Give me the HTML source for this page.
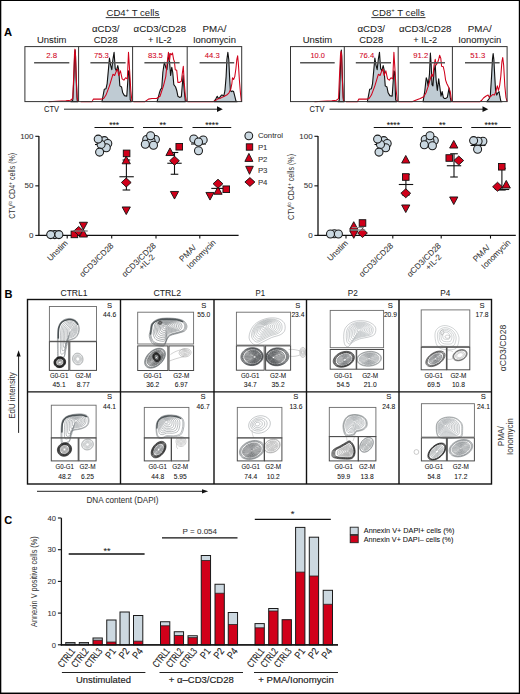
<!DOCTYPE html>
<html><head><meta charset="utf-8"><style>
html,body{margin:0;padding:0;background:#fff;}
svg{display:block;}
text{font-family:"Liberation Sans", sans-serif;}
</style></head><body>
<svg width="520" height="694" viewBox="0 0 520 694">
<rect x="0.5" y="0.5" width="519" height="693" fill="#fff" stroke="#000" stroke-width="1"/>
<line x1="1.5" y1="1" x2="1.5" y2="693" stroke="#000" stroke-opacity="0.3" stroke-width="1"/>
<line x1="1" y1="692.5" x2="519" y2="692.5" stroke="#000" stroke-opacity="0.45" stroke-width="1"/>
<line x1="518.5" y1="1" x2="518.5" y2="693" stroke="#000" stroke-opacity="0.2" stroke-width="1"/>
<text x="4" y="35.8" font-size="11.2" text-anchor="start" fill="#000" stroke="#000" stroke-width="0.06" font-weight="bold">A</text>
<text x="106.5" y="15.5" font-size="9.6" fill="#222" textLength="52.7" lengthAdjust="spacingAndGlyphs">CD4<tspan font-size="6" dy="-3.5">+</tspan><tspan dy="3.5"> T cells</tspan></text>
<line x1="105.7" y1="17.6" x2="159.9" y2="17.6" stroke="#333" stroke-width="1"/>
<text x="372.1" y="15.5" font-size="9.6" fill="#222" textLength="52.7" lengthAdjust="spacingAndGlyphs">CD8<tspan font-size="6" dy="-3.5">+</tspan><tspan dy="3.5"> T cells</tspan></text>
<line x1="371.3" y1="17.6" x2="425.5" y2="17.6" stroke="#333" stroke-width="1"/>
<text x="51.7" y="43.4" font-size="9.6" text-anchor="middle" fill="#222" stroke="#222" stroke-width="0.06" textLength="29.5" lengthAdjust="spacingAndGlyphs">Unstim</text>
<text x="105.7" y="32.2" font-size="9.6" text-anchor="middle" fill="#222" stroke="#222" stroke-width="0.06" textLength="27.5" lengthAdjust="spacingAndGlyphs">αCD3/</text>
<text x="105.7" y="43.4" font-size="9.6" text-anchor="middle" fill="#222" stroke="#222" stroke-width="0.06" textLength="23.8" lengthAdjust="spacingAndGlyphs">CD28</text>
<text x="159.85" y="32.2" font-size="9.6" text-anchor="middle" fill="#222" stroke="#222" stroke-width="0.06" textLength="52.5" lengthAdjust="spacingAndGlyphs">αCD3/CD28</text>
<text x="159.85" y="43.4" font-size="9.6" text-anchor="middle" fill="#222" stroke="#222" stroke-width="0.06" textLength="23.8" lengthAdjust="spacingAndGlyphs">+ IL-2</text>
<text x="214.45" y="32.2" font-size="9.6" text-anchor="middle" fill="#222" stroke="#222" stroke-width="0.06" textLength="23.8" lengthAdjust="spacingAndGlyphs">PMA/</text>
<text x="214.45" y="43.4" font-size="9.6" text-anchor="middle" fill="#222" stroke="#222" stroke-width="0.06" textLength="43" lengthAdjust="spacingAndGlyphs">Ionomycin</text>
<text x="317.4" y="43.4" font-size="9.6" text-anchor="middle" fill="#222" stroke="#222" stroke-width="0.06" textLength="29.5" lengthAdjust="spacingAndGlyphs">Unstim</text>
<text x="371.25" y="32.2" font-size="9.6" text-anchor="middle" fill="#222" stroke="#222" stroke-width="0.06" textLength="27.5" lengthAdjust="spacingAndGlyphs">αCD3/</text>
<text x="371.25" y="43.4" font-size="9.6" text-anchor="middle" fill="#222" stroke="#222" stroke-width="0.06" textLength="23.8" lengthAdjust="spacingAndGlyphs">CD28</text>
<text x="425.25" y="32.2" font-size="9.6" text-anchor="middle" fill="#222" stroke="#222" stroke-width="0.06" textLength="52.5" lengthAdjust="spacingAndGlyphs">αCD3/CD28</text>
<text x="425.25" y="43.4" font-size="9.6" text-anchor="middle" fill="#222" stroke="#222" stroke-width="0.06" textLength="23.8" lengthAdjust="spacingAndGlyphs">+ IL-2</text>
<text x="479.75" y="32.2" font-size="9.6" text-anchor="middle" fill="#222" stroke="#222" stroke-width="0.06" textLength="23.8" lengthAdjust="spacingAndGlyphs">PMA/</text>
<text x="479.75" y="43.4" font-size="9.6" text-anchor="middle" fill="#222" stroke="#222" stroke-width="0.06" textLength="43" lengthAdjust="spacingAndGlyphs">Ionomycin</text>
<g>
<path d="M71.04,101.65 L72.77,100.27 L73.92,76.61 L74.61,55.85 L75.07,50.08 L75.54,55.85 L76.23,80.08 L77.15,100.27 L77.96,101.65 Z" fill="#bfcbd3" stroke="#111" stroke-width="1.1" stroke-linejoin="round"/>
<path d="M48.54,101.65 L56.61,101.31 L65.84,100.84 L70.46,100.27 L72.77,98.54 L73.69,76.61 L74.5,53.54 L74.96,49.15 L75.42,53.54 L76.23,76.61 L77.15,97.38 L78.19,101.65" fill="none" stroke="#d0021b" stroke-width="1.05" stroke-linejoin="round"/>
<path d="M101.96,101.65 L104.27,89.31 L106,88.73 L107.15,83.54 L108.31,70.85 L109.46,58.15 L110.61,65.08 L111.77,69.69 L112.92,59.31 L114.08,52.38 L115.23,68.54 L116.38,70.85 L117.77,65.65 L118.69,69.69 L119.84,85.84 L121.58,87 L122.73,92.77 L124.46,95.65 L126.77,96.23 L128.5,70.85 L129.31,72 L130.23,99.69 L131.38,101.65 Z" fill="#bfcbd3" stroke="#111" stroke-width="1.1" stroke-linejoin="round"/>
<path d="M80.62,101.65 L92.15,101.65 L93.31,99.11 L101.38,99.11 L103.69,98.54 L106,95.07 L109.46,85.84 L112.92,74.31 L114.65,75.46 L116.38,70.85 L117.54,69.11 L118.69,75.46 L120.42,70.85 L122.15,78.92 L123.88,80.08 L125.61,77.77 L127.34,78.92 L128.5,52.38 L129.65,70.85 L130.81,90.46 L131.96,101.65" fill="none" stroke="#d0021b" stroke-width="1.05" stroke-linejoin="round"/>
<path d="M157.11,101.65 L159.42,92.77 L160.58,89.31 L161.73,88.15 L162.88,72 L164.38,62.19 L165.77,67.38 L166.92,69.69 L168.08,59.31 L169,53.54 L169.81,65.08 L170.61,75.46 L171.77,67.38 L172.69,72 L173.84,84.69 L175.58,87 L176.73,90.46 L177.88,96.23 L179.61,97.38 L181.34,96.81 L183.07,75.46 L184.23,90.46 L185.38,101.65 Z" fill="#bfcbd3" stroke="#111" stroke-width="1.1" stroke-linejoin="round"/>
<path d="M133.46,101.65 L145,101.65 L148.46,99.11 L151.92,98.54 L156.54,98.54 L160,96.23 L163.46,85.84 L165.77,76.61 L166.92,65.08 L168.42,52.38 L169.58,60.46 L170.38,53.54 L171.54,54.69 L172.46,52.96 L173.61,59.31 L174.42,61.61 L175.23,69.69 L176.73,70.27 L177.88,82.38 L179.61,82.38 L181.34,81.23 L182.5,72 L183.31,66.23 L184.23,82.38 L185.38,96.23 L186.54,101.65" fill="none" stroke="#d0021b" stroke-width="1.05" stroke-linejoin="round"/>
<path d="M214,101.65 L215.73,99.11 L217.23,96.23 L218.38,98.54 L219.77,97.38 L221.5,95.07 L222.42,95.07 L223.81,96.23 L224.96,90.46 L226.11,76.61 L226.92,59.31 L227.84,52.38 L228.77,59.31 L229.58,76.61 L230.38,90.46 L231.31,91.61 L232.46,91.04 L233.61,91.61 L234.77,96.23 L235.92,100.84 L237.07,101.65 Z" fill="#bfcbd3" stroke="#111" stroke-width="1.1" stroke-linejoin="round"/>
<path d="M187.46,101.65 L212.85,101.65 L215.15,100.84 L217.46,99.11 L219.77,98.54 L222.08,97.38 L224.38,96.23 L226.69,95.07 L229,92.77 L230.73,89.31 L231.88,83.54 L232.46,77.77 L233.61,79.5 L234.77,76.61 L235.92,68.54 L236.84,59.31 L237.65,55.85 L238.46,65.08 L239.38,80.08 L240.54,93.92 L241.46,101.65" fill="none" stroke="#d0021b" stroke-width="1.05" stroke-linejoin="round"/>
<path d="M338.19,101.65 L339.34,100.27 L340.15,76.61 L340.84,55.85 L341.31,50.08 L341.77,55.85 L342.46,80.08 L343.38,100.27 L344.19,101.65 Z" fill="#bfcbd3" stroke="#111" stroke-width="1.1" stroke-linejoin="round"/>
<path d="M314.54,101.65 L322.61,101.31 L331.84,100.84 L336.46,100.27 L338.54,98.54 L339.46,76.61 L340.5,54.69 L341.07,51.23 L341.54,54.69 L342.23,76.61 L343.15,97.38 L343.96,101.65" fill="none" stroke="#d0021b" stroke-width="1.05" stroke-linejoin="round"/>
<path d="M367.36,101.65 L369.67,89.31 L371.4,88.73 L372.55,83.54 L373.71,70.85 L374.86,58.15 L376.01,65.08 L377.17,69.69 L378.32,59.31 L379.48,52.38 L380.63,68.54 L381.78,70.85 L383.17,65.65 L384.09,69.69 L385.24,85.84 L386.98,87 L388.13,92.77 L389.86,95.65 L392.17,96.23 L393.9,70.85 L394.71,72 L395.63,99.69 L396.78,101.65 Z" fill="#bfcbd3" stroke="#111" stroke-width="1.1" stroke-linejoin="round"/>
<path d="M346.02,101.65 L357.55,101.65 L358.71,99.11 L366.78,99.11 L369.09,98.54 L371.4,95.07 L374.86,85.84 L378.32,74.31 L380.05,75.46 L381.78,70.85 L382.94,69.11 L384.09,75.46 L385.82,70.85 L387.55,78.92 L389.28,80.08 L391.01,77.77 L392.74,78.92 L393.9,52.38 L395.05,70.85 L396.21,90.46 L397.36,101.65" fill="none" stroke="#d0021b" stroke-width="1.05" stroke-linejoin="round"/>
<path d="M423.11,101.65 L424.85,90.46 L426.23,77.77 L427.15,80.08 L428.08,85.84 L429.46,74.31 L430.38,52.96 L431.19,65.08 L432,84.69 L432.92,85.84 L434.08,70.85 L435.23,65.08 L436.15,80.08 L437.31,90.46 L438.69,78.92 L439.84,87 L441,96.23 L442.15,91.61 L443.31,97.38 L444.46,98.54 L445.61,98.54 L447.34,97.38 L449.07,88.15 L450.23,97.38 L451.15,101.65 Z" fill="#bfcbd3" stroke="#111" stroke-width="1.1" stroke-linejoin="round"/>
<path d="M398.31,101.65 L412.15,101.65 L415.61,100.27 L420.23,98.54 L423.69,96.81 L426,92.77 L428.31,85.84 L430.61,77.77 L431.77,74.31 L432.92,76.61 L434.08,65.08 L435.23,59.31 L436.15,65.08 L437.54,62.77 L438.69,59.31 L439.61,55.27 L440.77,58.15 L441.58,66.23 L443.31,66.81 L444.46,72 L445.61,80.08 L446.77,83.54 L447.92,85.84 L449.07,88.15 L450.23,91.61 L451.38,99.69 L452.54,101.65" fill="none" stroke="#d0021b" stroke-width="1.05" stroke-linejoin="round"/>
<path d="M486.92,101.65 L489.23,98.54 L490.38,95.07 L491.54,76.61 L492.46,59.31 L493.15,53.54 L493.84,59.31 L494.77,76.61 L495.58,90.46 L496.73,95.07 L497.88,92.77 L499.04,91.61 L499.84,96.23 L500.77,100.84 L501.92,101.65 Z" fill="#bfcbd3" stroke="#111" stroke-width="1.1" stroke-linejoin="round"/>
<path d="M452.31,101.65 L480,101.65 L481.73,100.27 L483.46,97.96 L485.77,96.23 L488.08,95.07 L489.23,97.38 L490.96,96.23 L492.69,94.5 L494.42,95.07 L496.15,90.46 L497.31,85.84 L498.46,90.46 L499.61,85.84 L500.77,76.61 L501.92,61.61 L502.73,57.58 L503.65,65.08 L504.81,85.84 L505.96,97.38 L507.11,101.65" fill="none" stroke="#d0021b" stroke-width="1.05" stroke-linejoin="round"/>
</g>
<rect x="24.9" y="46.6" width="216.8" height="55" fill="none" stroke="#333" stroke-width="1"/>
<rect x="290.5" y="46.6" width="216.6" height="55" fill="none" stroke="#333" stroke-width="1"/>
<line x1="78.6" y1="46.6" x2="78.6" y2="101.6" stroke="#333" stroke-width="1"/>
<line x1="132.6" y1="46.6" x2="132.6" y2="101.6" stroke="#333" stroke-width="1"/>
<line x1="187.2" y1="46.6" x2="187.2" y2="101.6" stroke="#333" stroke-width="1"/>
<line x1="344.3" y1="46.6" x2="344.3" y2="101.6" stroke="#333" stroke-width="1"/>
<line x1="398.2" y1="46.6" x2="398.2" y2="101.6" stroke="#333" stroke-width="1"/>
<line x1="452.4" y1="46.6" x2="452.4" y2="101.6" stroke="#333" stroke-width="1"/>
<line x1="34.1" y1="62.8" x2="69.3" y2="62.8" stroke="#555" stroke-width="1.4"/>
<text x="51.7" y="58.4" font-size="7.4" text-anchor="middle" fill="#d0021b" stroke="#d0021b" stroke-width="0.06" textLength="11" lengthAdjust="spacingAndGlyphs">2.8</text>
<line x1="90.4" y1="62.8" x2="125.6" y2="62.8" stroke="#555" stroke-width="1.4"/>
<text x="101.4" y="58.4" font-size="7.4" text-anchor="middle" fill="#d0021b" stroke="#d0021b" stroke-width="0.06" textLength="15" lengthAdjust="spacingAndGlyphs">75.3</text>
<line x1="144.4" y1="62.8" x2="179.6" y2="62.8" stroke="#555" stroke-width="1.4"/>
<text x="155.4" y="58.4" font-size="7.4" text-anchor="middle" fill="#d0021b" stroke="#d0021b" stroke-width="0.06" textLength="15" lengthAdjust="spacingAndGlyphs">83.5</text>
<line x1="199.6" y1="62.8" x2="234.2" y2="62.8" stroke="#555" stroke-width="1.4"/>
<text x="212.3" y="58.4" font-size="7.4" text-anchor="middle" fill="#d0021b" stroke="#d0021b" stroke-width="0.06" textLength="15" lengthAdjust="spacingAndGlyphs">44.3</text>
<line x1="300.1" y1="62.8" x2="334.7" y2="62.8" stroke="#555" stroke-width="1.4"/>
<text x="317.7" y="58.4" font-size="7.4" text-anchor="middle" fill="#d0021b" stroke="#d0021b" stroke-width="0.06" textLength="14.4" lengthAdjust="spacingAndGlyphs">10.0</text>
<line x1="355.8" y1="62.8" x2="391" y2="62.8" stroke="#555" stroke-width="1.4"/>
<text x="366.8" y="58.4" font-size="7.4" text-anchor="middle" fill="#d0021b" stroke="#d0021b" stroke-width="0.06" textLength="15" lengthAdjust="spacingAndGlyphs">76.4</text>
<line x1="409.8" y1="62.8" x2="445" y2="62.8" stroke="#555" stroke-width="1.4"/>
<text x="420.8" y="58.4" font-size="7.4" text-anchor="middle" fill="#d0021b" stroke="#d0021b" stroke-width="0.06" textLength="15" lengthAdjust="spacingAndGlyphs">91.2</text>
<line x1="465" y1="62.8" x2="499.6" y2="62.8" stroke="#555" stroke-width="1.4"/>
<text x="477.7" y="58.4" font-size="7.4" text-anchor="middle" fill="#d0021b" stroke="#d0021b" stroke-width="0.06" textLength="15" lengthAdjust="spacingAndGlyphs">51.3</text>
<text x="44" y="111.7" font-size="8.6" text-anchor="start" fill="#222" stroke="#222" stroke-width="0.06" textLength="15" lengthAdjust="spacingAndGlyphs">CTV</text>
<line x1="64" y1="109.2" x2="218" y2="109.2" stroke="#222" stroke-width="1"/>
<path d="M217,106.3 L222.8,109.2 L217,112.1 Z" fill="#111"/>
<text x="309.5" y="111.7" font-size="8.6" text-anchor="start" fill="#222" stroke="#222" stroke-width="0.06" textLength="15" lengthAdjust="spacingAndGlyphs">CTV</text>
<line x1="329.5" y1="109.2" x2="483.5" y2="109.2" stroke="#222" stroke-width="1"/>
<path d="M482.5,106.3 L488.3,109.2 L482.5,112.1 Z" fill="#111"/>
<line x1="38.9" y1="136" x2="38.9" y2="236" stroke="#111" stroke-width="1.3"/>
<line x1="38.3" y1="235.4" x2="238.6" y2="235.4" stroke="#111" stroke-width="1.3"/>
<line x1="35.3" y1="136.3" x2="38.9" y2="136.3" stroke="#111" stroke-width="1.1"/>
<text x="33.5" y="138.7" font-size="8.0" text-anchor="end" fill="#333" stroke="#333" stroke-width="0.06">100</text>
<line x1="35.3" y1="185.85" x2="38.9" y2="185.85" stroke="#111" stroke-width="1.1"/>
<text x="33.5" y="188.25" font-size="8.0" text-anchor="end" fill="#333" stroke="#333" stroke-width="0.06">50</text>
<line x1="35.3" y1="235.4" x2="38.9" y2="235.4" stroke="#111" stroke-width="1.1"/>
<text x="33.5" y="237.8" font-size="8.0" text-anchor="end" fill="#333" stroke="#333" stroke-width="0.06">0</text>
<line x1="67.2" y1="235.4" x2="67.2" y2="238.6" stroke="#111" stroke-width="1.1"/>
<line x1="111.7" y1="235.4" x2="111.7" y2="238.6" stroke="#111" stroke-width="1.1"/>
<line x1="156" y1="235.4" x2="156" y2="238.6" stroke="#111" stroke-width="1.1"/>
<line x1="199.8" y1="235.4" x2="199.8" y2="238.6" stroke="#111" stroke-width="1.1"/>
<text x="0" y="0" font-size="8.6" text-anchor="middle" fill="#333" textLength="66" lengthAdjust="spacingAndGlyphs" transform="translate(14.8 185.8) rotate(-90)">CTV<tspan font-size="5.5" dy="-3">lo</tspan><tspan dy="3"> CD4</tspan><tspan font-size="6" dy="-3">+</tspan><tspan dy="3"> cells (%)</tspan></text>
<circle cx="54.8" cy="234.6" r="4.0" fill="#cad8e1" stroke="#1a1a1a" stroke-width="1.05"/>
<circle cx="50.7" cy="234.6" r="4.0" fill="#cad8e1" stroke="#1a1a1a" stroke-width="1.05"/>
<circle cx="58.9" cy="234.6" r="4.0" fill="#cad8e1" stroke="#1a1a1a" stroke-width="1.05"/>
<rect x="71.1" y="231.1" width="6.6" height="6.6" fill="#d0001a" stroke="#111" stroke-width="0.9"/>
<path d="M78.7,226.5 L83.6,231 L78.7,235.5 L73.8,231 Z" fill="#d0001a" stroke="#111" stroke-width="0.9"/>
<path d="M83.4,229.86 L87.5,222.26 L79.3,222.26 Z" fill="#d0001a" stroke="#111" stroke-width="0.9"/>
<path d="M83.4,229.44 L87.5,237.04 L79.3,237.04 Z" fill="#d0001a" stroke="#111" stroke-width="0.9" stroke-linejoin="miter"/>
<line x1="73.3" y1="231" x2="87.7" y2="231" stroke="#777" stroke-width="1.3"/>
<line x1="95" y1="144.5" x2="110" y2="144.5" stroke="#111" stroke-width="1.1"/>
<circle cx="104.4" cy="140.6" r="4.0" fill="#cad8e1" stroke="#1a1a1a" stroke-width="1.05"/>
<circle cx="107.8" cy="143.5" r="4.0" fill="#cad8e1" stroke="#1a1a1a" stroke-width="1.05"/>
<circle cx="106.3" cy="147.8" r="4.0" fill="#cad8e1" stroke="#1a1a1a" stroke-width="1.05"/>
<circle cx="101.1" cy="144.4" r="4.0" fill="#cad8e1" stroke="#1a1a1a" stroke-width="1.05"/>
<circle cx="98.2" cy="139.1" r="4.0" fill="#cad8e1" stroke="#1a1a1a" stroke-width="1.05"/>
<circle cx="99.6" cy="152.1" r="4.0" fill="#cad8e1" stroke="#1a1a1a" stroke-width="1.05"/>
<line x1="126.4" y1="160" x2="126.4" y2="190" stroke="#111" stroke-width="1.1"/>
<line x1="122.6" y1="160" x2="130.2" y2="160" stroke="#111" stroke-width="1.1"/>
<line x1="122.6" y1="190" x2="130.2" y2="190" stroke="#111" stroke-width="1.1"/>
<line x1="119.4" y1="176.75" x2="133.8" y2="176.75" stroke="#111" stroke-width="1.1"/>
<rect x="123.3" y="150.1" width="6.6" height="6.6" fill="#d0001a" stroke="#111" stroke-width="0.9"/>
<path d="M126.25,156.19 L130.35,163.79 L122.15,163.79 Z" fill="#d0001a" stroke="#111" stroke-width="0.9" stroke-linejoin="miter"/>
<path d="M126.25,178 L131.15,182.5 L126.25,187 L121.35,182.5 Z" fill="#d0001a" stroke="#111" stroke-width="0.9"/>
<path d="M126.25,214.56 L130.35,206.96 L122.15,206.96 Z" fill="#d0001a" stroke="#111" stroke-width="0.9"/>
<line x1="143.5" y1="140.5" x2="158.5" y2="140.5" stroke="#111" stroke-width="1.1"/>
<circle cx="146.7" cy="139.5" r="4.0" fill="#cad8e1" stroke="#1a1a1a" stroke-width="1.05"/>
<circle cx="155.4" cy="139.5" r="4.0" fill="#cad8e1" stroke="#1a1a1a" stroke-width="1.05"/>
<circle cx="151.1" cy="141" r="4.0" fill="#cad8e1" stroke="#1a1a1a" stroke-width="1.05"/>
<circle cx="150.6" cy="135.7" r="4.0" fill="#cad8e1" stroke="#1a1a1a" stroke-width="1.05"/>
<circle cx="145.3" cy="144.3" r="4.0" fill="#cad8e1" stroke="#1a1a1a" stroke-width="1.05"/>
<circle cx="153.5" cy="145.3" r="4.0" fill="#cad8e1" stroke="#1a1a1a" stroke-width="1.05"/>
<line x1="174.5" y1="152.5" x2="174.5" y2="174.25" stroke="#111" stroke-width="1.1"/>
<line x1="170.7" y1="152.5" x2="178.3" y2="152.5" stroke="#111" stroke-width="1.1"/>
<line x1="170.7" y1="174.25" x2="178.3" y2="174.25" stroke="#111" stroke-width="1.1"/>
<line x1="167.3" y1="163.25" x2="181.7" y2="163.25" stroke="#111" stroke-width="1.1"/>
<rect x="175.95" y="143.45" width="6.6" height="6.6" fill="#d0001a" stroke="#111" stroke-width="0.9"/>
<path d="M170,147.94 L174.1,155.54 L165.9,155.54 Z" fill="#d0001a" stroke="#111" stroke-width="0.9" stroke-linejoin="miter"/>
<path d="M174.5,156.25 L179.4,160.75 L174.5,165.25 L169.6,160.75 Z" fill="#d0001a" stroke="#111" stroke-width="0.9"/>
<path d="M174.5,199.06 L178.6,191.46 L170.4,191.46 Z" fill="#d0001a" stroke="#111" stroke-width="0.9"/>
<line x1="191" y1="144" x2="206" y2="144" stroke="#111" stroke-width="1.1"/>
<circle cx="193.8" cy="138.9" r="4.0" fill="#cad8e1" stroke="#1a1a1a" stroke-width="1.05"/>
<circle cx="203.2" cy="139.9" r="4.0" fill="#cad8e1" stroke="#1a1a1a" stroke-width="1.05"/>
<circle cx="198.5" cy="142" r="4.0" fill="#cad8e1" stroke="#1a1a1a" stroke-width="1.05"/>
<circle cx="198.5" cy="150.8" r="4.0" fill="#cad8e1" stroke="#1a1a1a" stroke-width="1.05"/>
<line x1="211.3" y1="188.4" x2="225.7" y2="188.4" stroke="#111" stroke-width="1.1"/>
<path d="M210,200.06 L214.1,192.46 L205.9,192.46 Z" fill="#d0001a" stroke="#111" stroke-width="0.9"/>
<path d="M218,186.69 L222.1,194.29 L213.9,194.29 Z" fill="#d0001a" stroke="#111" stroke-width="0.9" stroke-linejoin="miter"/>
<path d="M218,179.25 L222.9,183.75 L218,188.25 L213.1,183.75 Z" fill="#d0001a" stroke="#111" stroke-width="0.9"/>
<rect x="222.95" y="185.95" width="6.6" height="6.6" fill="#d0001a" stroke="#111" stroke-width="0.9"/>
<line x1="318" y1="136" x2="318" y2="236" stroke="#111" stroke-width="1.3"/>
<line x1="317.4" y1="235.4" x2="515.8" y2="235.4" stroke="#111" stroke-width="1.3"/>
<line x1="314.4" y1="136.3" x2="318" y2="136.3" stroke="#111" stroke-width="1.1"/>
<text x="312.6" y="138.7" font-size="8.0" text-anchor="end" fill="#333" stroke="#333" stroke-width="0.06">100</text>
<line x1="314.4" y1="185.85" x2="318" y2="185.85" stroke="#111" stroke-width="1.1"/>
<text x="312.6" y="188.25" font-size="8.0" text-anchor="end" fill="#333" stroke="#333" stroke-width="0.06">50</text>
<line x1="314.4" y1="235.4" x2="318" y2="235.4" stroke="#111" stroke-width="1.1"/>
<text x="312.6" y="237.8" font-size="8.0" text-anchor="end" fill="#333" stroke="#333" stroke-width="0.06">0</text>
<line x1="346" y1="235.4" x2="346" y2="238.6" stroke="#111" stroke-width="1.1"/>
<line x1="392.8" y1="235.4" x2="392.8" y2="238.6" stroke="#111" stroke-width="1.1"/>
<line x1="441.2" y1="235.4" x2="441.2" y2="238.6" stroke="#111" stroke-width="1.1"/>
<line x1="490.5" y1="235.4" x2="490.5" y2="238.6" stroke="#111" stroke-width="1.1"/>
<text x="0" y="0" font-size="8.6" text-anchor="middle" fill="#333" textLength="66" lengthAdjust="spacingAndGlyphs" transform="translate(293.6 187) rotate(-90)">CTV<tspan font-size="5.5" dy="-3">lo</tspan><tspan dy="3"> CD4</tspan><tspan font-size="6" dy="-3">+</tspan><tspan dy="3"> cells (%)</tspan></text>
<circle cx="334.4" cy="233.8" r="4.0" fill="#cad8e1" stroke="#1a1a1a" stroke-width="1.05"/>
<circle cx="330.5" cy="234" r="4.0" fill="#cad8e1" stroke="#1a1a1a" stroke-width="1.05"/>
<circle cx="338.4" cy="234" r="4.0" fill="#cad8e1" stroke="#1a1a1a" stroke-width="1.05"/>
<path d="M353.75,221.69 L357.85,229.29 L349.65,229.29 Z" fill="#d0001a" stroke="#111" stroke-width="0.9" stroke-linejoin="miter"/>
<path d="M353.75,238.31 L357.85,230.71 L349.65,230.71 Z" fill="#d0001a" stroke="#111" stroke-width="0.9"/>
<rect x="359.2" y="219.7" width="6.6" height="6.6" fill="#d0001a" stroke="#111" stroke-width="0.9"/>
<path d="M362.5,228.5 L367.4,233 L362.5,237.5 L357.6,233 Z" fill="#d0001a" stroke="#111" stroke-width="0.9"/>
<line x1="350.8" y1="230" x2="365.2" y2="230" stroke="#8a8a8a" stroke-width="1.3"/>
<line x1="352" y1="227.6" x2="364" y2="227.6" stroke="#8a8a8a" stroke-width="1.0"/>
<line x1="374.5" y1="144.5" x2="389.5" y2="144.5" stroke="#111" stroke-width="1.1"/>
<circle cx="383.8" cy="140.6" r="4.0" fill="#cad8e1" stroke="#1a1a1a" stroke-width="1.05"/>
<circle cx="387.2" cy="143.5" r="4.0" fill="#cad8e1" stroke="#1a1a1a" stroke-width="1.05"/>
<circle cx="385.7" cy="147.8" r="4.0" fill="#cad8e1" stroke="#1a1a1a" stroke-width="1.05"/>
<circle cx="380.5" cy="144.4" r="4.0" fill="#cad8e1" stroke="#1a1a1a" stroke-width="1.05"/>
<circle cx="377.6" cy="139.1" r="4.0" fill="#cad8e1" stroke="#1a1a1a" stroke-width="1.05"/>
<circle cx="379" cy="152.1" r="4.0" fill="#cad8e1" stroke="#1a1a1a" stroke-width="1.05"/>
<line x1="405.9" y1="174.5" x2="405.9" y2="195" stroke="#111" stroke-width="1.1"/>
<line x1="402.1" y1="174.5" x2="409.7" y2="174.5" stroke="#111" stroke-width="1.1"/>
<line x1="402.1" y1="195" x2="409.7" y2="195" stroke="#111" stroke-width="1.1"/>
<line x1="398.8" y1="184.5" x2="413.2" y2="184.5" stroke="#111" stroke-width="1.1"/>
<path d="M405.75,155.44 L409.85,163.04 L401.65,163.04 Z" fill="#d0001a" stroke="#111" stroke-width="0.9" stroke-linejoin="miter"/>
<rect x="402.45" y="173.7" width="6.6" height="6.6" fill="#d0001a" stroke="#111" stroke-width="0.9"/>
<path d="M405.75,188.75 L410.65,193.25 L405.75,197.75 L400.85,193.25 Z" fill="#d0001a" stroke="#111" stroke-width="0.9"/>
<path d="M405.75,212.56 L409.85,204.96 L401.65,204.96 Z" fill="#d0001a" stroke="#111" stroke-width="0.9"/>
<line x1="422.5" y1="141" x2="437.5" y2="141" stroke="#111" stroke-width="1.1"/>
<circle cx="425.2" cy="139.5" r="4.0" fill="#cad8e1" stroke="#1a1a1a" stroke-width="1.05"/>
<circle cx="434.3" cy="140.5" r="4.0" fill="#cad8e1" stroke="#1a1a1a" stroke-width="1.05"/>
<circle cx="430" cy="141" r="4.0" fill="#cad8e1" stroke="#1a1a1a" stroke-width="1.05"/>
<circle cx="430" cy="135.7" r="4.0" fill="#cad8e1" stroke="#1a1a1a" stroke-width="1.05"/>
<circle cx="424.3" cy="144.8" r="4.0" fill="#cad8e1" stroke="#1a1a1a" stroke-width="1.05"/>
<circle cx="432.4" cy="145.8" r="4.0" fill="#cad8e1" stroke="#1a1a1a" stroke-width="1.05"/>
<line x1="454" y1="153.75" x2="454" y2="177" stroke="#111" stroke-width="1.1"/>
<line x1="450.2" y1="153.75" x2="457.8" y2="153.75" stroke="#111" stroke-width="1.1"/>
<line x1="450.2" y1="177" x2="457.8" y2="177" stroke="#111" stroke-width="1.1"/>
<line x1="446.8" y1="165.75" x2="461.2" y2="165.75" stroke="#111" stroke-width="1.1"/>
<path d="M453.75,140.44 L457.85,148.04 L449.65,148.04 Z" fill="#d0001a" stroke="#111" stroke-width="0.9" stroke-linejoin="miter"/>
<rect x="445.95" y="154.7" width="6.6" height="6.6" fill="#d0001a" stroke="#111" stroke-width="0.9"/>
<path d="M458.75,156 L463.65,160.5 L458.75,165 L453.85,160.5 Z" fill="#d0001a" stroke="#111" stroke-width="0.9"/>
<path d="M453.75,204.56 L457.85,196.96 L449.65,196.96 Z" fill="#d0001a" stroke="#111" stroke-width="0.9"/>
<line x1="470.5" y1="145.5" x2="485.5" y2="145.5" stroke="#111" stroke-width="1.1"/>
<circle cx="482.9" cy="141.3" r="4.0" fill="#cad8e1" stroke="#1a1a1a" stroke-width="1.05"/>
<circle cx="478.1" cy="141.3" r="4.0" fill="#cad8e1" stroke="#1a1a1a" stroke-width="1.05"/>
<circle cx="473.6" cy="140.6" r="4.0" fill="#cad8e1" stroke="#1a1a1a" stroke-width="1.05"/>
<circle cx="477.6" cy="149.2" r="4.0" fill="#cad8e1" stroke="#1a1a1a" stroke-width="1.05"/>
<line x1="501.9" y1="168.3" x2="501.9" y2="190" stroke="#111" stroke-width="1.1"/>
<line x1="498.1" y1="168.3" x2="505.7" y2="168.3" stroke="#111" stroke-width="1.1"/>
<line x1="498.1" y1="190" x2="505.7" y2="190" stroke="#111" stroke-width="1.1"/>
<line x1="494.8" y1="189.5" x2="509.2" y2="189.5" stroke="#111" stroke-width="1.1"/>
<rect x="498.45" y="163.45" width="6.6" height="6.6" fill="#d0001a" stroke="#111" stroke-width="0.9"/>
<path d="M497.5,182.25 L502.4,186.75 L497.5,191.25 L492.6,186.75 Z" fill="#d0001a" stroke="#111" stroke-width="0.9"/>
<path d="M506.25,180.44 L510.35,188.04 L502.15,188.04 Z" fill="#d0001a" stroke="#111" stroke-width="0.9" stroke-linejoin="miter"/>
<line x1="94.5" y1="127.5" x2="133.75" y2="127.5" stroke="#111" stroke-width="1.2"/>
<text x="114.12" y="127.9" font-size="8.5" text-anchor="middle" fill="#111" stroke="#111" stroke-width="0.06">***</text>
<line x1="143" y1="127.5" x2="182.5" y2="127.5" stroke="#111" stroke-width="1.2"/>
<text x="162.75" y="127.9" font-size="8.5" text-anchor="middle" fill="#111" stroke="#111" stroke-width="0.06">**</text>
<line x1="192.5" y1="127.5" x2="231.25" y2="127.5" stroke="#111" stroke-width="1.2"/>
<text x="211.88" y="127.9" font-size="8.5" text-anchor="middle" fill="#111" stroke="#111" stroke-width="0.06">****</text>
<line x1="373.75" y1="127.5" x2="413" y2="127.5" stroke="#111" stroke-width="1.2"/>
<text x="393.38" y="127.9" font-size="8.5" text-anchor="middle" fill="#111" stroke="#111" stroke-width="0.06">****</text>
<line x1="422.5" y1="127.5" x2="462" y2="127.5" stroke="#111" stroke-width="1.2"/>
<text x="442.25" y="127.9" font-size="8.5" text-anchor="middle" fill="#111" stroke="#111" stroke-width="0.06">**</text>
<line x1="471.25" y1="127.5" x2="510.75" y2="127.5" stroke="#111" stroke-width="1.2"/>
<text x="491" y="127.9" font-size="8.5" text-anchor="middle" fill="#111" stroke="#111" stroke-width="0.06">****</text>
<circle cx="248.8" cy="135.8" r="3.9" fill="#cad8e1" stroke="#1a1a1a" stroke-width="1.05"/>
<rect x="246.3" y="143.8" width="6.4" height="6.4" fill="#d0001a" stroke="#111" stroke-width="0.9"/>
<path d="M248.9,153.4 L252.9,161.4 L244.9,161.4 Z" fill="#d0001a" stroke="#111" stroke-width="0.9" stroke-linejoin="miter"/>
<path d="M249.5,174.3 L253.3,166.3 L245.7,166.3 Z" fill="#d0001a" stroke="#111" stroke-width="0.9"/>
<path d="M249.9,177.6 L254.9,182 L249.9,186.4 L244.9,182 Z" fill="#d0001a" stroke="#111" stroke-width="0.9"/>
<text x="257.9" y="138.2" font-size="7.8" text-anchor="start" fill="#333" stroke="#333" stroke-width="0.06">Control</text>
<text x="257.9" y="150" font-size="7.8" text-anchor="start" fill="#333" stroke="#333" stroke-width="0.06">P1</text>
<text x="257.9" y="161.5" font-size="7.8" text-anchor="start" fill="#333" stroke="#333" stroke-width="0.06">P2</text>
<text x="257.9" y="172.9" font-size="7.8" text-anchor="start" fill="#333" stroke="#333" stroke-width="0.06">P3</text>
<text x="257.9" y="184.6" font-size="7.8" text-anchor="start" fill="#333" stroke="#333" stroke-width="0.06">P4</text>
<text x="0" y="0" font-size="8.2" text-anchor="end" fill="#333" stroke="#333" stroke-width="0.06" transform="translate(68.4 243.6) rotate(-45)">Unstim</text>
<text x="0" y="0" font-size="8.2" text-anchor="end" fill="#333" stroke="#333" stroke-width="0.06" transform="translate(114.1 246.2) rotate(-45)">αCD3/CD28</text>
<text x="0" y="0" font-size="8.2" text-anchor="end" fill="#333" stroke="#333" stroke-width="0.06" transform="translate(156.4 246.2) rotate(-45)">αCD3/CD28</text>
<text x="0" y="0" font-size="8.2" text-anchor="end" fill="#333" stroke="#333" stroke-width="0.06" transform="translate(155.3 257.5) rotate(-45)">+IL-2</text>
<text x="0" y="0" font-size="8.2" text-anchor="end" fill="#333" stroke="#333" stroke-width="0.06" transform="translate(196.7 248.1) rotate(-45)">PMA/</text>
<text x="0" y="0" font-size="8.2" text-anchor="end" fill="#333" stroke="#333" stroke-width="0.06" transform="translate(216.3 243) rotate(-45)">Ionomycin</text>
<text x="0" y="0" font-size="8.2" text-anchor="end" fill="#333" stroke="#333" stroke-width="0.06" transform="translate(348.5 243.6) rotate(-45)">Unstim</text>
<text x="0" y="0" font-size="8.2" text-anchor="end" fill="#333" stroke="#333" stroke-width="0.06" transform="translate(393.7 246.2) rotate(-45)">αCD3/CD28</text>
<text x="0" y="0" font-size="8.2" text-anchor="end" fill="#333" stroke="#333" stroke-width="0.06" transform="translate(441.6 246.2) rotate(-45)">αCD3/CD28</text>
<text x="0" y="0" font-size="8.2" text-anchor="end" fill="#333" stroke="#333" stroke-width="0.06" transform="translate(442 257.5) rotate(-45)">+IL-2</text>
<text x="0" y="0" font-size="8.2" text-anchor="end" fill="#333" stroke="#333" stroke-width="0.06" transform="translate(490.4 248.1) rotate(-45)">PMA/</text>
<text x="0" y="0" font-size="8.2" text-anchor="end" fill="#333" stroke="#333" stroke-width="0.06" transform="translate(511 243) rotate(-45)">Ionomycin</text>
<g id="B">
<text x="4.5" y="298" font-size="11.0" text-anchor="start" fill="#000" stroke="#000" stroke-width="0.06" font-weight="bold">B</text>
<text x="74" y="296.3" font-size="9.4" text-anchor="middle" fill="#222" stroke="#222" stroke-width="0.06" textLength="27" lengthAdjust="spacingAndGlyphs">CTRL1</text>
<text x="167.25" y="296.3" font-size="9.4" text-anchor="middle" fill="#222" stroke="#222" stroke-width="0.06" textLength="27.5" lengthAdjust="spacingAndGlyphs">CTRL2</text>
<text x="260.25" y="296.3" font-size="9.4" text-anchor="middle" fill="#222" stroke="#222" stroke-width="0.06" textLength="9.5" lengthAdjust="spacingAndGlyphs">P1</text>
<text x="352.75" y="296.3" font-size="9.4" text-anchor="middle" fill="#222" stroke="#222" stroke-width="0.06" textLength="10" lengthAdjust="spacingAndGlyphs">P2</text>
<text x="445.25" y="296.3" font-size="9.4" text-anchor="middle" fill="#222" stroke="#222" stroke-width="0.06" textLength="10" lengthAdjust="spacingAndGlyphs">P4</text>
<path d="M58.2,361 C57.08,359.5 57.62,352.05 57.5,348 C57.38,343.95 57.3,340.33 57.5,336.7 C57.7,333.07 57.87,328.88 58.7,326.2 C59.53,323.52 60.73,321.9 62.5,320.6 C64.27,319.3 67.07,318.4 69.3,318.4 C71.53,318.4 74.28,319.3 75.9,320.6 C77.52,321.9 78.52,324.22 79,326.2 C79.48,328.18 79.35,330.57 78.8,332.5 C78.25,334.43 77.1,336.55 75.7,337.8 C74.3,339.05 71.95,339.3 70.4,340 C68.85,340.7 67.3,340.58 66.4,342 C65.5,343.42 65.37,346 65,348.5 C64.63,351 65.33,354.92 64.2,357 C63.07,359.08 59.32,362.5 58.2,361 Z" fill="none" fill-opacity="1.0" stroke="#6a7074" stroke-width="0.5"/>
<path d="M58.94,359.14 C57.89,357.73 58.39,350.73 58.28,346.92 C58.17,343.11 58.09,339.71 58.28,336.3 C58.47,332.88 58.62,328.95 59.41,326.43 C60.19,323.91 61.32,322.39 62.98,321.16 C64.64,319.94 67.27,319.1 69.37,319.1 C71.47,319.1 74.06,319.94 75.58,321.16 C77.1,322.39 78.04,324.56 78.49,326.43 C78.94,328.29 78.82,330.53 78.3,332.35 C77.78,334.17 76.7,336.16 75.39,337.33 C74.07,338.51 71.86,338.74 70.41,339.4 C68.95,340.06 67.49,339.95 66.65,341.28 C65.8,342.61 65.67,345.04 65.33,347.39 C64.99,349.74 65.64,353.42 64.58,355.38 C63.51,357.34 59.99,360.55 58.94,359.14 Z" fill="none" fill-opacity="1.0" stroke="#6a7074" stroke-width="0.5"/>
<path d="M61.01,353.92 C60.15,352.76 60.56,347.01 60.47,343.89 C60.38,340.76 60.32,337.97 60.47,335.17 C60.62,332.37 60.75,329.14 61.4,327.07 C62.04,325 62.96,323.75 64.33,322.75 C65.69,321.74 67.85,321.05 69.57,321.05 C71.3,321.05 73.42,321.74 74.67,322.75 C75.91,323.75 76.69,325.54 77.06,327.07 C77.43,328.6 77.33,330.44 76.9,331.93 C76.48,333.42 75.59,335.05 74.51,336.02 C73.43,336.98 71.62,337.18 70.42,337.72 C69.23,338.26 68.03,338.17 67.34,339.26 C66.64,340.35 66.54,342.34 66.26,344.27 C65.97,346.2 66.51,349.22 65.64,350.83 C64.76,352.44 61.87,355.07 61.01,353.92 Z" fill="none" fill-opacity="1.0" stroke="#80878b" stroke-width="0.5"/>
<path d="M62.34,350.56 C61.6,349.56 61.96,344.62 61.88,341.94 C61.8,339.25 61.75,336.85 61.88,334.44 C62.01,332.03 62.12,329.26 62.68,327.48 C63.23,325.7 64.02,324.63 65.2,323.77 C66.37,322.91 68.22,322.31 69.7,322.31 C71.19,322.31 73.01,322.91 74.08,323.77 C75.15,324.63 75.82,326.17 76.14,327.48 C76.46,328.8 76.37,330.38 76,331.66 C75.64,332.94 74.88,334.34 73.95,335.17 C73.02,336 71.46,336.17 70.43,336.63 C69.41,337.09 68.38,337.02 67.78,337.96 C67.18,338.9 67.1,340.61 66.85,342.27 C66.61,343.92 67.07,346.52 66.32,347.9 C65.57,349.28 63.08,351.55 62.34,350.56 Z" fill="none" fill-opacity="1.0" stroke="#80878b" stroke-width="0.5"/>
<path d="M63.68,347.19 C63.06,346.36 63.35,342.23 63.29,339.98 C63.23,337.74 63.18,335.73 63.29,333.72 C63.4,331.7 63.49,329.38 63.96,327.89 C64.42,326.4 65.08,325.51 66.06,324.79 C67.04,324.07 68.6,323.57 69.83,323.57 C71.07,323.57 72.6,324.07 73.49,324.79 C74.39,325.51 74.95,326.79 75.21,327.89 C75.48,328.99 75.41,330.31 75.1,331.39 C74.8,332.46 74.16,333.63 73.38,334.33 C72.61,335.02 71.3,335.16 70.44,335.55 C69.58,335.93 68.73,335.87 68.23,336.66 C67.73,337.44 67.65,338.87 67.45,340.26 C67.25,341.65 67.63,343.82 67.01,344.97 C66.38,346.13 64.3,348.02 63.68,347.19 Z" fill="none" fill-opacity="1.0" stroke="#80878b" stroke-width="0.5"/>
<path d="M65.01,343.83 C64.51,343.16 64.75,339.84 64.7,338.03 C64.65,336.22 64.61,334.61 64.7,332.99 C64.79,331.37 64.86,329.5 65.24,328.3 C65.61,327.11 66.14,326.39 66.93,325.81 C67.72,325.23 68.97,324.82 69.96,324.82 C70.96,324.82 72.19,325.23 72.91,325.81 C73.63,326.39 74.08,327.42 74.29,328.3 C74.51,329.19 74.45,330.25 74.2,331.12 C73.96,331.98 73.44,332.92 72.82,333.48 C72.2,334.04 71.15,334.15 70.46,334.46 C69.76,334.77 69.07,334.72 68.67,335.35 C68.27,335.99 68.21,337.14 68.05,338.25 C67.88,339.37 68.19,341.12 67.69,342.05 C67.18,342.98 65.51,344.5 65.01,343.83 Z" fill="none" fill-opacity="1.0" stroke="#80878b" stroke-width="0.5"/>
<path d="M66.35,340.47 C65.97,339.96 66.15,337.45 66.11,336.08 C66.07,334.71 66.04,333.49 66.11,332.26 C66.18,331.04 66.23,329.62 66.52,328.72 C66.8,327.81 67.2,327.26 67.8,326.83 C68.4,326.39 69.34,326.08 70.09,326.08 C70.85,326.08 71.78,326.39 72.32,326.83 C72.87,327.26 73.21,328.05 73.37,328.72 C73.53,329.39 73.49,330.19 73.3,330.84 C73.12,331.5 72.73,332.21 72.26,332.63 C71.78,333.06 70.99,333.14 70.47,333.38 C69.94,333.61 69.42,333.57 69.12,334.05 C68.81,334.53 68.77,335.4 68.64,336.25 C68.52,337.09 68.76,338.41 68.37,339.12 C67.99,339.82 66.72,340.97 66.35,340.47 Z" fill="none" fill-opacity="1.0" stroke="#80878b" stroke-width="0.5"/>
<path d="M67.68,337.11 C67.42,336.76 67.55,335.05 67.52,334.13 C67.49,333.2 67.47,332.37 67.52,331.54 C67.57,330.7 67.6,329.74 67.8,329.13 C67.99,328.51 68.26,328.14 68.67,327.85 C69.07,327.55 69.71,327.34 70.22,327.34 C70.74,327.34 71.37,327.55 71.74,327.85 C72.11,328.14 72.34,328.67 72.45,329.13 C72.56,329.58 72.53,330.13 72.4,330.57 C72.28,331.02 72.01,331.5 71.69,331.79 C71.37,332.07 70.83,332.13 70.48,332.29 C70.12,332.45 69.77,332.43 69.56,332.75 C69.35,333.08 69.32,333.67 69.24,334.24 C69.16,334.81 69.32,335.71 69.06,336.19 C68.8,336.67 67.94,337.45 67.68,337.11 Z" fill="none" fill-opacity="1.0" stroke="#80878b" stroke-width="0.5"/>
<path d="M69.01,333.74 C68.88,333.56 68.94,332.66 68.93,332.17 C68.92,331.68 68.91,331.25 68.93,330.81 C68.95,330.37 68.97,329.87 69.08,329.54 C69.18,329.22 69.32,329.02 69.53,328.86 C69.75,328.71 70.09,328.6 70.36,328.6 C70.62,328.6 70.96,328.71 71.15,328.86 C71.35,329.02 71.47,329.3 71.53,329.54 C71.58,329.78 71.57,330.07 71.5,330.3 C71.44,330.54 71.3,330.79 71.13,330.94 C70.96,331.09 70.68,331.12 70.49,331.21 C70.3,331.29 70.11,331.28 70,331.45 C69.9,331.62 69.88,331.93 69.84,332.23 C69.79,332.54 69.88,333.01 69.74,333.26 C69.6,333.51 69.15,333.92 69.01,333.74 Z" fill="none" fill-opacity="1.0" stroke="#80878b" stroke-width="0.5"/>
<path d="M58.3,338 C58.37,336.33 58.12,330.62 58.7,328 C59.28,325.38 60.33,323.68 61.8,322.3 C63.27,320.92 65.42,319.98 67.5,319.7 C69.58,319.42 72.62,319.85 74.3,320.6 C75.98,321.35 77.05,323.6 77.6,324.2" fill="none" stroke="#4a5154" stroke-width="1.5" stroke-linecap="round"/>
<path d="M65.34,360.18 C65.65,361.03 65.72,362.09 65.52,362.99 C65.33,363.89 64.82,364.87 64.17,365.59 C63.53,366.3 62.57,366.94 61.65,367.27 C60.72,367.61 59.58,367.74 58.63,367.6 C57.67,367.47 56.65,367.05 55.92,366.48 C55.19,365.92 54.56,365.06 54.26,364.22 C53.95,363.37 53.88,362.31 54.08,361.41 C54.27,360.51 54.78,359.53 55.43,358.81 C56.07,358.1 57.03,357.46 57.95,357.13 C58.88,356.79 60.02,356.66 60.97,356.8 C61.93,356.93 62.95,357.35 63.68,357.92 C64.41,358.48 65.04,359.34 65.34,360.18 Z" fill="none" fill-opacity="1.0" stroke="#111" stroke-width="0.65"/>
<path d="M65.04,360.29 C65.33,361.09 65.39,362.1 65.21,362.95 C65.03,363.8 64.54,364.72 63.93,365.4 C63.32,366.07 62.42,366.68 61.55,367 C60.67,367.31 59.59,367.43 58.69,367.31 C57.79,367.18 56.82,366.78 56.14,366.25 C55.45,365.72 54.85,364.91 54.56,364.11 C54.27,363.31 54.21,362.3 54.39,361.45 C54.57,360.6 55.06,359.68 55.67,359 C56.28,358.33 57.18,357.72 58.05,357.4 C58.93,357.09 60.01,356.97 60.91,357.09 C61.81,357.22 62.78,357.62 63.46,358.15 C64.15,358.68 64.75,359.49 65.04,360.29 Z" fill="none" fill-opacity="1.0" stroke="#111" stroke-width="0.65"/>
<path d="M64.73,360.4 C65.01,361.16 65.07,362.1 64.9,362.9 C64.72,363.7 64.27,364.58 63.69,365.21 C63.12,365.85 62.27,366.42 61.44,366.72 C60.62,367.02 59.61,367.13 58.76,367.01 C57.91,366.89 57,366.52 56.35,366.01 C55.7,365.51 55.14,364.75 54.87,364 C54.59,363.24 54.53,362.3 54.7,361.5 C54.88,360.7 55.33,359.82 55.91,359.19 C56.48,358.55 57.33,357.98 58.16,357.68 C58.98,357.38 59.99,357.27 60.84,357.39 C61.69,357.51 62.6,357.88 63.25,358.39 C63.9,358.89 64.46,359.65 64.73,360.4 Z" fill="none" fill-opacity="1.0" stroke="#111" stroke-width="0.65"/>
<path d="M64.43,360.52 C64.69,361.22 64.74,362.11 64.58,362.86 C64.42,363.61 63.99,364.43 63.45,365.03 C62.91,365.62 62.11,366.16 61.34,366.44 C60.57,366.72 59.62,366.82 58.82,366.71 C58.02,366.6 57.17,366.25 56.56,365.78 C55.95,365.31 55.43,364.59 55.17,363.88 C54.91,363.18 54.86,362.29 55.02,361.54 C55.18,360.79 55.61,359.97 56.15,359.37 C56.69,358.78 57.49,358.24 58.26,357.96 C59.03,357.68 59.98,357.58 60.78,357.69 C61.58,357.8 62.43,358.15 63.04,358.62 C63.65,359.09 64.17,359.81 64.43,360.52 Z" fill="none" fill-opacity="1.0" stroke="#111" stroke-width="0.65"/>
<path d="M64.12,360.63 C64.36,361.29 64.42,362.11 64.27,362.82 C64.11,363.52 63.71,364.28 63.21,364.84 C62.71,365.4 61.96,365.9 61.24,366.16 C60.52,366.42 59.63,366.52 58.89,366.41 C58.14,366.31 57.34,365.98 56.78,365.54 C56.21,365.1 55.72,364.43 55.48,363.77 C55.24,363.11 55.18,362.29 55.33,361.58 C55.49,360.88 55.89,360.12 56.39,359.56 C56.89,359 57.64,358.5 58.36,358.24 C59.08,357.98 59.97,357.88 60.71,357.99 C61.46,358.09 62.26,358.42 62.82,358.86 C63.39,359.3 63.88,359.97 64.12,360.63 Z" fill="none" fill-opacity="1.0" stroke="#111" stroke-width="0.65"/>
<path d="M63.82,360.74 C64.04,361.35 64.09,362.12 63.95,362.77 C63.81,363.43 63.44,364.14 62.97,364.65 C62.5,365.17 61.81,365.64 61.14,365.88 C60.47,366.12 59.64,366.21 58.95,366.12 C58.26,366.02 57.52,365.72 56.99,365.31 C56.46,364.9 56,364.28 55.78,363.66 C55.56,363.05 55.51,362.28 55.65,361.63 C55.79,360.97 56.16,360.26 56.63,359.75 C57.1,359.23 57.79,358.76 58.46,358.52 C59.13,358.28 59.96,358.19 60.65,358.28 C61.34,358.38 62.08,358.68 62.61,359.09 C63.14,359.5 63.6,360.12 63.82,360.74 Z" fill="none" fill-opacity="1.0" stroke="#111" stroke-width="0.65"/>
<path d="M63.51,360.85 C63.72,361.41 63.77,362.13 63.64,362.73 C63.5,363.33 63.16,363.99 62.73,364.47 C62.3,364.95 61.66,365.37 61.04,365.6 C60.42,365.83 59.65,365.91 59.01,365.82 C58.38,365.73 57.69,365.45 57.2,365.07 C56.71,364.69 56.29,364.12 56.09,363.55 C55.88,362.99 55.83,362.27 55.96,361.67 C56.1,361.07 56.44,360.41 56.87,359.93 C57.3,359.45 57.94,359.03 58.56,358.8 C59.18,358.57 59.95,358.49 60.59,358.58 C61.22,358.67 61.91,358.95 62.4,359.33 C62.89,359.71 63.31,360.28 63.51,360.85 Z" fill="none" fill-opacity="1.0" stroke="#111" stroke-width="0.65"/>
<path d="M62.54,361.2 C62.69,361.62 62.72,362.15 62.62,362.59 C62.53,363.03 62.28,363.52 61.96,363.87 C61.64,364.22 61.17,364.54 60.71,364.7 C60.26,364.87 59.69,364.93 59.22,364.87 C58.75,364.8 58.25,364.59 57.89,364.31 C57.53,364.04 57.22,363.61 57.06,363.2 C56.91,362.78 56.88,362.25 56.98,361.81 C57.07,361.37 57.32,360.88 57.64,360.53 C57.96,360.18 58.43,359.86 58.89,359.7 C59.34,359.53 59.91,359.47 60.38,359.53 C60.85,359.6 61.35,359.81 61.71,360.09 C62.07,360.36 62.38,360.79 62.54,361.2 Z" fill="none" fill-opacity="1.0" stroke="#666" stroke-width="0.45"/>
<path d="M61.86,361.45 C61.98,361.76 62,362.16 61.93,362.49 C61.86,362.83 61.67,363.19 61.43,363.46 C61.19,363.72 60.83,363.96 60.49,364.09 C60.14,364.21 59.72,364.26 59.36,364.21 C59.01,364.16 58.63,364 58.36,363.79 C58.09,363.58 57.85,363.27 57.74,362.95 C57.62,362.64 57.6,362.24 57.67,361.91 C57.74,361.57 57.93,361.21 58.17,360.94 C58.41,360.68 58.77,360.44 59.11,360.31 C59.46,360.19 59.88,360.14 60.24,360.19 C60.59,360.24 60.97,360.4 61.24,360.61 C61.51,360.82 61.75,361.13 61.86,361.45 Z" fill="none" fill-opacity="1.0" stroke="#666" stroke-width="0.45"/>
<path d="M61.19,361.69 C61.27,361.91 61.28,362.17 61.23,362.4 C61.18,362.62 61.06,362.87 60.89,363.05 C60.73,363.23 60.49,363.39 60.26,363.47 C60.03,363.55 59.75,363.59 59.51,363.55 C59.27,363.52 59.01,363.41 58.83,363.27 C58.65,363.13 58.49,362.92 58.41,362.71 C58.33,362.49 58.32,362.23 58.37,362 C58.42,361.78 58.54,361.53 58.71,361.35 C58.87,361.17 59.11,361.01 59.34,360.93 C59.57,360.85 59.85,360.81 60.09,360.85 C60.33,360.88 60.59,360.99 60.77,361.13 C60.95,361.27 61.11,361.48 61.19,361.69 Z" fill="none" fill-opacity="1.0" stroke="#666" stroke-width="0.45"/>
<path d="M82.92,357.63 C83.18,358.59 83.21,359.76 83.01,360.71 C82.81,361.66 82.31,362.65 81.7,363.33 C81.1,364.01 80.21,364.57 79.35,364.8 C78.5,365.02 77.45,364.99 76.59,364.7 C75.72,364.42 74.79,363.81 74.14,363.09 C73.49,362.36 72.94,361.34 72.68,360.37 C72.42,359.41 72.39,358.24 72.59,357.29 C72.79,356.34 73.29,355.35 73.9,354.67 C74.5,353.99 75.39,353.43 76.25,353.2 C77.1,352.98 78.15,353.01 79.01,353.3 C79.88,353.58 80.81,354.19 81.46,354.91 C82.11,355.64 82.66,356.66 82.92,357.63 Z" fill="none" fill-opacity="1.0" stroke="#8a8f92" stroke-width="0.45"/>
<path d="M82.51,357.74 C82.75,358.63 82.78,359.7 82.59,360.57 C82.41,361.45 81.95,362.36 81.39,362.99 C80.83,363.61 80.01,364.12 79.23,364.33 C78.44,364.54 77.48,364.51 76.68,364.25 C75.88,363.99 75.03,363.42 74.44,362.76 C73.84,362.09 73.33,361.15 73.09,360.26 C72.85,359.37 72.82,358.3 73.01,357.43 C73.19,356.55 73.65,355.64 74.21,355.01 C74.77,354.39 75.59,353.88 76.37,353.67 C77.16,353.46 78.12,353.49 78.92,353.75 C79.72,354.01 80.57,354.58 81.16,355.24 C81.76,355.91 82.27,356.85 82.51,357.74 Z" fill="none" fill-opacity="1.0" stroke="#8a8f92" stroke-width="0.45"/>
<path d="M81.47,358.02 C81.66,358.71 81.68,359.54 81.54,360.23 C81.39,360.91 81.04,361.62 80.6,362.11 C80.16,362.6 79.53,362.99 78.91,363.16 C78.3,363.32 77.55,363.3 76.93,363.09 C76.31,362.89 75.64,362.45 75.18,361.93 C74.71,361.41 74.31,360.68 74.13,359.98 C73.94,359.29 73.92,358.46 74.06,357.77 C74.21,357.09 74.56,356.38 75,355.89 C75.44,355.4 76.07,355.01 76.69,354.84 C77.3,354.68 78.05,354.7 78.67,354.91 C79.29,355.11 79.96,355.55 80.42,356.07 C80.89,356.59 81.29,357.32 81.47,358.02 Z" fill="none" fill-opacity="1.0" stroke="#9a9ea0" stroke-width="0.45"/>
<path d="M80.85,358.18 C81,358.76 81.02,359.45 80.9,360.02 C80.78,360.58 80.49,361.17 80.12,361.58 C79.76,361.98 79.23,362.31 78.72,362.45 C78.22,362.59 77.59,362.57 77.08,362.4 C76.56,362.23 76.01,361.86 75.62,361.43 C75.24,361 74.91,360.39 74.75,359.82 C74.6,359.24 74.58,358.55 74.7,357.98 C74.82,357.42 75.11,356.83 75.48,356.42 C75.84,356.02 76.37,355.69 76.88,355.55 C77.38,355.41 78.01,355.43 78.52,355.6 C79.04,355.77 79.59,356.14 79.98,356.57 C80.36,357 80.69,357.61 80.85,358.18 Z" fill="none" fill-opacity="1.0" stroke="#9a9ea0" stroke-width="0.45"/>
<path d="M80.22,358.35 C80.34,358.81 80.36,359.36 80.26,359.81 C80.17,360.26 79.93,360.73 79.65,361.05 C79.36,361.37 78.94,361.63 78.53,361.74 C78.13,361.85 77.64,361.83 77.23,361.7 C76.81,361.56 76.38,361.27 76.07,360.93 C75.76,360.59 75.5,360.11 75.38,359.65 C75.26,359.19 75.24,358.64 75.34,358.19 C75.43,357.74 75.67,357.27 75.95,356.95 C76.24,356.63 76.66,356.37 77.07,356.26 C77.47,356.15 77.96,356.17 78.37,356.3 C78.79,356.44 79.22,356.73 79.53,357.07 C79.84,357.41 80.1,357.89 80.22,358.35 Z" fill="none" fill-opacity="1.0" stroke="#9a9ea0" stroke-width="0.45"/>
<path d="M79.59,358.52 C79.69,358.86 79.7,359.27 79.63,359.6 C79.56,359.93 79.38,360.28 79.17,360.52 C78.95,360.76 78.64,360.95 78.34,361.03 C78.05,361.11 77.68,361.1 77.37,361 C77.07,360.9 76.75,360.69 76.52,360.43 C76.29,360.18 76.1,359.82 76.01,359.48 C75.91,359.14 75.9,358.73 75.97,358.4 C76.04,358.07 76.22,357.72 76.43,357.48 C76.65,357.24 76.96,357.05 77.26,356.97 C77.55,356.89 77.92,356.9 78.23,357 C78.53,357.1 78.85,357.31 79.08,357.57 C79.31,357.82 79.5,358.18 79.59,358.52 Z" fill="none" fill-opacity="1.0" stroke="#9a9ea0" stroke-width="0.45"/>
<path d="M150.5,329.5 C150.9,327.32 150.5,325.2 151.7,323.5 C152.9,321.8 155.32,320.2 157.7,319.3 C160.08,318.4 162.83,318.2 166,318.1 C169.17,318 173.72,318.2 176.7,318.7 C179.68,319.2 182.2,319.9 183.9,321.1 C185.6,322.3 186.7,324.3 186.9,325.9 C187.1,327.5 186.4,329.52 185.1,330.7 C183.8,331.88 181.48,332.22 179.1,333 C176.72,333.78 172.78,334.4 170.8,335.4 C168.82,336.4 168.1,337.6 167.2,339 C166.3,340.4 166.2,342.6 165.4,343.8 C164.6,345 164.48,346.2 162.4,346.2 C160.32,346.2 155.08,345.4 152.9,343.8 C150.72,342.2 149.7,338.98 149.3,336.6 C148.9,334.22 150.1,331.68 150.5,329.5 Z" fill="none" fill-opacity="1.0" stroke="#50575a" stroke-width="0.5"/>
<path d="M151.28,329.3 C151.66,327.23 151.28,325.21 152.41,323.6 C153.55,321.98 155.85,320.47 158.11,319.61 C160.38,318.75 162.99,318.57 166,318.47 C169.01,318.38 173.33,318.56 176.16,319.04 C179,319.51 181.39,320.18 183,321.32 C184.62,322.46 185.66,324.36 185.85,325.88 C186.04,327.4 185.38,329.32 184.14,330.44 C182.91,331.56 180.71,331.88 178.44,332.62 C176.18,333.37 172.44,333.95 170.56,334.9 C168.68,335.85 167.99,337 167.14,338.32 C166.28,339.65 166.19,341.75 165.43,342.88 C164.67,344.02 164.56,345.16 162.58,345.16 C160.6,345.16 155.63,344.4 153.56,342.88 C151.48,341.37 150.51,338.31 150.13,336.05 C149.75,333.78 150.9,331.37 151.28,329.3 Z" fill="none" fill-opacity="1.0" stroke="#50575a" stroke-width="0.5"/>
<path d="M152.05,329.1 C152.41,327.13 152.05,325.23 153.13,323.7 C154.21,322.17 156.38,320.73 158.53,319.92 C160.67,319.11 163.15,318.93 166,318.84 C168.85,318.75 172.94,318.93 175.63,319.38 C178.31,319.83 180.58,320.46 182.11,321.54 C183.64,322.62 184.63,324.42 184.81,325.86 C184.99,327.3 184.36,329.12 183.19,330.18 C182.02,331.25 179.94,331.55 177.79,332.25 C175.64,332.95 172.1,333.51 170.32,334.41 C168.53,335.31 167.89,336.39 167.08,337.65 C166.27,338.91 166.18,340.89 165.46,341.97 C164.74,343.05 164.63,344.13 162.76,344.13 C160.88,344.13 156.18,343.41 154.21,341.97 C152.25,340.53 151.33,337.63 150.97,335.49 C150.61,333.35 151.69,331.07 152.05,329.1 Z" fill="none" fill-opacity="1.0" stroke="#50575a" stroke-width="0.5"/>
<path d="M154.15,328.56 C154.46,326.89 154.15,325.27 155.07,323.97 C155.98,322.67 157.83,321.45 159.65,320.76 C161.48,320.07 163.58,319.92 166,319.84 C168.42,319.77 171.9,319.92 174.18,320.3 C176.46,320.68 178.39,321.22 179.69,322.14 C180.98,323.05 181.83,324.58 181.98,325.81 C182.13,327.03 181.6,328.57 180.6,329.48 C179.61,330.38 177.84,330.64 176.02,331.23 C174.19,331.83 171.19,332.3 169.67,333.07 C168.15,333.83 167.61,334.75 166.92,335.82 C166.23,336.89 166.15,338.57 165.54,339.49 C164.93,340.41 164.84,341.33 163.25,341.33 C161.65,341.33 157.65,340.71 155.98,339.49 C154.32,338.27 153.54,335.81 153.23,333.99 C152.93,332.16 153.84,330.23 154.15,328.56 Z" fill="none" fill-opacity="1.0" stroke="#60676b" stroke-width="0.5"/>
<path d="M155.47,328.22 C155.75,326.73 155.47,325.3 156.29,324.14 C157.1,322.99 158.75,321.9 160.36,321.29 C161.98,320.68 163.85,320.54 166,320.47 C168.15,320.41 171.24,320.54 173.27,320.88 C175.29,321.22 177,321.7 178.16,322.51 C179.31,323.33 180.06,324.69 180.19,325.77 C180.33,326.86 179.85,328.23 178.97,329.03 C178.09,329.83 176.51,330.06 174.9,330.59 C173.28,331.12 170.61,331.54 169.26,332.22 C167.91,332.9 167.43,333.72 166.81,334.67 C166.2,335.62 166.14,337.11 165.59,337.93 C165.05,338.74 164.97,339.56 163.56,339.56 C162.14,339.56 158.59,339.01 157.1,337.93 C155.62,336.84 154.93,334.66 154.66,333.04 C154.39,331.42 155.2,329.7 155.47,328.22 Z" fill="none" fill-opacity="1.0" stroke="#60676b" stroke-width="0.5"/>
<path d="M156.8,327.87 C157.04,326.58 156.8,325.32 157.51,324.31 C158.22,323.3 159.66,322.35 161.07,321.82 C162.49,321.29 164.12,321.17 166,321.11 C167.88,321.05 170.58,321.17 172.35,321.46 C174.12,321.76 175.62,322.18 176.63,322.89 C177.63,323.6 178.29,324.79 178.41,325.74 C178.52,326.69 178.11,327.88 177.34,328.59 C176.57,329.29 175.19,329.49 173.78,329.95 C172.36,330.42 170.03,330.78 168.85,331.38 C167.67,331.97 167.25,332.68 166.71,333.51 C166.18,334.34 166.12,335.65 165.64,336.36 C165.17,337.08 165.1,337.79 163.86,337.79 C162.63,337.79 159.52,337.31 158.22,336.36 C156.93,335.41 156.32,333.5 156.09,332.09 C155.85,330.67 156.56,329.17 156.8,327.87 Z" fill="none" fill-opacity="1.0" stroke="#60676b" stroke-width="0.5"/>
<path d="M158.12,327.53 C158.33,326.42 158.12,325.35 158.73,324.48 C159.34,323.62 160.57,322.81 161.78,322.35 C162.99,321.89 164.39,321.79 166,321.74 C167.61,321.69 169.92,321.79 171.44,322.04 C172.95,322.3 174.23,322.65 175.1,323.26 C175.96,323.87 176.52,324.89 176.62,325.7 C176.72,326.52 176.37,327.54 175.71,328.14 C175.04,328.74 173.87,328.91 172.66,329.31 C171.45,329.71 169.45,330.02 168.44,330.53 C167.43,331.04 167.07,331.65 166.61,332.36 C166.15,333.07 166.1,334.19 165.7,334.8 C165.29,335.41 165.23,336.02 164.17,336.02 C163.11,336.02 160.45,335.61 159.34,334.8 C158.23,333.99 157.72,332.35 157.51,331.14 C157.31,329.93 157.92,328.64 158.12,327.53 Z" fill="none" fill-opacity="1.0" stroke="#60676b" stroke-width="0.5"/>
<path d="M159.45,327.19 C159.62,326.27 159.45,325.37 159.96,324.65 C160.46,323.94 161.48,323.26 162.49,322.88 C163.5,322.5 164.66,322.41 166,322.37 C167.34,322.33 169.26,322.41 170.52,322.63 C171.78,322.84 172.85,323.13 173.57,323.64 C174.28,324.15 174.75,324.99 174.83,325.67 C174.92,326.35 174.62,327.2 174.07,327.7 C173.52,328.2 172.54,328.34 171.54,328.67 C170.53,329 168.87,329.26 168.03,329.68 C167.19,330.11 166.89,330.61 166.51,331.21 C166.13,331.8 166.08,332.73 165.75,333.23 C165.41,333.74 165.36,334.25 164.48,334.25 C163.6,334.25 161.39,333.91 160.46,333.23 C159.54,332.56 159.11,331.2 158.94,330.19 C158.77,329.18 159.28,328.11 159.45,327.19 Z" fill="none" fill-opacity="1.0" stroke="#60676b" stroke-width="0.5"/>
<path d="M160.77,326.85 C160.91,326.11 160.77,325.4 161.18,324.83 C161.58,324.25 162.4,323.71 163.2,323.41 C164.01,323.11 164.93,323.04 166,323 C167.07,322.97 168.6,323.04 169.61,323.21 C170.61,323.38 171.46,323.61 172.04,324.02 C172.61,324.42 172.98,325.1 173.05,325.63 C173.11,326.17 172.88,326.85 172.44,327.25 C172,327.65 171.22,327.76 170.42,328.03 C169.61,328.29 168.29,328.5 167.62,328.84 C166.95,329.18 166.71,329.58 166.4,330.05 C166.1,330.52 166.07,331.27 165.8,331.67 C165.53,332.08 165.49,332.48 164.79,332.48 C164.08,332.48 162.32,332.21 161.58,331.67 C160.85,331.13 160.5,330.05 160.37,329.24 C160.23,328.44 160.64,327.58 160.77,326.85 Z" fill="none" fill-opacity="1.0" stroke="#60676b" stroke-width="0.5"/>
<path d="M162.1,326.51 C162.2,325.96 162.1,325.42 162.4,325 C162.7,324.57 163.31,324.17 163.91,323.94 C164.51,323.71 165.2,323.66 166,323.64 C166.8,323.61 167.94,323.66 168.69,323.79 C169.44,323.91 170.08,324.09 170.51,324.39 C170.93,324.69 171.21,325.2 171.26,325.6 C171.31,326 171.13,326.51 170.81,326.81 C170.48,327.11 169.9,327.19 169.3,327.39 C168.7,327.58 167.71,327.74 167.21,327.99 C166.71,328.24 166.53,328.55 166.3,328.9 C166.08,329.25 166.05,329.8 165.85,330.11 C165.65,330.41 165.62,330.71 165.09,330.71 C164.57,330.71 163.25,330.51 162.7,330.11 C162.15,329.7 161.9,328.89 161.8,328.29 C161.7,327.69 162,327.06 162.1,326.51 Z" fill="none" fill-opacity="1.0" stroke="#60676b" stroke-width="0.5"/>
<path d="M163.42,326.16 C163.49,325.8 163.42,325.45 163.62,325.17 C163.82,324.88 164.22,324.62 164.62,324.47 C165.02,324.32 165.47,324.29 166,324.27 C166.53,324.25 167.28,324.29 167.78,324.37 C168.27,324.45 168.69,324.57 168.98,324.77 C169.26,324.97 169.44,325.3 169.47,325.57 C169.51,325.83 169.39,326.17 169.18,326.36 C168.96,326.56 168.57,326.62 168.18,326.75 C167.78,326.88 167.13,326.98 166.8,327.15 C166.47,327.31 166.35,327.51 166.2,327.74 C166.05,327.98 166.03,328.34 165.9,328.54 C165.77,328.74 165.75,328.94 165.4,328.94 C165.06,328.94 164.19,328.81 163.82,328.54 C163.46,328.28 163.29,327.74 163.22,327.35 C163.16,326.95 163.36,326.53 163.42,326.16 Z" fill="none" fill-opacity="1.0" stroke="#60676b" stroke-width="0.5"/>
<path d="M164.75,325.82 C164.78,325.65 164.75,325.48 164.84,325.34 C164.94,325.2 165.14,325.07 165.33,325 C165.52,324.93 165.74,324.91 166,324.9 C166.26,324.89 166.62,324.91 166.86,324.95 C167.11,324.99 167.31,325.05 167.45,325.14 C167.58,325.24 167.67,325.4 167.69,325.53 C167.7,325.66 167.65,325.82 167.54,325.92 C167.44,326.02 167.25,326.04 167.06,326.11 C166.87,326.17 166.55,326.22 166.39,326.3 C166.23,326.38 166.17,326.48 166.1,326.59 C166.02,326.7 166.02,326.88 165.95,326.98 C165.89,327.08 165.88,327.17 165.71,327.17 C165.54,327.17 165.12,327.11 164.94,326.98 C164.77,326.85 164.68,326.59 164.65,326.4 C164.62,326.2 164.72,326 164.75,325.82 Z" fill="none" fill-opacity="1.0" stroke="#60676b" stroke-width="0.5"/>
<path d="M150.6,334 C150.87,332.4 150.98,326.68 152.2,324.4 C153.42,322.12 155.6,321.17 157.9,320.3 C160.2,319.43 162.87,319.28 166,319.2 C169.13,319.12 173.93,319.4 176.7,319.8 C179.47,320.2 181.62,321.3 182.6,321.6" fill="none" stroke="#50575a" stroke-width="1.4" stroke-linecap="round"/>
<path d="M162.17,322.52 C162.21,322.76 162.15,323.06 162.01,323.31 C161.86,323.55 161.6,323.81 161.31,323.99 C161.02,324.17 160.62,324.31 160.26,324.38 C159.9,324.44 159.48,324.44 159.14,324.37 C158.81,324.3 158.47,324.15 158.25,323.97 C158.04,323.79 157.88,323.53 157.83,323.28 C157.79,323.04 157.85,322.74 157.99,322.49 C158.14,322.25 158.4,321.99 158.69,321.81 C158.98,321.63 159.38,321.49 159.74,321.42 C160.1,321.36 160.52,321.36 160.86,321.43 C161.19,321.5 161.53,321.65 161.75,321.83 C161.96,322.01 162.12,322.27 162.17,322.52 Z" fill="none" fill-opacity="1.0" stroke="#222" stroke-width="0.45"/>
<path d="M161.62,322.61 C161.66,322.8 161.61,323.02 161.5,323.21 C161.4,323.39 161.2,323.58 160.98,323.72 C160.76,323.85 160.47,323.96 160.2,324.01 C159.92,324.06 159.61,324.05 159.36,324 C159.11,323.95 158.85,323.84 158.69,323.7 C158.53,323.57 158.41,323.37 158.38,323.19 C158.34,323 158.39,322.78 158.5,322.59 C158.6,322.41 158.8,322.22 159.02,322.08 C159.24,321.95 159.53,321.84 159.8,321.79 C160.08,321.74 160.39,321.75 160.64,321.8 C160.89,321.85 161.15,321.96 161.31,322.1 C161.47,322.23 161.59,322.43 161.62,322.61 Z" fill="none" fill-opacity="1.0" stroke="#222" stroke-width="0.45"/>
<path d="M161.08,322.71 C161.1,322.83 161.07,322.98 161,323.1 C160.93,323.23 160.8,323.36 160.65,323.44 C160.51,323.53 160.31,323.61 160.13,323.64 C159.95,323.67 159.74,323.67 159.57,323.64 C159.4,323.6 159.24,323.53 159.13,323.43 C159.02,323.34 158.94,323.21 158.92,323.09 C158.9,322.97 158.93,322.82 159,322.7 C159.07,322.57 159.2,322.44 159.35,322.36 C159.49,322.27 159.69,322.19 159.87,322.16 C160.05,322.13 160.26,322.13 160.43,322.16 C160.6,322.2 160.76,322.27 160.87,322.37 C160.98,322.46 161.06,322.59 161.08,322.71 Z" fill="none" fill-opacity="1.0" stroke="#222" stroke-width="0.45"/>
<path d="M164.07,350.04 C164.94,351 165.46,352.51 165.46,354.03 C165.46,355.55 164.93,357.48 164.05,359.14 C163.18,360.8 161.73,362.64 160.22,364 C158.71,365.36 156.73,366.61 154.99,367.3 C153.24,368 151.27,368.32 149.76,368.17 C148.25,368.01 146.8,367.33 145.93,366.36 C145.06,365.4 144.54,363.89 144.54,362.37 C144.54,360.85 145.07,358.92 145.95,357.26 C146.82,355.6 148.27,353.76 149.78,352.4 C151.29,351.04 153.27,349.79 155.01,349.1 C156.76,348.4 158.73,348.08 160.24,348.23 C161.75,348.39 163.2,349.07 164.07,350.04 Z" fill="none" fill-opacity="1.0" stroke="#4a5054" stroke-width="0.5"/>
<path d="M163.69,350.41 C164.51,351.33 165.02,352.76 165.01,354.2 C165.01,355.64 164.51,357.48 163.68,359.06 C162.85,360.63 161.47,362.38 160.03,363.67 C158.6,364.96 156.72,366.15 155.06,366.81 C153.41,367.47 151.53,367.78 150.1,367.63 C148.66,367.49 147.29,366.84 146.46,365.92 C145.64,365 145.13,363.57 145.14,362.13 C145.14,360.69 145.64,358.85 146.47,357.27 C147.3,355.7 148.68,353.95 150.12,352.66 C151.55,351.37 153.43,350.18 155.09,349.52 C156.74,348.86 158.62,348.55 160.05,348.7 C161.49,348.84 162.86,349.49 163.69,350.41 Z" fill="none" fill-opacity="1.0" stroke="#4a5054" stroke-width="0.5"/>
<path d="M163.31,350.78 C164.09,351.65 164.57,353.01 164.57,354.38 C164.56,355.74 164.08,357.48 163.3,358.97 C162.51,360.47 161.21,362.12 159.85,363.35 C158.49,364.57 156.71,365.7 155.14,366.32 C153.57,366.95 151.79,367.24 150.43,367.1 C149.07,366.96 147.77,366.35 146.99,365.48 C146.21,364.61 145.73,363.25 145.73,361.88 C145.74,360.52 146.22,358.78 147,357.29 C147.79,355.79 149.09,354.14 150.45,352.91 C151.81,351.69 153.59,350.56 155.16,349.94 C156.73,349.31 158.51,349.02 159.87,349.16 C161.23,349.3 162.53,349.91 163.31,350.78 Z" fill="none" fill-opacity="1.0" stroke="#4a5054" stroke-width="0.5"/>
<path d="M162.42,351.66 C163.1,352.42 163.51,353.6 163.51,354.79 C163.51,355.97 163.09,357.48 162.41,358.78 C161.72,360.08 160.59,361.52 159.41,362.58 C158.23,363.64 156.68,364.62 155.32,365.16 C153.95,365.71 152.41,365.96 151.23,365.84 C150.05,365.72 148.92,365.19 148.24,364.43 C147.56,363.67 147.15,362.49 147.15,361.31 C147.15,360.12 147.57,358.61 148.25,357.31 C148.93,356.01 150.06,354.58 151.25,353.52 C152.43,352.45 153.97,351.47 155.34,350.93 C156.7,350.39 158.25,350.13 159.43,350.25 C160.61,350.38 161.74,350.91 162.42,351.66 Z" fill="none" fill-opacity="1.0" stroke="#2a2e30" stroke-width="0.5"/>
<path d="M161.9,352.17 C162.52,352.86 162.9,353.94 162.9,355.02 C162.89,356.1 162.51,357.48 161.89,358.67 C161.27,359.86 160.23,361.17 159.15,362.14 C158.08,363.11 156.66,364 155.42,364.5 C154.18,364.99 152.76,365.23 151.69,365.11 C150.61,365 149.58,364.52 148.96,363.83 C148.34,363.14 147.96,362.06 147.96,360.98 C147.96,359.89 148.34,358.52 148.97,357.33 C149.59,356.14 150.63,354.83 151.7,353.86 C152.78,352.89 154.19,352 155.44,351.5 C156.68,351.01 158.09,350.77 159.17,350.88 C160.25,351 161.28,351.48 161.9,352.17 Z" fill="none" fill-opacity="1.0" stroke="#2a2e30" stroke-width="0.5"/>
<path d="M161.39,352.68 C161.95,353.3 162.29,354.28 162.29,355.26 C162.28,356.24 161.94,357.49 161.38,358.56 C160.81,359.63 159.88,360.82 158.9,361.69 C157.93,362.57 156.65,363.38 155.52,363.83 C154.4,364.28 153.12,364.49 152.15,364.39 C151.17,364.29 150.24,363.85 149.68,363.22 C149.12,362.6 148.78,361.62 148.78,360.65 C148.78,359.67 149.12,358.42 149.69,357.35 C150.25,356.27 151.19,355.09 152.16,354.21 C153.14,353.33 154.41,352.52 155.54,352.08 C156.67,351.63 157.94,351.42 158.92,351.52 C159.89,351.62 160.82,352.06 161.39,352.68 Z" fill="none" fill-opacity="1.0" stroke="#2a2e30" stroke-width="0.5"/>
<path d="M160.87,353.19 C161.37,353.75 161.68,354.62 161.68,355.5 C161.67,356.37 161.37,357.49 160.86,358.45 C160.36,359.41 159.52,360.47 158.65,361.25 C157.78,362.04 156.63,362.76 155.63,363.16 C154.62,363.56 153.48,363.75 152.61,363.66 C151.73,363.57 150.9,363.18 150.4,362.62 C149.9,362.06 149.59,361.19 149.59,360.31 C149.59,359.44 149.9,358.32 150.41,357.36 C150.91,356.4 151.75,355.34 152.62,354.56 C153.49,353.77 154.63,353.05 155.64,352.65 C156.65,352.25 157.79,352.06 158.66,352.15 C159.53,352.24 160.37,352.63 160.87,353.19 Z" fill="none" fill-opacity="1.0" stroke="#2a2e30" stroke-width="0.5"/>
<path d="M160.35,353.7 C160.8,354.19 161.07,354.96 161.07,355.73 C161.06,356.5 160.79,357.49 160.35,358.33 C159.9,359.18 159.16,360.12 158.39,360.81 C157.62,361.5 156.62,362.14 155.73,362.49 C154.84,362.85 153.83,363.01 153.07,362.93 C152.3,362.85 151.56,362.51 151.12,362.02 C150.67,361.52 150.41,360.75 150.41,359.98 C150.41,359.21 150.68,358.22 151.12,357.38 C151.57,356.53 152.31,355.6 153.08,354.9 C153.85,354.21 154.85,353.57 155.74,353.22 C156.63,352.87 157.64,352.7 158.41,352.78 C159.18,352.86 159.91,353.21 160.35,353.7 Z" fill="none" fill-opacity="1.0" stroke="#2a2e30" stroke-width="0.5"/>
<path d="M159.84,354.21 C160.22,354.63 160.46,355.3 160.45,355.97 C160.45,356.64 160.22,357.49 159.83,358.22 C159.45,358.96 158.81,359.77 158.14,360.37 C157.47,360.97 156.6,361.52 155.83,361.83 C155.06,362.13 154.19,362.28 153.52,362.21 C152.86,362.14 152.22,361.84 151.84,361.41 C151.45,360.99 151.22,360.32 151.22,359.65 C151.22,358.98 151.46,358.13 151.84,357.39 C152.23,356.66 152.87,355.85 153.53,355.25 C154.2,354.65 155.07,354.1 155.84,353.79 C156.61,353.49 157.49,353.34 158.15,353.41 C158.82,353.48 159.46,353.78 159.84,354.21 Z" fill="none" fill-opacity="1.0" stroke="#2a2e30" stroke-width="0.5"/>
<path d="M159.32,354.71 C159.65,355.08 159.85,355.64 159.84,356.2 C159.84,356.77 159.64,357.49 159.32,358.11 C158.99,358.73 158.45,359.42 157.89,359.92 C157.32,360.43 156.59,360.9 155.94,361.16 C155.28,361.42 154.55,361.54 153.98,361.48 C153.42,361.42 152.88,361.17 152.56,360.81 C152.23,360.45 152.04,359.88 152.04,359.32 C152.04,358.75 152.24,358.03 152.56,357.41 C152.89,356.79 153.43,356.11 153.99,355.6 C154.56,355.09 155.29,354.62 155.95,354.36 C156.6,354.11 157.33,353.98 157.9,354.04 C158.46,354.1 159,354.35 159.32,354.71 Z" fill="none" fill-opacity="1.0" stroke="#2a2e30" stroke-width="0.5"/>
<path d="M158.81,355.22 C159.07,355.52 159.23,355.98 159.23,356.44 C159.23,356.9 159.07,357.49 158.8,358 C158.54,358.51 158.1,359.07 157.63,359.48 C157.17,359.9 156.57,360.28 156.04,360.49 C155.51,360.7 154.9,360.8 154.44,360.75 C153.98,360.71 153.54,360.5 153.28,360.2 C153.01,359.91 152.85,359.45 152.85,358.99 C152.85,358.52 153.01,357.93 153.28,357.43 C153.55,356.92 153.99,356.36 154.45,355.95 C154.91,355.53 155.51,355.15 156.05,354.94 C156.58,354.72 157.18,354.62 157.64,354.67 C158.1,354.72 158.54,354.93 158.81,355.22 Z" fill="none" fill-opacity="1.0" stroke="#2a2e30" stroke-width="0.5"/>
<path d="M158.29,355.73 C158.5,355.96 158.62,356.32 158.62,356.68 C158.62,357.04 158.5,357.49 158.29,357.89 C158.08,358.28 157.74,358.72 157.38,359.04 C157.02,359.36 156.55,359.66 156.14,359.82 C155.73,359.99 155.26,360.07 154.9,360.03 C154.54,359.99 154.2,359.83 154,359.6 C153.79,359.37 153.66,359.01 153.67,358.65 C153.67,358.29 153.79,357.84 154,357.44 C154.21,357.05 154.55,356.61 154.91,356.29 C155.27,355.97 155.73,355.67 156.15,355.51 C156.56,355.34 157.03,355.27 157.39,355.3 C157.74,355.34 158.09,355.5 158.29,355.73 Z" fill="none" fill-opacity="1.0" stroke="#2a2e30" stroke-width="0.5"/>
<path d="M157.78,356.24 C157.92,356.4 158.01,356.66 158.01,356.91 C158.01,357.17 157.92,357.5 157.78,357.78 C157.63,358.06 157.38,358.37 157.13,358.6 C156.87,358.83 156.54,359.04 156.24,359.16 C155.95,359.27 155.62,359.33 155.36,359.3 C155.11,359.28 154.86,359.16 154.72,359 C154.57,358.83 154.48,358.58 154.48,358.32 C154.48,358.07 154.57,357.74 154.72,357.46 C154.87,357.18 155.11,356.87 155.37,356.64 C155.62,356.41 155.95,356.2 156.25,356.08 C156.54,355.96 156.88,355.91 157.13,355.93 C157.39,355.96 157.63,356.08 157.78,356.24 Z" fill="none" fill-opacity="1.0" stroke="#2a2e30" stroke-width="0.5"/>
<path d="M157.26,356.75 C157.35,356.85 157.4,357 157.4,357.15 C157.4,357.3 157.35,357.5 157.26,357.67 C157.17,357.83 157.03,358.02 156.87,358.15 C156.72,358.29 156.52,358.42 156.35,358.49 C156.17,358.56 155.97,358.59 155.82,358.57 C155.67,358.56 155.52,358.49 155.44,358.39 C155.35,358.3 155.29,358.14 155.29,357.99 C155.3,357.84 155.35,357.64 155.44,357.48 C155.52,357.31 155.67,357.12 155.82,356.99 C155.98,356.85 156.17,356.72 156.35,356.65 C156.53,356.58 156.72,356.55 156.88,356.57 C157.03,356.58 157.17,356.65 157.26,356.75 Z" fill="none" fill-opacity="1.0" stroke="#2a2e30" stroke-width="0.5"/>
<path d="M159.98,355.97 C160.25,356.69 160.37,357.57 160.32,358.29 C160.26,359.02 160.01,359.79 159.65,360.33 C159.3,360.87 158.74,361.32 158.17,361.52 C157.61,361.73 156.89,361.74 156.27,361.56 C155.65,361.38 154.97,360.95 154.46,360.43 C153.95,359.91 153.48,359.15 153.22,358.43 C152.95,357.71 152.83,356.83 152.88,356.11 C152.94,355.38 153.19,354.61 153.55,354.07 C153.9,353.53 154.46,353.08 155.03,352.88 C155.59,352.67 156.31,352.66 156.93,352.84 C157.55,353.02 158.23,353.45 158.74,353.97 C159.25,354.49 159.72,355.25 159.98,355.97 Z" fill="none" fill-opacity="1.0" stroke="#111" stroke-width="0.7"/>
<path d="M159.58,356.12 C159.81,356.75 159.92,357.52 159.87,358.16 C159.82,358.8 159.6,359.48 159.29,359.95 C158.97,360.43 158.48,360.82 157.98,361 C157.49,361.18 156.86,361.2 156.31,361.04 C155.77,360.88 155.16,360.5 154.71,360.04 C154.27,359.58 153.85,358.92 153.62,358.28 C153.39,357.65 153.28,356.88 153.33,356.24 C153.38,355.6 153.6,354.92 153.91,354.45 C154.23,353.97 154.72,353.58 155.22,353.4 C155.71,353.22 156.34,353.2 156.89,353.36 C157.43,353.52 158.04,353.9 158.49,354.36 C158.93,354.82 159.35,355.48 159.58,356.12 Z" fill="none" fill-opacity="1.0" stroke="#111" stroke-width="0.7"/>
<path d="M159.17,356.26 C159.37,356.81 159.47,357.48 159.42,358.03 C159.38,358.58 159.19,359.17 158.92,359.58 C158.65,359.99 158.22,360.33 157.8,360.49 C157.37,360.64 156.82,360.65 156.35,360.51 C155.88,360.37 155.36,360.05 154.97,359.65 C154.58,359.26 154.23,358.68 154.03,358.14 C153.83,357.59 153.73,356.92 153.78,356.37 C153.82,355.82 154.01,355.23 154.28,354.82 C154.55,354.41 154.98,354.07 155.4,353.91 C155.83,353.76 156.38,353.75 156.85,353.89 C157.32,354.03 157.84,354.35 158.23,354.75 C158.62,355.14 158.97,355.72 159.17,356.26 Z" fill="none" fill-opacity="1.0" stroke="#111" stroke-width="0.7"/>
<path d="M158.77,356.41 C158.93,356.87 159.01,357.44 158.98,357.9 C158.94,358.37 158.78,358.86 158.55,359.2 C158.33,359.55 157.97,359.84 157.61,359.97 C157.25,360.1 156.79,360.11 156.39,359.99 C155.99,359.87 155.55,359.6 155.23,359.27 C154.9,358.93 154.6,358.45 154.43,357.99 C154.27,357.53 154.19,356.96 154.22,356.5 C154.26,356.03 154.42,355.54 154.65,355.2 C154.87,354.85 155.23,354.56 155.59,354.43 C155.95,354.3 156.41,354.29 156.81,354.41 C157.21,354.53 157.65,354.8 157.97,355.13 C158.3,355.47 158.6,355.95 158.77,356.41 Z" fill="none" fill-opacity="1.0" stroke="#111" stroke-width="0.7"/>
<path d="M191.08,352.18 C191.14,352.87 190.9,353.69 190.46,354.34 C190.01,354.99 189.24,355.64 188.41,356.06 C187.57,356.49 186.46,356.8 185.47,356.88 C184.47,356.97 183.32,356.86 182.43,356.58 C181.54,356.31 180.66,355.81 180.11,355.24 C179.56,354.68 179.18,353.92 179.12,353.22 C179.06,352.53 179.3,351.71 179.74,351.06 C180.19,350.41 180.96,349.76 181.79,349.34 C182.63,348.91 183.74,348.6 184.73,348.52 C185.73,348.43 186.88,348.54 187.77,348.82 C188.66,349.09 189.54,349.59 190.09,350.16 C190.64,350.72 191.02,351.48 191.08,352.18 Z" fill="none" fill-opacity="1.0" stroke="#888" stroke-width="0.45"/>
<path d="M189.61,352.31 C189.66,352.83 189.48,353.45 189.15,353.94 C188.81,354.43 188.22,354.92 187.6,355.24 C186.97,355.56 186.13,355.79 185.38,355.86 C184.62,355.93 183.76,355.84 183.08,355.63 C182.41,355.43 181.75,355.05 181.33,354.62 C180.91,354.2 180.63,353.62 180.59,353.09 C180.54,352.57 180.72,351.95 181.05,351.46 C181.39,350.97 181.98,350.48 182.6,350.16 C183.23,349.84 184.07,349.61 184.82,349.54 C185.58,349.47 186.44,349.56 187.12,349.77 C187.79,349.97 188.45,350.35 188.87,350.78 C189.29,351.2 189.57,351.78 189.61,352.31 Z" fill="none" fill-opacity="1.0" stroke="#999" stroke-width="0.45"/>
<path d="M188.51,352.4 C188.54,352.8 188.41,353.27 188.16,353.63 C187.9,354 187.46,354.38 186.99,354.62 C186.51,354.86 185.88,355.04 185.31,355.09 C184.74,355.14 184.09,355.07 183.58,354.92 C183.07,354.76 182.57,354.47 182.25,354.15 C181.94,353.83 181.73,353.4 181.69,353 C181.66,352.6 181.79,352.13 182.04,351.77 C182.3,351.4 182.74,351.02 183.21,350.78 C183.69,350.54 184.32,350.36 184.89,350.31 C185.46,350.26 186.11,350.33 186.62,350.48 C187.13,350.64 187.63,350.93 187.95,351.25 C188.26,351.57 188.47,352 188.51,352.4 Z" fill="none" fill-opacity="1.0" stroke="#999" stroke-width="0.45"/>
<path d="M187.4,352.5 C187.43,352.77 187.34,353.08 187.17,353.33 C186.99,353.58 186.7,353.83 186.37,354 C186.05,354.16 185.63,354.28 185.24,354.31 C184.86,354.35 184.41,354.3 184.07,354.2 C183.73,354.09 183.39,353.9 183.17,353.68 C182.96,353.47 182.82,353.17 182.8,352.9 C182.77,352.63 182.86,352.32 183.03,352.07 C183.21,351.82 183.5,351.57 183.83,351.4 C184.15,351.24 184.57,351.12 184.96,351.09 C185.34,351.05 185.79,351.1 186.13,351.2 C186.47,351.31 186.81,351.5 187.03,351.72 C187.24,351.93 187.38,352.23 187.4,352.5 Z" fill="none" fill-opacity="1.0" stroke="#999" stroke-width="0.45"/>
<path d="M186.3,352.6 C186.31,352.74 186.27,352.9 186.18,353.03 C186.09,353.16 185.93,353.29 185.76,353.37 C185.6,353.46 185.37,353.52 185.17,353.54 C184.97,353.56 184.74,353.53 184.56,353.48 C184.38,353.43 184.21,353.32 184.1,353.21 C183.99,353.1 183.91,352.94 183.9,352.8 C183.89,352.66 183.93,352.5 184.02,352.37 C184.11,352.24 184.27,352.11 184.44,352.03 C184.6,351.94 184.83,351.88 185.03,351.86 C185.23,351.84 185.46,351.87 185.64,351.92 C185.82,351.97 185.99,352.08 186.1,352.19 C186.21,352.3 186.29,352.46 186.3,352.6 Z" fill="none" fill-opacity="1.0" stroke="#999" stroke-width="0.45"/>
<path d="M185,349 C178,350 174,352 170.5,354.5 M184,356.5 C178,358 173,359.5 169.5,361" fill="none" stroke="#999" stroke-width="0.45"/>
<path d="M249.3,339.1 C248.57,336.63 249.57,332.92 250.8,330.2 C252.03,327.48 253.98,324.77 256.7,322.8 C259.42,320.83 263.65,319.13 267.1,318.4 C270.55,317.67 274.57,317.67 277.4,318.4 C280.23,319.13 282.87,320.83 284.1,322.8 C285.33,324.77 285.42,328.22 284.8,330.2 C284.18,332.18 282.62,333.47 280.4,334.7 C278.18,335.93 274.47,336.37 271.5,337.6 C268.53,338.83 265.32,340.87 262.6,342.1 C259.88,343.33 257.42,345.5 255.2,345 C252.98,344.5 250.03,341.57 249.3,339.1 Z" fill="none" fill-opacity="1.0" stroke="#8a9093" stroke-width="0.45"/>
<path d="M251.71,337.09 C251.08,335 251.93,331.86 252.98,329.56 C254.02,327.26 255.67,324.96 257.97,323.29 C260.27,321.63 263.86,320.19 266.78,319.56 C269.7,318.94 273.1,318.94 275.5,319.56 C277.9,320.19 280.13,321.63 281.17,323.29 C282.22,324.96 282.29,327.88 281.77,329.56 C281.24,331.24 279.92,332.32 278.04,333.37 C276.16,334.41 273.02,334.78 270.5,335.82 C267.99,336.87 265.27,338.59 262.97,339.63 C260.67,340.68 258.58,342.51 256.7,342.09 C254.82,341.67 252.33,339.18 251.71,337.09 Z" fill="none" fill-opacity="1.0" stroke="#8e9496" stroke-width="0.45"/>
<path d="M253.17,335.87 C252.62,334.01 253.37,331.21 254.3,329.16 C255.23,327.12 256.7,325.07 258.75,323.59 C260.79,322.11 263.98,320.83 266.58,320.27 C269.18,319.72 272.21,319.72 274.34,320.27 C276.48,320.83 278.46,322.11 279.39,323.59 C280.32,325.07 280.38,327.67 279.92,329.16 C279.46,330.66 278.27,331.63 276.6,332.56 C274.93,333.48 272.13,333.81 269.9,334.74 C267.66,335.67 265.24,337.2 263.19,338.13 C261.14,339.06 259.29,340.69 257.62,340.32 C255.95,339.94 253.72,337.73 253.17,335.87 Z" fill="none" fill-opacity="1.0" stroke="#8e9496" stroke-width="0.45"/>
<path d="M254.63,334.65 C254.15,333.02 254.81,330.57 255.62,328.77 C256.44,326.98 257.73,325.19 259.52,323.89 C261.31,322.59 264.11,321.47 266.39,320.98 C268.66,320.5 271.32,320.5 273.19,320.98 C275.06,321.47 276.8,322.59 277.61,323.89 C278.43,325.19 278.48,327.46 278.07,328.77 C277.67,330.08 276.63,330.93 275.17,331.74 C273.7,332.56 271.25,332.84 269.29,333.66 C267.33,334.47 265.21,335.82 263.42,336.63 C261.62,337.44 259.99,338.88 258.53,338.55 C257.07,338.22 255.12,336.28 254.63,334.65 Z" fill="none" fill-opacity="1.0" stroke="#8e9496" stroke-width="0.45"/>
<path d="M256.1,333.43 C255.68,332.03 256.25,329.92 256.95,328.38 C257.65,326.84 258.75,325.3 260.29,324.19 C261.83,323.07 264.23,322.11 266.19,321.69 C268.15,321.27 270.42,321.27 272.03,321.69 C273.64,322.11 275.13,323.07 275.83,324.19 C276.53,325.3 276.58,327.26 276.23,328.38 C275.88,329.51 274.99,330.23 273.73,330.93 C272.48,331.63 270.37,331.88 268.69,332.58 C267,333.28 265.18,334.43 263.64,335.13 C262.1,335.83 260.7,337.06 259.44,336.77 C258.19,336.49 256.51,334.83 256.1,333.43 Z" fill="none" fill-opacity="1.0" stroke="#8e9496" stroke-width="0.45"/>
<path d="M257.56,332.21 C257.21,331.04 257.69,329.28 258.27,327.99 C258.86,326.7 259.78,325.42 261.07,324.48 C262.35,323.55 264.36,322.75 265.99,322.4 C267.63,322.05 269.53,322.05 270.88,322.4 C272.22,322.75 273.47,323.55 274.05,324.48 C274.63,325.42 274.67,327.05 274.38,327.99 C274.09,328.93 273.35,329.54 272.3,330.12 C271.25,330.71 269.49,330.91 268.08,331.5 C266.67,332.08 265.15,333.04 263.86,333.63 C262.58,334.21 261.41,335.24 260.36,335 C259.31,334.77 257.91,333.38 257.56,332.21 Z" fill="none" fill-opacity="1.0" stroke="#8e9496" stroke-width="0.45"/>
<path d="M259.03,330.99 C258.75,330.05 259.13,328.63 259.6,327.6 C260.07,326.56 260.81,325.53 261.84,324.78 C262.88,324.03 264.49,323.39 265.8,323.11 C267.11,322.83 268.64,322.83 269.72,323.11 C270.8,323.39 271.8,324.03 272.27,324.78 C272.74,325.53 272.77,326.84 272.54,327.6 C272.3,328.35 271.7,328.84 270.86,329.31 C270.02,329.78 268.6,329.95 267.47,330.41 C266.34,330.88 265.12,331.66 264.09,332.13 C263.05,332.6 262.11,333.42 261.27,333.23 C260.43,333.04 259.3,331.92 259.03,330.99 Z" fill="none" fill-opacity="1.0" stroke="#8e9496" stroke-width="0.45"/>
<path d="M260.49,329.76 C260.28,329.06 260.57,327.99 260.92,327.21 C261.27,326.43 261.83,325.65 262.62,325.08 C263.4,324.52 264.61,324.03 265.6,323.82 C266.59,323.61 267.75,323.61 268.56,323.82 C269.38,324.03 270.13,324.52 270.49,325.08 C270.84,325.65 270.87,326.64 270.69,327.21 C270.51,327.78 270.06,328.15 269.42,328.5 C268.79,328.85 267.72,328.98 266.87,329.33 C266.02,329.69 265.09,330.27 264.31,330.63 C263.53,330.98 262.82,331.6 262.18,331.46 C261.55,331.32 260.7,330.47 260.49,329.76 Z" fill="none" fill-opacity="1.0" stroke="#8e9496" stroke-width="0.45"/>
<path d="M261.95,328.54 C261.81,328.06 262,327.34 262.24,326.82 C262.48,326.29 262.86,325.76 263.39,325.38 C263.92,325 264.74,324.67 265.41,324.52 C266.08,324.38 266.86,324.38 267.41,324.52 C267.96,324.67 268.47,325 268.71,325.38 C268.95,325.76 268.96,326.43 268.84,326.82 C268.72,327.2 268.42,327.45 267.99,327.69 C267.56,327.93 266.84,328.01 266.26,328.25 C265.69,328.49 265.06,328.89 264.53,329.12 C264.01,329.36 263.53,329.78 263.1,329.69 C262.67,329.59 262.1,329.02 261.95,328.54 Z" fill="none" fill-opacity="1.0" stroke="#8e9496" stroke-width="0.45"/>
<path d="M263.42,327.32 C263.34,327.07 263.44,326.7 263.57,326.42 C263.69,326.15 263.89,325.88 264.16,325.68 C264.44,325.48 264.86,325.31 265.21,325.23 C265.56,325.16 265.96,325.16 266.25,325.23 C266.54,325.31 266.8,325.48 266.93,325.68 C267.05,325.88 267.06,326.22 267,326.42 C266.93,326.62 266.78,326.75 266.55,326.88 C266.33,327 265.95,327.05 265.66,327.17 C265.36,327.29 265.03,327.5 264.76,327.62 C264.48,327.75 264.24,327.97 264.01,327.92 C263.79,327.87 263.49,327.57 263.42,327.32 Z" fill="none" fill-opacity="1.0" stroke="#8e9496" stroke-width="0.45"/>
<path d="M263.16,355.62 C263.29,357.12 262.87,358.86 262.05,360.24 C261.24,361.61 259.8,362.99 258.26,363.88 C256.71,364.76 254.64,365.4 252.78,365.57 C250.92,365.73 248.78,365.46 247.1,364.85 C245.42,364.25 243.77,363.14 242.73,361.93 C241.69,360.72 240.97,359.07 240.84,357.58 C240.71,356.08 241.13,354.34 241.95,352.96 C242.76,351.59 244.2,350.21 245.74,349.32 C247.29,348.44 249.36,347.8 251.22,347.63 C253.08,347.47 255.22,347.74 256.9,348.35 C258.58,348.95 260.23,350.06 261.27,351.27 C262.31,352.48 263.03,354.13 263.16,355.62 Z" fill="none" fill-opacity="1.0" stroke="#22272a" stroke-width="0.55"/>
<path d="M262.75,355.69 C262.87,357.11 262.48,358.77 261.7,360.08 C260.93,361.38 259.56,362.69 258.1,363.53 C256.63,364.38 254.66,364.98 252.9,365.14 C251.13,365.29 249.09,365.04 247.5,364.46 C245.9,363.88 244.33,362.83 243.34,361.68 C242.35,360.53 241.67,358.97 241.55,357.55 C241.43,356.13 241.82,354.47 242.6,353.16 C243.37,351.86 244.74,350.55 246.2,349.71 C247.67,348.86 249.64,348.26 251.4,348.1 C253.17,347.95 255.21,348.2 256.8,348.78 C258.4,349.36 259.97,350.41 260.96,351.56 C261.95,352.71 262.63,354.27 262.75,355.69 Z" fill="none" fill-opacity="1.0" stroke="#22272a" stroke-width="0.55"/>
<path d="M262.34,355.76 C262.46,357.11 262.08,358.68 261.35,359.91 C260.61,361.15 259.32,362.39 257.93,363.19 C256.54,363.99 254.68,364.56 253.01,364.71 C251.33,364.86 249.4,364.61 247.89,364.07 C246.38,363.52 244.9,362.53 243.96,361.44 C243.02,360.34 242.38,358.86 242.26,357.52 C242.14,356.17 242.52,354.6 243.25,353.37 C243.99,352.13 245.28,350.89 246.67,350.09 C248.06,349.29 249.92,348.72 251.59,348.57 C253.27,348.42 255.2,348.67 256.71,349.21 C258.22,349.76 259.7,350.75 260.64,351.84 C261.58,352.94 262.22,354.42 262.34,355.76 Z" fill="none" fill-opacity="1.0" stroke="#22272a" stroke-width="0.55"/>
<path d="M261.93,355.83 C262.04,357.1 261.69,358.58 261,359.75 C260.3,360.92 259.08,362.09 257.77,362.85 C256.46,363.6 254.7,364.14 253.12,364.28 C251.54,364.42 249.71,364.19 248.29,363.67 C246.86,363.16 245.46,362.22 244.57,361.19 C243.68,360.16 243.08,358.76 242.97,357.49 C242.86,356.22 243.21,354.74 243.9,353.57 C244.6,352.4 245.82,351.23 247.13,350.47 C248.44,349.72 250.2,349.18 251.78,349.04 C253.36,348.9 255.19,349.13 256.61,349.65 C258.04,350.16 259.44,351.1 260.33,352.13 C261.22,353.16 261.82,354.56 261.93,355.83 Z" fill="none" fill-opacity="1.0" stroke="#22272a" stroke-width="0.55"/>
<path d="M260.97,355.99 C261.07,357.09 260.76,358.36 260.16,359.37 C259.57,360.38 258.52,361.38 257.39,362.03 C256.25,362.68 254.74,363.15 253.38,363.27 C252.02,363.39 250.44,363.19 249.22,362.75 C247.99,362.3 246.78,361.5 246.02,360.61 C245.25,359.72 244.73,358.52 244.64,357.42 C244.54,356.33 244.85,355.05 245.44,354.04 C246.04,353.04 247.09,352.03 248.22,351.38 C249.35,350.73 250.87,350.26 252.23,350.14 C253.59,350.02 255.16,350.22 256.39,350.67 C257.62,351.11 258.83,351.92 259.59,352.81 C260.35,353.69 260.88,354.9 260.97,355.99 Z" fill="none" fill-opacity="1.0" stroke="#22272a" stroke-width="0.55"/>
<path d="M260.42,356.09 C260.5,357.08 260.23,358.24 259.69,359.15 C259.14,360.06 258.19,360.98 257.16,361.57 C256.14,362.16 254.76,362.58 253.53,362.69 C252.29,362.8 250.87,362.62 249.75,362.22 C248.64,361.81 247.54,361.08 246.85,360.27 C246.16,359.47 245.68,358.38 245.6,357.38 C245.51,356.39 245.79,355.23 246.33,354.32 C246.87,353.41 247.83,352.49 248.85,351.9 C249.88,351.31 251.25,350.89 252.49,350.78 C253.72,350.67 255.15,350.85 256.26,351.25 C257.37,351.66 258.47,352.39 259.16,353.2 C259.86,354 260.33,355.09 260.42,356.09 Z" fill="none" fill-opacity="1.0" stroke="#22272a" stroke-width="0.55"/>
<path d="M259.86,356.18 C259.94,357.07 259.69,358.11 259.21,358.93 C258.72,359.75 257.86,360.57 256.94,361.1 C256.02,361.63 254.79,362.01 253.68,362.11 C252.57,362.2 251.29,362.04 250.29,361.68 C249.29,361.32 248.31,360.66 247.68,359.94 C247.06,359.22 246.64,358.23 246.56,357.34 C246.48,356.45 246.73,355.41 247.22,354.59 C247.7,353.77 248.56,352.95 249.48,352.42 C250.4,351.89 251.64,351.51 252.74,351.42 C253.85,351.32 255.13,351.48 256.13,351.84 C257.13,352.2 258.12,352.86 258.74,353.58 C259.36,354.31 259.79,355.29 259.86,356.18 Z" fill="none" fill-opacity="1.0" stroke="#22272a" stroke-width="0.55"/>
<path d="M259.31,356.27 C259.38,357.06 259.16,357.98 258.73,358.71 C258.3,359.44 257.54,360.16 256.72,360.63 C255.9,361.1 254.81,361.44 253.83,361.53 C252.85,361.61 251.71,361.47 250.83,361.15 C249.94,360.83 249.07,360.24 248.52,359.6 C247.97,358.96 247.59,358.09 247.52,357.3 C247.45,356.51 247.67,355.59 248.1,354.87 C248.53,354.14 249.29,353.41 250.11,352.94 C250.93,352.48 252.02,352.14 253,352.05 C253.98,351.97 255.12,352.11 256,352.43 C256.89,352.75 257.76,353.33 258.31,353.97 C258.86,354.61 259.24,355.48 259.31,356.27 Z" fill="none" fill-opacity="1.0" stroke="#22272a" stroke-width="0.55"/>
<path d="M258.76,356.37 C258.82,357.05 258.62,357.86 258.25,358.49 C257.87,359.12 257.21,359.76 256.5,360.17 C255.79,360.57 254.84,360.87 253.98,360.94 C253.12,361.02 252.14,360.89 251.36,360.61 C250.59,360.34 249.83,359.83 249.35,359.27 C248.87,358.71 248.54,357.95 248.48,357.27 C248.42,356.58 248.61,355.77 248.99,355.14 C249.37,354.51 250.03,353.88 250.74,353.47 C251.45,353.06 252.4,352.76 253.26,352.69 C254.11,352.61 255.1,352.74 255.87,353.02 C256.65,353.3 257.41,353.8 257.89,354.36 C258.37,354.92 258.69,355.68 258.76,356.37 Z" fill="none" fill-opacity="1.0" stroke="#22272a" stroke-width="0.55"/>
<path d="M258.2,356.46 C258.25,357.05 258.09,357.73 257.77,358.27 C257.45,358.81 256.88,359.35 256.28,359.7 C255.67,360.05 254.86,360.3 254.13,360.36 C253.4,360.43 252.56,360.32 251.9,360.08 C251.24,359.84 250.59,359.41 250.19,358.93 C249.78,358.46 249.5,357.81 249.44,357.23 C249.39,356.64 249.56,355.96 249.88,355.42 C250.2,354.88 250.76,354.34 251.37,353.99 C251.97,353.64 252.79,353.39 253.51,353.32 C254.24,353.26 255.09,353.37 255.75,353.6 C256.4,353.84 257.05,354.28 257.46,354.75 C257.87,355.23 258.15,355.87 258.2,356.46 Z" fill="none" fill-opacity="1.0" stroke="#22272a" stroke-width="0.55"/>
<path d="M257.65,356.55 C257.69,357.04 257.55,357.6 257.29,358.05 C257.02,358.5 256.56,358.94 256.06,359.23 C255.56,359.52 254.88,359.73 254.28,359.78 C253.68,359.83 252.98,359.74 252.44,359.55 C251.89,359.35 251.36,358.99 251.02,358.6 C250.68,358.21 250.45,357.67 250.41,357.19 C250.36,356.7 250.5,356.14 250.76,355.69 C251.03,355.24 251.49,354.8 252,354.51 C252.5,354.22 253.17,354.01 253.77,353.96 C254.38,353.91 255.07,354 255.62,354.19 C256.16,354.39 256.7,354.75 257.03,355.14 C257.37,355.53 257.6,356.07 257.65,356.55 Z" fill="none" fill-opacity="1.0" stroke="#22272a" stroke-width="0.55"/>
<path d="M257.09,356.65 C257.13,357.03 257.02,357.48 256.81,357.83 C256.6,358.18 256.23,358.54 255.84,358.76 C255.44,358.99 254.91,359.16 254.43,359.2 C253.95,359.24 253.4,359.17 252.97,359.01 C252.54,358.86 252.12,358.58 251.85,358.26 C251.58,357.95 251.4,357.53 251.37,357.15 C251.33,356.76 251.44,356.32 251.65,355.96 C251.86,355.61 252.23,355.26 252.62,355.03 C253.02,354.8 253.55,354.64 254.03,354.6 C254.51,354.56 255.06,354.62 255.49,354.78 C255.92,354.94 256.34,355.22 256.61,355.53 C256.88,355.84 257.06,356.26 257.09,356.65 Z" fill="none" fill-opacity="1.0" stroke="#22272a" stroke-width="0.55"/>
<path d="M256.54,356.74 C256.56,357.02 256.48,357.35 256.33,357.61 C256.18,357.87 255.91,358.13 255.61,358.3 C255.32,358.46 254.93,358.58 254.58,358.62 C254.23,358.65 253.83,358.6 253.51,358.48 C253.19,358.37 252.88,358.16 252.69,357.93 C252.49,357.7 252.35,357.39 252.33,357.11 C252.31,356.83 252.38,356.5 252.54,356.24 C252.69,355.98 252.96,355.72 253.25,355.55 C253.55,355.38 253.94,355.26 254.29,355.23 C254.64,355.2 255.04,355.25 255.36,355.37 C255.67,355.48 255.99,355.69 256.18,355.92 C256.38,356.15 256.51,356.46 256.54,356.74 Z" fill="none" fill-opacity="1.0" stroke="#22272a" stroke-width="0.55"/>
<path d="M255.98,356.83 C256,357.01 255.95,357.22 255.85,357.39 C255.75,357.56 255.58,357.72 255.39,357.83 C255.21,357.94 254.96,358.01 254.73,358.03 C254.51,358.05 254.25,358.02 254.05,357.95 C253.84,357.87 253.65,357.74 253.52,357.59 C253.39,357.45 253.31,357.25 253.29,357.07 C253.28,356.89 253.33,356.68 253.42,356.51 C253.52,356.35 253.7,356.18 253.88,356.07 C254.07,355.97 254.32,355.89 254.54,355.87 C254.77,355.85 255.03,355.88 255.23,355.96 C255.43,356.03 255.63,356.16 255.76,356.31 C255.88,356.46 255.97,356.65 255.98,356.83 Z" fill="none" fill-opacity="1.0" stroke="#22272a" stroke-width="0.55"/>
<path d="M288.76,355.79 C288.89,357.28 288.45,359.03 287.6,360.41 C286.75,361.79 285.26,363.17 283.66,364.06 C282.05,364.95 279.91,365.6 277.98,365.77 C276.06,365.93 273.83,365.67 272.1,365.07 C270.37,364.47 268.66,363.37 267.58,362.16 C266.51,360.95 265.77,359.31 265.64,357.81 C265.51,356.32 265.95,354.57 266.8,353.19 C267.65,351.81 269.14,350.43 270.74,349.54 C272.35,348.65 274.49,348 276.42,347.83 C278.34,347.67 280.57,347.93 282.3,348.53 C284.03,349.13 285.74,350.23 286.82,351.44 C287.89,352.65 288.63,354.29 288.76,355.79 Z" fill="none" fill-opacity="1.0" stroke="#22272a" stroke-width="0.55"/>
<path d="M287.97,355.88 C288.09,357.3 287.68,358.96 286.87,360.27 C286.06,361.58 284.65,362.89 283.12,363.74 C281.6,364.58 279.56,365.2 277.74,365.36 C275.91,365.52 273.79,365.27 272.15,364.7 C270.5,364.13 268.88,363.08 267.86,361.93 C266.83,360.78 266.14,359.22 266.01,357.8 C265.89,356.38 266.3,354.72 267.11,353.41 C267.92,352.1 269.33,350.79 270.86,349.94 C272.38,349.1 274.42,348.48 276.24,348.32 C278.07,348.16 280.19,348.41 281.83,348.98 C283.48,349.55 285.1,350.6 286.12,351.75 C287.15,352.9 287.84,354.46 287.97,355.88 Z" fill="none" fill-opacity="1.0" stroke="#22272a" stroke-width="0.55"/>
<path d="M287.18,355.97 C287.3,357.31 286.9,358.89 286.14,360.13 C285.38,361.37 284.03,362.61 282.59,363.41 C281.15,364.22 279.22,364.8 277.49,364.95 C275.75,365.1 273.75,364.86 272.19,364.32 C270.63,363.78 269.09,362.79 268.13,361.7 C267.16,360.61 266.5,359.13 266.38,357.79 C266.26,356.45 266.66,354.87 267.42,353.63 C268.18,352.39 269.53,351.15 270.97,350.35 C272.41,349.54 274.34,348.96 276.07,348.81 C277.81,348.66 279.81,348.9 281.37,349.44 C282.93,349.98 284.47,350.97 285.43,352.06 C286.4,353.15 287.06,354.63 287.18,355.97 Z" fill="none" fill-opacity="1.0" stroke="#22272a" stroke-width="0.55"/>
<path d="M286.39,356.06 C286.5,357.33 286.13,358.81 285.41,359.99 C284.69,361.16 283.42,362.33 282.06,363.09 C280.7,363.85 278.87,364.4 277.24,364.54 C275.6,364.68 273.71,364.46 272.24,363.95 C270.76,363.44 269.31,362.5 268.4,361.47 C267.48,360.45 266.86,359.05 266.75,357.78 C266.64,356.51 267.01,355.03 267.73,353.85 C268.45,352.68 269.72,351.51 271.08,350.75 C272.44,349.99 274.27,349.44 275.9,349.3 C277.54,349.16 279.43,349.38 280.9,349.89 C282.38,350.4 283.83,351.34 284.74,352.37 C285.66,353.39 286.28,354.79 286.39,356.06 Z" fill="none" fill-opacity="1.0" stroke="#22272a" stroke-width="0.55"/>
<path d="M284.53,356.27 C284.63,357.37 284.31,358.65 283.69,359.66 C283.07,360.66 281.98,361.67 280.8,362.33 C279.63,362.98 278.06,363.45 276.65,363.58 C275.24,363.7 273.61,363.51 272.34,363.07 C271.07,362.63 269.82,361.82 269.04,360.94 C268.25,360.05 267.71,358.85 267.62,357.75 C267.52,356.66 267.84,355.38 268.46,354.37 C269.08,353.36 270.17,352.35 271.35,351.7 C272.52,351.05 274.09,350.57 275.5,350.45 C276.91,350.33 278.54,350.52 279.81,350.96 C281.08,351.4 282.33,352.21 283.11,353.09 C283.9,353.98 284.44,355.18 284.53,356.27 Z" fill="none" fill-opacity="1.0" stroke="#22272a" stroke-width="0.55"/>
<path d="M283.46,356.4 C283.55,357.39 283.26,358.55 282.7,359.46 C282.13,360.38 281.14,361.3 280.08,361.89 C279.01,362.48 277.59,362.91 276.31,363.02 C275.03,363.14 273.55,362.96 272.4,362.56 C271.25,362.16 270.12,361.43 269.4,360.63 C268.69,359.82 268.2,358.73 268.11,357.74 C268.03,356.75 268.32,355.59 268.88,354.67 C269.45,353.76 270.44,352.84 271.5,352.25 C272.57,351.65 273.99,351.23 275.27,351.11 C276.55,351 278.02,351.18 279.18,351.58 C280.33,351.98 281.46,352.71 282.18,353.51 C282.89,354.31 283.38,355.4 283.46,356.4 Z" fill="none" fill-opacity="1.0" stroke="#22272a" stroke-width="0.55"/>
<path d="M282.39,356.52 C282.47,357.41 282.21,358.45 281.7,359.27 C281.2,360.1 280.31,360.92 279.35,361.45 C278.4,361.98 277.12,362.37 275.97,362.47 C274.82,362.57 273.5,362.41 272.46,362.05 C271.43,361.7 270.41,361.04 269.77,360.32 C269.13,359.6 268.69,358.62 268.61,357.73 C268.54,356.83 268.8,355.79 269.3,354.97 C269.81,354.15 270.7,353.33 271.65,352.8 C272.61,352.26 273.89,351.88 275.04,351.78 C276.18,351.68 277.51,351.83 278.54,352.19 C279.58,352.55 280.6,353.21 281.24,353.93 C281.88,354.65 282.32,355.63 282.39,356.52 Z" fill="none" fill-opacity="1.0" stroke="#22272a" stroke-width="0.55"/>
<path d="M281.32,356.64 C281.39,357.43 281.16,358.35 280.71,359.08 C280.26,359.81 279.48,360.54 278.63,361.01 C277.78,361.48 276.65,361.82 275.63,361.91 C274.62,362 273.44,361.86 272.53,361.55 C271.61,361.23 270.71,360.65 270.14,360.01 C269.57,359.37 269.18,358.5 269.11,357.71 C269.05,356.92 269.28,356 269.72,355.27 C270.17,354.54 270.96,353.81 271.81,353.34 C272.65,352.87 273.79,352.53 274.8,352.44 C275.82,352.35 277,352.49 277.91,352.81 C278.83,353.13 279.73,353.71 280.3,354.35 C280.87,354.99 281.25,355.85 281.32,356.64 Z" fill="none" fill-opacity="1.0" stroke="#22272a" stroke-width="0.55"/>
<path d="M280.25,356.77 C280.31,357.45 280.11,358.26 279.72,358.89 C279.33,359.53 278.64,360.16 277.91,360.57 C277.17,360.98 276.18,361.28 275.29,361.36 C274.41,361.44 273.38,361.32 272.59,361.04 C271.79,360.76 271,360.26 270.51,359.7 C270.01,359.14 269.67,358.39 269.61,357.7 C269.55,357.01 269.75,356.21 270.15,355.57 C270.54,354.94 271.22,354.3 271.96,353.89 C272.7,353.48 273.69,353.18 274.57,353.1 C275.46,353.03 276.48,353.15 277.28,353.42 C278.08,353.7 278.86,354.21 279.36,354.77 C279.86,355.32 280.19,356.08 280.25,356.77 Z" fill="none" fill-opacity="1.0" stroke="#22272a" stroke-width="0.55"/>
<path d="M279.18,356.89 C279.23,357.48 279.06,358.16 278.73,358.7 C278.4,359.24 277.81,359.78 277.18,360.13 C276.55,360.49 275.71,360.74 274.96,360.8 C274.2,360.87 273.33,360.77 272.65,360.53 C271.97,360.3 271.3,359.86 270.87,359.39 C270.45,358.91 270.16,358.27 270.11,357.68 C270.06,357.1 270.23,356.41 270.57,355.87 C270.9,355.33 271.49,354.79 272.11,354.44 C272.74,354.09 273.58,353.83 274.34,353.77 C275.1,353.7 275.97,353.8 276.65,354.04 C277.33,354.28 278,354.71 278.42,355.18 C278.84,355.66 279.13,356.3 279.18,356.89 Z" fill="none" fill-opacity="1.0" stroke="#22272a" stroke-width="0.55"/>
<path d="M278.11,357.01 C278.15,357.5 278.01,358.06 277.74,358.51 C277.46,358.96 276.98,359.41 276.46,359.7 C275.94,359.99 275.24,360.19 274.62,360.25 C273.99,360.3 273.27,360.22 272.71,360.02 C272.15,359.83 271.59,359.47 271.24,359.08 C270.89,358.69 270.66,358.15 270.61,357.67 C270.57,357.18 270.71,356.62 270.99,356.17 C271.26,355.72 271.75,355.27 272.27,354.99 C272.79,354.7 273.48,354.49 274.11,354.43 C274.73,354.38 275.45,354.46 276.02,354.66 C276.58,354.85 277.13,355.21 277.48,355.6 C277.83,355.99 278.07,356.53 278.11,357.01 Z" fill="none" fill-opacity="1.0" stroke="#22272a" stroke-width="0.55"/>
<path d="M277.04,357.14 C277.08,357.52 276.96,357.97 276.75,358.32 C276.53,358.67 276.15,359.03 275.73,359.26 C275.32,359.49 274.77,359.65 274.28,359.69 C273.78,359.74 273.21,359.67 272.77,359.52 C272.32,359.36 271.89,359.08 271.61,358.77 C271.33,358.46 271.15,358.04 271.11,357.65 C271.08,357.27 271.19,356.82 271.41,356.47 C271.63,356.12 272.01,355.76 272.42,355.53 C272.83,355.3 273.38,355.14 273.88,355.09 C274.37,355.05 274.94,355.12 275.39,355.27 C275.83,355.43 276.27,355.71 276.54,356.02 C276.82,356.33 277.01,356.75 277.04,357.14 Z" fill="none" fill-opacity="1.0" stroke="#22272a" stroke-width="0.55"/>
<path d="M275.97,357.26 C276,357.54 275.91,357.87 275.75,358.13 C275.59,358.39 275.31,358.65 275.01,358.82 C274.71,358.99 274.3,359.11 273.94,359.14 C273.58,359.17 273.16,359.12 272.83,359.01 C272.5,358.9 272.18,358.69 271.98,358.46 C271.78,358.23 271.64,357.92 271.61,357.64 C271.59,357.36 271.67,357.03 271.83,356.77 C271.99,356.51 272.27,356.25 272.57,356.08 C272.88,355.91 273.28,355.79 273.64,355.76 C274.01,355.73 274.43,355.78 274.75,355.89 C275.08,356 275.4,356.21 275.61,356.44 C275.81,356.67 275.95,356.98 275.97,357.26 Z" fill="none" fill-opacity="1.0" stroke="#22272a" stroke-width="0.55"/>
<path d="M274.9,357.38 C274.92,357.56 274.86,357.77 274.76,357.94 C274.66,358.11 274.48,358.27 274.29,358.38 C274.09,358.49 273.83,358.57 273.6,358.59 C273.37,358.61 273.1,358.57 272.89,358.5 C272.68,358.43 272.48,358.3 272.35,358.15 C272.22,358 272.13,357.81 272.11,357.63 C272.1,357.45 272.15,357.23 272.25,357.07 C272.35,356.9 272.53,356.74 272.73,356.63 C272.92,356.52 273.18,356.44 273.41,356.42 C273.64,356.4 273.91,356.43 274.12,356.51 C274.33,356.58 274.54,356.71 274.67,356.86 C274.8,357 274.89,357.2 274.9,357.38 Z" fill="none" fill-opacity="1.0" stroke="#22272a" stroke-width="0.55"/>
<path d="M305.8,352.4 C305.8,353.23 305.65,354.18 305.4,354.9 C305.15,355.62 304.73,356.31 304.3,356.73 C303.87,357.15 303.3,357.4 302.8,357.4 C302.3,357.4 301.73,357.15 301.3,356.73 C300.87,356.31 300.45,355.62 300.2,354.9 C299.95,354.18 299.8,353.23 299.8,352.4 C299.8,351.57 299.95,350.62 300.2,349.9 C300.45,349.18 300.87,348.49 301.3,348.07 C301.73,347.65 302.3,347.4 302.8,347.4 C303.3,347.4 303.87,347.65 304.3,348.07 C304.73,348.49 305.15,349.18 305.4,349.9 C305.65,350.62 305.8,351.57 305.8,352.4 Z" fill="none" fill-opacity="1.0" stroke="#888" stroke-width="0.45"/>
<path d="M304.98,352.4 C304.98,353.01 304.87,353.69 304.69,354.22 C304.51,354.74 304.21,355.24 303.89,355.55 C303.58,355.85 303.16,356.03 302.8,356.03 C302.44,356.03 302.02,355.85 301.71,355.55 C301.39,355.24 301.09,354.74 300.91,354.22 C300.73,353.69 300.62,353.01 300.62,352.4 C300.62,351.79 300.73,351.11 300.91,350.58 C301.09,350.06 301.39,349.56 301.71,349.25 C302.02,348.95 302.44,348.77 302.8,348.77 C303.16,348.77 303.58,348.95 303.89,349.25 C304.21,349.56 304.51,350.06 304.69,350.58 C304.87,351.11 304.98,351.79 304.98,352.4 Z" fill="none" fill-opacity="1.0" stroke="#999" stroke-width="0.45"/>
<path d="M304.34,352.4 C304.34,352.83 304.26,353.31 304.13,353.68 C304.01,354.06 303.79,354.41 303.57,354.62 C303.35,354.84 303.06,354.97 302.8,354.97 C302.54,354.97 302.25,354.84 302.03,354.62 C301.81,354.41 301.59,354.06 301.47,353.68 C301.34,353.31 301.26,352.83 301.26,352.4 C301.26,351.97 301.34,351.49 301.47,351.12 C301.59,350.74 301.81,350.39 302.03,350.18 C302.25,349.96 302.54,349.83 302.8,349.83 C303.06,349.83 303.35,349.96 303.57,350.18 C303.79,350.39 304.01,350.74 304.13,351.12 C304.26,351.49 304.34,351.97 304.34,352.4 Z" fill="none" fill-opacity="1.0" stroke="#999" stroke-width="0.45"/>
<path d="M303.7,352.4 C303.7,352.65 303.66,352.93 303.58,353.15 C303.51,353.37 303.38,353.58 303.25,353.7 C303.12,353.83 302.95,353.9 302.8,353.9 C302.65,353.9 302.48,353.83 302.35,353.7 C302.22,353.58 302.09,353.37 302.02,353.15 C301.94,352.93 301.9,352.65 301.9,352.4 C301.9,352.15 301.94,351.87 302.02,351.65 C302.09,351.43 302.22,351.22 302.35,351.1 C302.48,350.97 302.65,350.9 302.8,350.9 C302.95,350.9 303.12,350.97 303.25,351.1 C303.38,351.22 303.51,351.43 303.58,351.65 C303.66,351.87 303.7,352.15 303.7,352.4 Z" fill="none" fill-opacity="1.0" stroke="#999" stroke-width="0.45"/>
<path d="M288.6,349.5 C294,349 297,350 300,351 M288.6,356 C294,357 297,356 300,355" fill="none" stroke="#999" stroke-width="0.45"/>
<path d="M344.5,343.9 C343.78,341.8 343.55,336.9 343.8,334.1 C344.05,331.3 344.58,329.1 346,327.1 C347.42,325.1 349.85,323.17 352.3,322.1 C354.75,321.03 357.9,320.7 360.7,320.7 C363.5,320.7 366.65,321.03 369.1,322.1 C371.55,323.17 374.47,325.1 375.4,327.1 C376.33,329.1 375.75,332.47 374.7,334.1 C373.65,335.73 371.67,336.08 369.1,336.9 C366.53,337.72 362.1,338.07 359.3,339 C356.5,339.93 354.17,341.22 352.3,342.5 C350.43,343.78 349.4,346.47 348.1,346.7 C346.8,346.93 345.22,346 344.5,343.9 Z" fill="none" fill-opacity="1.0" stroke="#8a9093" stroke-width="0.45"/>
<path d="M346.9,341.63 C346.3,339.87 346.11,335.76 346.32,333.42 C346.53,331.07 346.97,329.23 348.16,327.55 C349.35,325.88 351.38,324.26 353.44,323.37 C355.49,322.47 358.13,322.19 360.47,322.19 C362.82,322.19 365.46,322.47 367.51,323.37 C369.56,324.26 372,325.88 372.79,327.55 C373.57,329.23 373.08,332.05 372.2,333.42 C371.32,334.79 369.66,335.08 367.51,335.76 C365.36,336.45 361.65,336.74 359.3,337.52 C356.95,338.3 355,339.38 353.44,340.45 C351.87,341.53 351.01,343.78 349.92,343.97 C348.83,344.17 347.5,343.39 346.9,341.63 Z" fill="none" fill-opacity="1.0" stroke="#90969a" stroke-width="0.45"/>
<path d="M348.42,340.19 C347.89,338.65 347.72,335.05 347.9,332.99 C348.09,330.93 348.48,329.31 349.52,327.84 C350.56,326.37 352.35,324.95 354.15,324.17 C355.95,323.38 358.27,323.14 360.33,323.14 C362.39,323.14 364.7,323.38 366.51,324.17 C368.31,324.95 370.45,326.37 371.14,327.84 C371.82,329.31 371.39,331.79 370.62,332.99 C369.85,334.19 368.39,334.45 366.51,335.05 C364.62,335.65 361.36,335.9 359.3,336.59 C357.24,337.28 355.53,338.22 354.15,339.16 C352.78,340.11 352.02,342.08 351.07,342.25 C350.11,342.42 348.95,341.74 348.42,340.19 Z" fill="none" fill-opacity="1.0" stroke="#90969a" stroke-width="0.45"/>
<path d="M349.93,338.76 C349.48,337.43 349.33,334.33 349.49,332.56 C349.65,330.79 349.99,329.39 350.88,328.13 C351.78,326.86 353.32,325.64 354.87,324.96 C356.42,324.29 358.41,324.08 360.19,324.08 C361.96,324.08 363.95,324.29 365.5,324.96 C367.05,325.64 368.9,326.86 369.49,328.13 C370.08,329.39 369.71,331.52 369.05,332.56 C368.38,333.59 367.13,333.81 365.5,334.33 C363.88,334.85 361.07,335.07 359.3,335.66 C357.53,336.25 356.05,337.06 354.87,337.87 C353.69,338.69 353.04,340.38 352.21,340.53 C351.39,340.68 350.39,340.09 349.93,338.76 Z" fill="none" fill-opacity="1.0" stroke="#90969a" stroke-width="0.45"/>
<path d="M351.45,337.33 C351.07,336.21 350.95,333.61 351.08,332.13 C351.21,330.64 351.49,329.48 352.25,328.41 C353,327.35 354.29,326.33 355.59,325.76 C356.89,325.2 358.56,325.02 360.04,325.02 C361.53,325.02 363.2,325.2 364.5,325.76 C365.8,326.33 367.34,327.35 367.84,328.41 C368.33,329.48 368.03,331.26 367.47,332.13 C366.91,332.99 365.86,333.18 364.5,333.61 C363.14,334.05 360.79,334.23 359.3,334.73 C357.81,335.22 356.58,335.9 355.59,336.58 C354.6,337.26 354.05,338.69 353.36,338.81 C352.67,338.93 351.83,338.44 351.45,337.33 Z" fill="none" fill-opacity="1.0" stroke="#90969a" stroke-width="0.45"/>
<path d="M352.97,335.89 C352.66,334.99 352.56,332.9 352.67,331.7 C352.77,330.5 353,329.56 353.61,328.7 C354.21,327.85 355.26,327.02 356.3,326.56 C357.35,326.1 358.7,325.96 359.9,325.96 C361.1,325.96 362.45,326.1 363.49,326.56 C364.54,327.02 365.79,327.85 366.19,328.7 C366.59,329.56 366.34,331 365.89,331.7 C365.44,332.4 364.59,332.55 363.49,332.9 C362.4,333.25 360.5,333.4 359.3,333.79 C358.1,334.19 357.1,334.74 356.3,335.29 C355.5,335.84 355.06,336.99 354.51,337.09 C353.95,337.19 353.27,336.79 352.97,335.89 Z" fill="none" fill-opacity="1.0" stroke="#90969a" stroke-width="0.45"/>
<path d="M354.48,334.46 C354.25,333.77 354.17,332.18 354.25,331.27 C354.33,330.36 354.51,329.64 354.97,328.99 C355.43,328.34 356.22,327.71 357.02,327.36 C357.82,327.01 358.84,326.9 359.76,326.9 C360.67,326.9 361.69,327.01 362.49,327.36 C363.29,327.71 364.24,328.34 364.54,328.99 C364.85,329.64 364.66,330.74 364.31,331.27 C363.97,331.8 363.33,331.91 362.49,332.18 C361.66,332.45 360.21,332.56 359.3,332.86 C358.39,333.17 357.63,333.58 357.02,334 C356.41,334.42 356.08,335.29 355.65,335.37 C355.23,335.45 354.71,335.14 354.48,334.46 Z" fill="none" fill-opacity="1.0" stroke="#90969a" stroke-width="0.45"/>
<path d="M356,333.03 C355.84,332.56 355.78,331.46 355.84,330.84 C355.9,330.21 356.01,329.72 356.33,329.27 C356.65,328.83 357.19,328.4 357.74,328.16 C358.28,327.92 358.99,327.85 359.61,327.85 C360.24,327.85 360.94,327.92 361.49,328.16 C362.03,328.4 362.69,328.83 362.89,329.27 C363.1,329.72 362.97,330.47 362.74,330.84 C362.5,331.2 362.06,331.28 361.49,331.46 C360.91,331.64 359.93,331.72 359.3,331.93 C358.67,332.14 358.15,332.43 357.74,332.71 C357.32,333 357.09,333.6 356.8,333.65 C356.51,333.7 356.16,333.49 356,333.03 Z" fill="none" fill-opacity="1.0" stroke="#90969a" stroke-width="0.45"/>
<path d="M357.51,331.59 C357.43,331.34 357.4,330.75 357.43,330.41 C357.46,330.07 357.52,329.8 357.69,329.56 C357.86,329.32 358.16,329.09 358.45,328.96 C358.75,328.83 359.13,328.79 359.47,328.79 C359.81,328.79 360.19,328.83 360.48,328.96 C360.78,329.09 361.13,329.32 361.25,329.56 C361.36,329.8 361.29,330.21 361.16,330.41 C361.03,330.6 360.79,330.65 360.48,330.75 C360.17,330.84 359.64,330.89 359.3,331 C358.96,331.11 358.68,331.27 358.45,331.42 C358.23,331.58 358.1,331.9 357.95,331.93 C357.79,331.96 357.6,331.85 357.51,331.59 Z" fill="none" fill-opacity="1.0" stroke="#90969a" stroke-width="0.45"/>
<path d="M354.14,355.54 C354.56,356.71 354.53,358.23 354.03,359.57 C353.54,360.9 352.47,362.39 351.19,363.52 C349.91,364.65 348.09,365.72 346.37,366.35 C344.64,366.97 342.56,367.33 340.85,367.28 C339.15,367.24 337.36,366.79 336.13,366.08 C334.9,365.38 333.89,364.24 333.46,363.06 C333.04,361.89 333.07,360.37 333.57,359.03 C334.06,357.7 335.13,356.21 336.41,355.08 C337.69,353.95 339.51,352.88 341.23,352.25 C342.96,351.63 345.04,351.27 346.75,351.32 C348.45,351.36 350.24,351.81 351.47,352.52 C352.7,353.22 353.71,354.36 354.14,355.54 Z" fill="none" fill-opacity="1.0" stroke="#1a1a1a" stroke-width="0.6"/>
<path d="M353.59,355.81 C353.99,356.91 353.95,358.34 353.49,359.59 C353.03,360.84 352.02,362.25 350.82,363.31 C349.62,364.37 347.9,365.38 346.28,365.97 C344.66,366.56 342.71,366.89 341.1,366.85 C339.5,366.81 337.82,366.38 336.66,365.72 C335.51,365.06 334.56,363.98 334.16,362.88 C333.75,361.77 333.79,360.34 334.25,359.09 C334.71,357.84 335.72,356.44 336.93,355.37 C338.13,354.31 339.84,353.31 341.46,352.72 C343.08,352.13 345.04,351.79 346.64,351.84 C348.25,351.88 349.92,352.31 351.08,352.97 C352.24,353.63 353.19,354.7 353.59,355.81 Z" fill="none" fill-opacity="1.0" stroke="#1a1a1a" stroke-width="0.6"/>
<path d="M353.04,356.07 C353.42,357.11 353.38,358.45 352.95,359.62 C352.52,360.79 351.57,362.1 350.45,363.1 C349.32,364.09 347.72,365.03 346.2,365.59 C344.69,366.14 342.85,366.45 341.35,366.41 C339.85,366.37 338.28,365.97 337.2,365.35 C336.11,364.73 335.22,363.73 334.85,362.69 C334.47,361.66 334.51,360.32 334.94,359.15 C335.37,357.98 336.32,356.66 337.44,355.67 C338.57,354.67 340.17,353.73 341.69,353.18 C343.2,352.63 345.04,352.32 346.54,352.36 C348.04,352.4 349.61,352.8 350.69,353.42 C351.78,354.04 352.66,355.04 353.04,356.07 Z" fill="none" fill-opacity="1.0" stroke="#1a1a1a" stroke-width="0.6"/>
<path d="M352.49,356.34 C352.84,357.3 352.81,358.55 352.41,359.64 C352.01,360.74 351.12,361.96 350.08,362.89 C349.03,363.82 347.53,364.69 346.12,365.21 C344.71,365.72 343,366.01 341.6,365.97 C340.2,365.94 338.74,365.56 337.73,364.99 C336.72,364.41 335.89,363.47 335.54,362.51 C335.19,361.55 335.22,360.3 335.62,359.21 C336.03,358.12 336.91,356.89 337.96,355.96 C339,355.04 340.5,354.16 341.91,353.65 C343.33,353.13 345.03,352.84 346.43,352.88 C347.83,352.91 349.29,353.29 350.3,353.86 C351.31,354.44 352.14,355.38 352.49,356.34 Z" fill="none" fill-opacity="1.0" stroke="#1a1a1a" stroke-width="0.6"/>
<path d="M351.15,357 C351.44,357.79 351.41,358.81 351.08,359.71 C350.75,360.6 350.03,361.61 349.17,362.37 C348.31,363.13 347.08,363.85 345.92,364.27 C344.76,364.69 343.36,364.93 342.21,364.9 C341.06,364.87 339.86,364.57 339.03,364.09 C338.2,363.62 337.52,362.85 337.24,362.06 C336.95,361.27 336.97,360.25 337.31,359.35 C337.64,358.45 338.36,357.45 339.22,356.69 C340.08,355.93 341.31,355.21 342.47,354.79 C343.63,354.36 345.03,354.13 346.18,354.16 C347.32,354.19 348.52,354.49 349.35,354.97 C350.18,355.44 350.86,356.21 351.15,357 Z" fill="none" fill-opacity="1.0" stroke="#3a3f42" stroke-width="0.5"/>
<path d="M350.35,357.39 C350.6,358.07 350.58,358.97 350.29,359.75 C350.01,360.53 349.38,361.4 348.63,362.06 C347.88,362.73 346.81,363.35 345.8,363.72 C344.79,364.09 343.57,364.29 342.57,364.27 C341.57,364.24 340.53,363.98 339.8,363.56 C339.08,363.15 338.49,362.48 338.24,361.79 C337.99,361.11 338.01,360.21 338.3,359.43 C338.59,358.65 339.22,357.78 339.97,357.12 C340.72,356.45 341.78,355.83 342.79,355.46 C343.8,355.09 345.02,354.89 346.02,354.91 C347.02,354.94 348.07,355.2 348.79,355.62 C349.51,356.03 350.1,356.7 350.35,357.39 Z" fill="none" fill-opacity="1.0" stroke="#3a3f42" stroke-width="0.5"/>
<path d="M349.56,357.77 C349.77,358.36 349.75,359.12 349.51,359.78 C349.26,360.45 348.73,361.19 348.09,361.76 C347.45,362.32 346.54,362.85 345.68,363.17 C344.82,363.48 343.78,363.66 342.93,363.63 C342.08,363.61 341.19,363.38 340.58,363.03 C339.96,362.68 339.46,362.11 339.25,361.53 C339.03,360.94 339.05,360.18 339.3,359.52 C339.54,358.85 340.08,358.11 340.72,357.54 C341.35,356.98 342.26,356.45 343.12,356.14 C343.98,355.82 345.02,355.65 345.87,355.67 C346.72,355.69 347.61,355.92 348.23,356.27 C348.84,356.62 349.34,357.19 349.56,357.77 Z" fill="none" fill-opacity="1.0" stroke="#3a3f42" stroke-width="0.5"/>
<path d="M348.76,358.16 C348.94,358.65 348.92,359.27 348.72,359.82 C348.52,360.37 348.08,360.98 347.55,361.45 C347.02,361.92 346.27,362.36 345.56,362.61 C344.85,362.87 343.99,363.02 343.29,363 C342.59,362.98 341.86,362.79 341.35,362.5 C340.84,362.21 340.43,361.74 340.25,361.26 C340.07,360.78 340.09,360.15 340.29,359.6 C340.49,359.05 340.94,358.44 341.46,357.97 C341.99,357.51 342.74,357.07 343.45,356.81 C344.16,356.55 345.02,356.41 345.72,356.42 C346.42,356.44 347.16,356.63 347.66,356.92 C348.17,357.21 348.59,357.68 348.76,358.16 Z" fill="none" fill-opacity="1.0" stroke="#3a3f42" stroke-width="0.5"/>
<path d="M347.97,358.55 C348.11,358.93 348.09,359.43 347.93,359.86 C347.77,360.29 347.43,360.78 347.01,361.14 C346.59,361.51 346,361.86 345.44,362.06 C344.88,362.26 344.21,362.38 343.65,362.37 C343.1,362.35 342.52,362.2 342.12,361.97 C341.72,361.75 341.39,361.38 341.25,360.99 C341.11,360.61 341.13,360.12 341.29,359.69 C341.45,359.25 341.8,358.77 342.21,358.4 C342.63,358.03 343.22,357.69 343.78,357.48 C344.34,357.28 345.01,357.17 345.57,357.18 C346.12,357.19 346.7,357.34 347.1,357.57 C347.5,357.8 347.83,358.17 347.97,358.55 Z" fill="none" fill-opacity="1.0" stroke="#3a3f42" stroke-width="0.5"/>
<path d="M347.17,358.94 C347.27,359.22 347.26,359.58 347.15,359.9 C347.03,360.21 346.77,360.57 346.47,360.84 C346.17,361.11 345.73,361.36 345.32,361.51 C344.92,361.66 344.42,361.74 344.01,361.73 C343.61,361.72 343.18,361.61 342.89,361.45 C342.6,361.28 342.36,361.01 342.26,360.73 C342.16,360.45 342.17,360.09 342.28,359.77 C342.4,359.45 342.65,359.1 342.96,358.83 C343.26,358.56 343.7,358.31 344.11,358.16 C344.51,358.01 345.01,357.93 345.42,357.94 C345.82,357.95 346.24,358.05 346.54,358.22 C346.83,358.39 347.07,358.66 347.17,358.94 Z" fill="none" fill-opacity="1.0" stroke="#3a3f42" stroke-width="0.5"/>
<path d="M346.38,359.33 C346.44,359.5 346.43,359.73 346.36,359.93 C346.29,360.14 346.12,360.36 345.93,360.53 C345.74,360.7 345.47,360.86 345.21,360.96 C344.95,361.05 344.63,361.1 344.38,361.1 C344.12,361.09 343.85,361.02 343.66,360.92 C343.48,360.81 343.33,360.64 343.26,360.46 C343.2,360.28 343.2,360.05 343.28,359.85 C343.35,359.65 343.51,359.43 343.71,359.26 C343.9,359.09 344.17,358.93 344.43,358.83 C344.69,358.74 345.01,358.69 345.26,358.69 C345.52,358.7 345.79,358.77 345.97,358.87 C346.16,358.98 346.31,359.15 346.38,359.33 Z" fill="none" fill-opacity="1.0" stroke="#3a3f42" stroke-width="0.5"/>
<path d="M381.45,357.72 C381.56,358.95 381.06,360.4 380.12,361.55 C379.18,362.7 377.56,363.87 375.83,364.64 C374.11,365.41 371.8,365.99 369.74,366.17 C367.69,366.35 365.32,366.18 363.48,365.72 C361.65,365.27 359.85,364.4 358.72,363.42 C357.6,362.45 356.85,361.11 356.75,359.88 C356.64,358.65 357.14,357.2 358.08,356.05 C359.02,354.9 360.64,353.73 362.37,352.96 C364.09,352.19 366.4,351.61 368.46,351.43 C370.51,351.25 372.88,351.42 374.72,351.88 C376.55,352.33 378.35,353.2 379.48,354.18 C380.6,355.15 381.35,356.49 381.45,357.72 Z" fill="none" fill-opacity="1.0" stroke="#5a6063" stroke-width="0.45"/>
<path d="M380.71,357.78 C380.81,358.94 380.34,360.3 379.46,361.38 C378.58,362.47 377.06,363.57 375.43,364.29 C373.81,365.02 371.64,365.56 369.71,365.73 C367.77,365.9 365.55,365.74 363.82,365.31 C362.09,364.88 360.4,364.06 359.35,363.14 C358.29,362.23 357.59,360.97 357.49,359.82 C357.39,358.66 357.86,357.3 358.74,356.22 C359.62,355.13 361.14,354.03 362.77,353.31 C364.39,352.58 366.56,352.04 368.49,351.87 C370.43,351.7 372.65,351.86 374.38,352.29 C376.11,352.72 377.8,353.54 378.85,354.46 C379.91,355.37 380.61,356.63 380.71,357.78 Z" fill="none" fill-opacity="1.0" stroke="#5a6063" stroke-width="0.45"/>
<path d="M378.93,357.94 C379.01,358.92 378.61,360.07 377.87,360.99 C377.12,361.91 375.83,362.84 374.46,363.45 C373.08,364.06 371.25,364.52 369.61,364.67 C367.98,364.81 366.09,364.67 364.63,364.31 C363.17,363.94 361.74,363.25 360.84,362.48 C359.95,361.7 359.36,360.64 359.27,359.66 C359.19,358.68 359.59,357.53 360.33,356.61 C361.08,355.69 362.37,354.76 363.74,354.15 C365.12,353.54 366.95,353.08 368.59,352.93 C370.22,352.79 372.11,352.93 373.57,353.29 C375.03,353.66 376.46,354.35 377.36,355.12 C378.25,355.9 378.84,356.96 378.93,357.94 Z" fill="none" fill-opacity="1.0" stroke="#656b6f" stroke-width="0.45"/>
<path d="M377.89,358.03 C377.96,358.91 377.6,359.94 376.94,360.76 C376.27,361.58 375.12,362.41 373.89,362.96 C372.66,363.5 371.02,363.92 369.56,364.04 C368.09,364.17 366.41,364.05 365.1,363.73 C363.8,363.4 362.52,362.78 361.72,362.09 C360.92,361.39 360.39,360.44 360.31,359.57 C360.24,358.69 360.6,357.66 361.26,356.84 C361.93,356.02 363.08,355.19 364.31,354.64 C365.54,354.1 367.18,353.68 368.64,353.56 C370.11,353.43 371.79,353.55 373.1,353.87 C374.4,354.2 375.68,354.82 376.48,355.51 C377.28,356.21 377.81,357.16 377.89,358.03 Z" fill="none" fill-opacity="1.0" stroke="#656b6f" stroke-width="0.45"/>
<path d="M376.84,358.12 C376.91,358.89 376.6,359.8 376.01,360.52 C375.42,361.25 374.41,361.98 373.32,362.46 C372.24,362.95 370.8,363.31 369.5,363.42 C368.21,363.53 366.73,363.43 365.58,363.14 C364.43,362.85 363.3,362.31 362.6,361.7 C361.89,361.09 361.42,360.25 361.36,359.48 C361.29,358.71 361.6,357.8 362.19,357.08 C362.78,356.35 363.79,355.62 364.88,355.14 C365.96,354.65 367.4,354.29 368.7,354.18 C369.99,354.07 371.47,354.17 372.62,354.46 C373.77,354.75 374.9,355.29 375.6,355.9 C376.31,356.51 376.78,357.35 376.84,358.12 Z" fill="none" fill-opacity="1.0" stroke="#656b6f" stroke-width="0.45"/>
<path d="M375.8,358.21 C375.86,358.88 375.59,359.67 375.08,360.29 C374.57,360.92 373.69,361.55 372.75,361.97 C371.82,362.39 370.57,362.7 369.45,362.8 C368.33,362.9 367.05,362.81 366.05,362.56 C365.06,362.31 364.08,361.84 363.47,361.31 C362.86,360.78 362.46,360.05 362.4,359.39 C362.34,358.72 362.61,357.93 363.12,357.31 C363.63,356.68 364.51,356.05 365.45,355.63 C366.38,355.21 367.63,354.9 368.75,354.8 C369.87,354.7 371.15,354.79 372.15,355.04 C373.14,355.29 374.12,355.76 374.73,356.29 C375.34,356.82 375.74,357.55 375.8,358.21 Z" fill="none" fill-opacity="1.0" stroke="#656b6f" stroke-width="0.45"/>
<path d="M374.76,358.3 C374.81,358.87 374.58,359.53 374.15,360.06 C373.72,360.59 372.98,361.12 372.19,361.48 C371.39,361.83 370.34,362.1 369.4,362.18 C368.45,362.26 367.37,362.18 366.53,361.97 C365.68,361.76 364.86,361.36 364.35,360.92 C363.83,360.47 363.49,359.86 363.44,359.3 C363.39,358.73 363.62,358.07 364.05,357.54 C364.48,357.01 365.22,356.48 366.01,356.12 C366.81,355.77 367.86,355.5 368.8,355.42 C369.75,355.34 370.83,355.42 371.67,355.63 C372.52,355.84 373.34,356.24 373.85,356.68 C374.37,357.13 374.71,357.74 374.76,358.3 Z" fill="none" fill-opacity="1.0" stroke="#656b6f" stroke-width="0.45"/>
<path d="M373.72,358.4 C373.76,358.86 373.57,359.4 373.22,359.83 C372.87,360.26 372.26,360.7 371.62,360.98 C370.97,361.27 370.11,361.49 369.34,361.56 C368.57,361.62 367.69,361.56 367,361.39 C366.31,361.22 365.64,360.89 365.22,360.53 C364.8,360.16 364.52,359.66 364.48,359.2 C364.44,358.74 364.63,358.2 364.98,357.77 C365.33,357.34 365.94,356.9 366.58,356.62 C367.23,356.33 368.09,356.11 368.86,356.04 C369.63,355.98 370.51,356.04 371.2,356.21 C371.89,356.38 372.56,356.71 372.98,357.07 C373.4,357.44 373.68,357.94 373.72,358.4 Z" fill="none" fill-opacity="1.0" stroke="#656b6f" stroke-width="0.45"/>
<path d="M372.68,358.49 C372.71,358.84 372.56,359.26 372.29,359.6 C372.02,359.93 371.55,360.27 371.05,360.49 C370.55,360.71 369.88,360.88 369.29,360.93 C368.69,360.99 368.01,360.94 367.47,360.8 C366.94,360.67 366.42,360.42 366.1,360.14 C365.77,359.86 365.56,359.47 365.52,359.11 C365.49,358.76 365.64,358.34 365.91,358 C366.18,357.67 366.65,357.33 367.15,357.11 C367.65,356.89 368.32,356.72 368.91,356.67 C369.51,356.61 370.19,356.66 370.73,356.8 C371.26,356.93 371.78,357.18 372.1,357.46 C372.43,357.74 372.64,358.13 372.68,358.49 Z" fill="none" fill-opacity="1.0" stroke="#656b6f" stroke-width="0.45"/>
<path d="M371.63,358.58 C371.66,358.83 371.55,359.13 371.36,359.36 C371.17,359.6 370.84,359.84 370.48,360 C370.13,360.16 369.65,360.28 369.23,360.31 C368.81,360.35 368.32,360.31 367.95,360.22 C367.57,360.13 367.2,359.95 366.97,359.75 C366.74,359.55 366.59,359.27 366.57,359.02 C366.54,358.77 366.65,358.47 366.84,358.24 C367.03,358 367.36,357.76 367.72,357.6 C368.07,357.44 368.55,357.32 368.97,357.29 C369.39,357.25 369.88,357.29 370.25,357.38 C370.63,357.47 371,357.65 371.23,357.85 C371.46,358.05 371.61,358.33 371.63,358.58 Z" fill="none" fill-opacity="1.0" stroke="#656b6f" stroke-width="0.45"/>
<path d="M370.59,358.67 C370.6,358.82 370.54,358.99 370.43,359.13 C370.32,359.27 370.12,359.41 369.91,359.51 C369.7,359.6 369.43,359.67 369.18,359.69 C368.93,359.71 368.64,359.69 368.42,359.64 C368.2,359.58 367.98,359.48 367.85,359.36 C367.71,359.24 367.62,359.08 367.61,358.93 C367.6,358.78 367.66,358.61 367.77,358.47 C367.88,358.33 368.08,358.19 368.29,358.09 C368.5,358 368.77,357.93 369.02,357.91 C369.27,357.89 369.56,357.91 369.78,357.96 C370,358.02 370.22,358.12 370.35,358.24 C370.49,358.36 370.58,358.52 370.59,358.67 Z" fill="none" fill-opacity="1.0" stroke="#656b6f" stroke-width="0.45"/>
<path d="M436.2,343.5 C435.37,341.13 434.77,336.52 435,334 C435.23,331.48 436.17,329.8 437.6,328.4 C439.03,327 441.48,325.87 443.6,325.6 C445.72,325.33 448.28,325.97 450.3,326.8 C452.32,327.63 454.27,328.87 455.7,330.6 C457.13,332.33 458.52,334.88 458.9,337.2 C459.28,339.52 458.65,342.53 458,344.5 C457.35,346.47 456.82,348.15 455,349 C453.18,349.85 449.6,349.73 447.1,349.6 C444.6,349.47 441.82,349.22 440,348.2 C438.18,347.18 437.03,345.87 436.2,343.5 Z" fill="none" fill-opacity="1.0" stroke="#9aa0a3" stroke-width="0.45"/>
<path d="M438.35,341.63 C437.7,339.78 437.24,336.18 437.42,334.22 C437.6,332.26 438.33,330.94 439.45,329.85 C440.56,328.76 442.48,327.87 444.13,327.67 C445.78,327.46 447.78,327.95 449.35,328.6 C450.93,329.25 452.45,330.22 453.57,331.57 C454.69,332.92 455.77,334.91 456.06,336.72 C456.36,338.52 455.87,340.88 455.36,342.41 C454.85,343.95 454.44,345.26 453.02,345.92 C451.6,346.59 448.81,346.49 446.86,346.39 C444.91,346.29 442.74,346.09 441.32,345.3 C439.9,344.5 439,343.48 438.35,341.63 Z" fill="none" fill-opacity="1.0" stroke="#9aa0a3" stroke-width="0.45"/>
<path d="M439.92,340.27 C439.4,338.8 439.03,335.94 439.18,334.38 C439.32,332.82 439.9,331.77 440.79,330.91 C441.68,330.04 443.2,329.33 444.51,329.17 C445.82,329 447.42,329.4 448.67,329.91 C449.92,330.43 451.13,331.2 452.02,332.27 C452.91,333.35 453.76,334.93 454,336.36 C454.24,337.8 453.85,339.67 453.44,340.89 C453.04,342.11 452.71,343.16 451.58,343.68 C450.46,344.21 448.23,344.14 446.68,344.06 C445.13,343.97 443.4,343.82 442.28,343.19 C441.15,342.56 440.44,341.74 439.92,340.27 Z" fill="none" fill-opacity="1.0" stroke="#9aa0a3" stroke-width="0.45"/>
<path d="M441.49,338.91 C441.1,337.82 440.83,335.7 440.93,334.54 C441.04,333.38 441.47,332.61 442.13,331.96 C442.79,331.32 443.92,330.79 444.89,330.67 C445.87,330.55 447.05,330.84 447.98,331.22 C448.91,331.61 449.81,332.18 450.47,332.97 C451.13,333.77 451.76,334.95 451.94,336.01 C452.12,337.08 451.83,338.47 451.53,339.37 C451.23,340.28 450.98,341.06 450.14,341.45 C449.31,341.84 447.66,341.78 446.51,341.72 C445.36,341.66 444.07,341.55 443.24,341.08 C442.4,340.61 441.87,340 441.49,338.91 Z" fill="none" fill-opacity="1.0" stroke="#9aa0a3" stroke-width="0.45"/>
<path d="M443.05,337.56 C442.8,336.84 442.62,335.46 442.69,334.7 C442.76,333.94 443.04,333.44 443.47,333.02 C443.91,332.59 444.64,332.25 445.28,332.17 C445.91,332.09 446.69,332.28 447.29,332.53 C447.9,332.79 448.49,333.16 448.92,333.68 C449.35,334.2 449.76,334.96 449.88,335.66 C449.99,336.36 449.8,337.26 449.61,337.86 C449.41,338.45 449.25,338.95 448.71,339.21 C448.16,339.46 447.08,339.43 446.33,339.39 C445.58,339.35 444.74,339.27 444.2,338.97 C443.65,338.66 443.3,338.27 443.05,337.56 Z" fill="none" fill-opacity="1.0" stroke="#9aa0a3" stroke-width="0.45"/>
<path d="M443.8,332.4 C443.8,332.83 443.72,333.32 443.59,333.7 C443.45,334.08 443.23,334.43 443,334.65 C442.77,334.87 442.47,335 442.2,335 C441.93,335 441.63,334.87 441.4,334.65 C441.17,334.43 440.95,334.08 440.81,333.7 C440.68,333.32 440.6,332.83 440.6,332.4 C440.6,331.97 440.68,331.48 440.81,331.1 C440.95,330.72 441.17,330.37 441.4,330.15 C441.63,329.93 441.93,329.8 442.2,329.8 C442.47,329.8 442.77,329.93 443,330.15 C443.23,330.37 443.45,330.72 443.59,331.1 C443.72,331.48 443.8,331.97 443.8,332.4 Z" fill="none" fill-opacity="1.0" stroke="#999" stroke-width="0.45"/>
<path d="M450.2,336.7 C450.2,336.97 450.07,337.27 449.85,337.5 C449.63,337.73 449.28,337.95 448.9,338.09 C448.52,338.22 448.03,338.3 447.6,338.3 C447.17,338.3 446.68,338.22 446.3,338.09 C445.92,337.95 445.57,337.73 445.35,337.5 C445.13,337.27 445,336.97 445,336.7 C445,336.43 445.13,336.13 445.35,335.9 C445.57,335.67 445.92,335.45 446.3,335.31 C446.68,335.18 447.17,335.1 447.6,335.1 C448.03,335.1 448.52,335.18 448.9,335.31 C449.28,335.45 449.63,335.67 449.85,335.9 C450.07,336.13 450.2,336.43 450.2,336.7 Z" fill="none" fill-opacity="1.0" stroke="#999" stroke-width="0.45"/>
<path d="M444.46,352.92 C445.02,353.78 445.2,355.07 444.93,356.31 C444.67,357.55 443.88,359.08 442.85,360.36 C441.83,361.64 440.29,363.02 438.78,364 C437.27,364.98 435.38,365.83 433.8,366.24 C432.21,366.66 430.49,366.75 429.24,366.49 C428,366.23 426.91,365.55 426.34,364.68 C425.78,363.82 425.6,362.53 425.87,361.29 C426.13,360.05 426.92,358.52 427.95,357.24 C428.97,355.96 430.51,354.58 432.02,353.6 C433.53,352.62 435.42,351.77 437,351.36 C438.59,350.94 440.31,350.85 441.56,351.11 C442.8,351.37 443.89,352.05 444.46,352.92 Z" fill="none" fill-opacity="1.0" stroke="#1a1a1a" stroke-width="0.55"/>
<path d="M443.73,353.39 C444.25,354.19 444.42,355.36 444.17,356.51 C443.92,357.65 443.2,359.06 442.26,360.24 C441.31,361.42 439.9,362.68 438.51,363.58 C437.12,364.49 435.39,365.27 433.92,365.65 C432.46,366.03 430.88,366.12 429.74,365.88 C428.59,365.64 427.58,365.01 427.07,364.21 C426.55,363.41 426.38,362.24 426.63,361.09 C426.88,359.95 427.6,358.54 428.54,357.36 C429.49,356.18 430.9,354.92 432.29,354.02 C433.68,353.11 435.41,352.33 436.88,351.95 C438.34,351.57 439.92,351.48 441.06,351.72 C442.21,351.96 443.22,352.59 443.73,353.39 Z" fill="none" fill-opacity="1.0" stroke="#1a1a1a" stroke-width="0.55"/>
<path d="M443.01,353.86 C443.48,354.59 443.63,355.66 443.41,356.7 C443.18,357.75 442.52,359.03 441.66,360.11 C440.8,361.19 439.5,362.34 438.24,363.17 C436.97,363.99 435.39,364.7 434.05,365.05 C432.72,365.4 431.27,365.48 430.23,365.26 C429.19,365.04 428.26,364.47 427.79,363.74 C427.32,363.01 427.17,361.94 427.39,360.9 C427.62,359.85 428.28,358.57 429.14,357.49 C430,356.41 431.3,355.26 432.56,354.43 C433.83,353.61 435.41,352.9 436.75,352.55 C438.08,352.2 439.53,352.12 440.57,352.34 C441.61,352.56 442.54,353.13 443.01,353.86 Z" fill="none" fill-opacity="1.0" stroke="#1a1a1a" stroke-width="0.55"/>
<path d="M441.36,354.93 C441.73,355.5 441.85,356.34 441.68,357.16 C441.5,357.97 440.98,358.98 440.31,359.83 C439.63,360.67 438.62,361.58 437.62,362.22 C436.63,362.87 435.39,363.43 434.34,363.7 C433.3,363.98 432.16,364.04 431.35,363.87 C430.53,363.69 429.81,363.24 429.44,362.67 C429.07,362.1 428.95,361.26 429.12,360.44 C429.3,359.63 429.82,358.62 430.49,357.77 C431.17,356.93 432.18,356.02 433.18,355.38 C434.17,354.73 435.41,354.17 436.46,353.9 C437.5,353.62 438.64,353.56 439.45,353.73 C440.27,353.91 440.99,354.36 441.36,354.93 Z" fill="none" fill-opacity="1.0" stroke="#3a3f42" stroke-width="0.5"/>
<path d="M440.44,355.52 C440.76,356.01 440.86,356.72 440.71,357.41 C440.56,358.1 440.12,358.96 439.55,359.67 C438.98,360.38 438.12,361.15 437.28,361.7 C436.44,362.24 435.39,362.71 434.51,362.95 C433.62,363.18 432.66,363.23 431.97,363.08 C431.28,362.94 430.67,362.56 430.36,362.08 C430.04,361.59 429.94,360.88 430.09,360.19 C430.24,359.5 430.68,358.64 431.25,357.93 C431.82,357.22 432.68,356.45 433.52,355.9 C434.36,355.36 435.41,354.89 436.29,354.65 C437.18,354.42 438.14,354.37 438.83,354.52 C439.52,354.66 440.13,355.04 440.44,355.52 Z" fill="none" fill-opacity="1.0" stroke="#3a3f42" stroke-width="0.5"/>
<path d="M439.52,356.12 C439.78,356.52 439.86,357.1 439.74,357.66 C439.62,358.23 439.26,358.93 438.79,359.51 C438.33,360.1 437.62,360.72 436.94,361.17 C436.25,361.61 435.39,362 434.67,362.19 C433.95,362.38 433.16,362.42 432.6,362.3 C432.03,362.18 431.53,361.87 431.28,361.48 C431.02,361.08 430.94,360.5 431.06,359.94 C431.18,359.37 431.54,358.67 432.01,358.09 C432.47,357.5 433.18,356.88 433.86,356.43 C434.55,355.99 435.41,355.6 436.13,355.41 C436.85,355.22 437.64,355.18 438.2,355.3 C438.77,355.42 439.27,355.73 439.52,356.12 Z" fill="none" fill-opacity="1.0" stroke="#3a3f42" stroke-width="0.5"/>
<path d="M438.6,356.72 C438.8,357.03 438.87,357.48 438.77,357.92 C438.68,358.36 438.4,358.9 438.04,359.35 C437.67,359.81 437.13,360.29 436.59,360.64 C436.06,360.99 435.39,361.29 434.83,361.43 C434.27,361.58 433.66,361.61 433.22,361.52 C432.78,361.43 432.4,361.19 432.2,360.88 C432,360.57 431.93,360.12 432.03,359.68 C432.12,359.24 432.4,358.7 432.76,358.25 C433.13,357.79 433.67,357.31 434.21,356.96 C434.74,356.61 435.41,356.31 435.97,356.17 C436.53,356.02 437.14,355.99 437.58,356.08 C438.02,356.17 438.4,356.41 438.6,356.72 Z" fill="none" fill-opacity="1.0" stroke="#3a3f42" stroke-width="0.5"/>
<path d="M437.68,357.32 C437.83,357.54 437.87,357.86 437.8,358.17 C437.74,358.48 437.54,358.87 437.28,359.19 C437.02,359.52 436.63,359.86 436.25,360.11 C435.87,360.36 435.4,360.57 435,360.68 C434.59,360.78 434.16,360.81 433.85,360.74 C433.53,360.67 433.26,360.5 433.12,360.28 C432.97,360.06 432.93,359.74 433,359.43 C433.06,359.12 433.26,358.73 433.52,358.41 C433.78,358.08 434.17,357.74 434.55,357.49 C434.93,357.24 435.4,357.03 435.8,356.92 C436.21,356.82 436.64,356.79 436.95,356.86 C437.27,356.93 437.54,357.1 437.68,357.32 Z" fill="none" fill-opacity="1.0" stroke="#3a3f42" stroke-width="0.5"/>
<path d="M436.76,357.91 C436.85,358.04 436.88,358.24 436.84,358.42 C436.8,358.61 436.68,358.84 436.52,359.04 C436.37,359.23 436.14,359.44 435.91,359.58 C435.68,359.73 435.4,359.86 435.16,359.92 C434.92,359.98 434.66,360 434.47,359.96 C434.29,359.92 434.12,359.82 434.04,359.69 C433.95,359.56 433.92,359.36 433.96,359.18 C434,358.99 434.12,358.76 434.28,358.56 C434.43,358.37 434.66,358.16 434.89,358.02 C435.12,357.87 435.4,357.74 435.64,357.68 C435.88,357.62 436.14,357.6 436.33,357.64 C436.51,357.68 436.68,357.78 436.76,357.91 Z" fill="none" fill-opacity="1.0" stroke="#3a3f42" stroke-width="0.5"/>
<path d="M466.89,351.99 C467.25,352.77 467.32,353.83 467.06,354.77 C466.81,355.72 466.16,356.82 465.35,357.68 C464.54,358.53 463.35,359.38 462.2,359.91 C461.05,360.45 459.64,360.82 458.46,360.89 C457.28,360.96 456.02,360.75 455.13,360.34 C454.24,359.93 453.48,359.2 453.11,358.41 C452.75,357.63 452.68,356.57 452.94,355.63 C453.19,354.68 453.84,353.58 454.65,352.72 C455.46,351.87 456.65,351.02 457.8,350.49 C458.95,349.95 460.36,349.58 461.54,349.51 C462.72,349.44 463.98,349.65 464.87,350.06 C465.76,350.47 466.52,351.2 466.89,351.99 Z" fill="none" fill-opacity="1.0" stroke="#333" stroke-width="0.45"/>
<path d="M466.41,352.21 C466.75,352.94 466.81,353.92 466.57,354.8 C466.33,355.69 465.73,356.71 464.97,357.5 C464.22,358.3 463.11,359.09 462.04,359.58 C460.98,360.08 459.66,360.42 458.57,360.49 C457.47,360.56 456.3,360.36 455.47,359.98 C454.65,359.59 453.93,358.92 453.59,358.19 C453.25,357.46 453.19,356.48 453.43,355.6 C453.67,354.71 454.27,353.69 455.03,352.9 C455.78,352.1 456.89,351.31 457.96,350.82 C459.02,350.32 460.34,349.98 461.43,349.91 C462.53,349.84 463.7,350.04 464.53,350.42 C465.35,350.81 466.07,351.48 466.41,352.21 Z" fill="none" fill-opacity="1.0" stroke="#333" stroke-width="0.45"/>
<path d="M465.92,352.44 C466.24,353.11 466.3,354.02 466.07,354.83 C465.85,355.65 465.3,356.59 464.6,357.33 C463.9,358.07 462.88,358.79 461.89,359.25 C460.9,359.71 459.69,360.03 458.67,360.09 C457.66,360.15 456.58,359.97 455.81,359.62 C455.05,359.26 454.39,358.64 454.08,357.96 C453.76,357.29 453.7,356.38 453.93,355.57 C454.15,354.75 454.7,353.81 455.4,353.07 C456.1,352.33 457.12,351.61 458.11,351.15 C459.1,350.69 460.31,350.37 461.33,350.31 C462.34,350.25 463.42,350.43 464.19,350.78 C464.95,351.14 465.61,351.76 465.92,352.44 Z" fill="none" fill-opacity="1.0" stroke="#333" stroke-width="0.45"/>
<path d="M464.27,353.21 C464.5,353.7 464.54,354.35 464.38,354.94 C464.22,355.52 463.82,356.2 463.32,356.74 C462.81,357.27 462.07,357.79 461.36,358.12 C460.65,358.45 459.77,358.68 459.04,358.73 C458.31,358.77 457.53,358.64 456.98,358.39 C456.43,358.13 455.96,357.68 455.73,357.19 C455.5,356.7 455.46,356.05 455.62,355.46 C455.78,354.88 456.18,354.2 456.68,353.66 C457.19,353.13 457.93,352.61 458.64,352.28 C459.35,351.95 460.23,351.72 460.96,351.67 C461.69,351.63 462.47,351.76 463.02,352.01 C463.57,352.27 464.04,352.72 464.27,353.21 Z" fill="none" fill-opacity="1.0" stroke="#999" stroke-width="0.45"/>
<path d="M463.1,353.75 C463.27,354.11 463.3,354.58 463.18,355.01 C463.07,355.44 462.77,355.93 462.41,356.31 C462.04,356.7 461.51,357.08 460.99,357.32 C460.47,357.56 459.84,357.73 459.31,357.76 C458.78,357.79 458.21,357.7 457.81,357.51 C457.41,357.33 457.06,357 456.9,356.65 C456.73,356.29 456.7,355.82 456.82,355.39 C456.93,354.96 457.23,354.47 457.59,354.09 C457.96,353.7 458.49,353.32 459.01,353.08 C459.53,352.84 460.16,352.67 460.69,352.64 C461.22,352.61 461.79,352.7 462.19,352.89 C462.59,353.07 462.94,353.4 463.1,353.75 Z" fill="none" fill-opacity="1.0" stroke="#999" stroke-width="0.45"/>
<path d="M447,351 C450,350 452,351 453,352 M447,359 C450,360 452,359 454,358" fill="none" stroke="#aaa" stroke-width="0.45"/>
<path d="M62,444 C60.67,442.33 61,435.67 61,432 C61,428.33 61.25,424.5 62,422 C62.75,419.5 63.67,418.25 65.5,417 C67.33,415.75 70.25,415 73,414.5 C75.75,414 79.58,413.75 82,414 C84.42,414.25 86.33,414.83 87.5,416 C88.67,417.17 89.08,419.33 89,421 C88.92,422.67 88.33,424.67 87,426 C85.67,427.33 83,428.33 81,429 C79,429.67 76.67,429.5 75,430 C73.33,430.5 71.83,430.67 71,432 C70.17,433.33 70.33,436.33 70,438 C69.67,439.67 70.33,441 69,442 C67.67,443 63.33,445.67 62,444 Z" fill="none" fill-opacity="1.0" stroke="#6a7074" stroke-width="0.5"/>
<path d="M62.84,442.59 C61.59,441.02 61.9,434.76 61.9,431.31 C61.9,427.86 62.14,424.26 62.84,421.91 C63.55,419.56 64.41,418.38 66.13,417.21 C67.85,416.03 70.59,415.33 73.18,414.86 C75.77,414.39 79.37,414.15 81.64,414.39 C83.91,414.62 85.71,415.17 86.81,416.27 C87.91,417.37 88.3,419.4 88.22,420.97 C88.14,422.54 87.59,424.42 86.34,425.67 C85.09,426.92 82.58,427.86 80.7,428.49 C78.82,429.12 76.63,428.96 75.06,429.43 C73.49,429.9 72.08,430.06 71.3,431.31 C70.52,432.56 70.67,435.38 70.36,436.95 C70.05,438.52 70.67,439.77 69.42,440.71 C68.17,441.65 64.09,444.16 62.84,442.59 Z" fill="none" fill-opacity="1.0" stroke="#6a7074" stroke-width="0.5"/>
<path d="M65.2,438.63 C64.17,437.35 64.43,432.2 64.43,429.37 C64.43,426.54 64.62,423.59 65.2,421.66 C65.78,419.73 66.48,418.76 67.9,417.8 C69.31,416.84 71.56,416.26 73.69,415.87 C75.81,415.49 78.76,415.29 80.63,415.49 C82.49,415.68 83.97,416.13 84.87,417.03 C85.77,417.93 86.09,419.6 86.03,420.89 C85.97,422.17 85.52,423.71 84.49,424.74 C83.46,425.77 81.4,426.54 79.86,427.06 C78.31,427.57 76.51,427.44 75.23,427.83 C73.94,428.22 72.79,428.34 72.14,429.37 C71.5,430.4 71.63,432.72 71.37,434 C71.11,435.29 71.63,436.32 70.6,437.09 C69.57,437.86 66.23,439.92 65.2,438.63 Z" fill="none" fill-opacity="1.0" stroke="#7a8185" stroke-width="0.5"/>
<path d="M66.72,436.08 C65.83,434.98 66.05,430.56 66.05,428.13 C66.05,425.69 66.22,423.15 66.72,421.49 C67.21,419.84 67.82,419.01 69.04,418.18 C70.25,417.35 72.19,416.85 74.01,416.52 C75.83,416.19 78.38,416.02 79.98,416.19 C81.58,416.36 82.85,416.74 83.63,417.52 C84.4,418.29 84.68,419.73 84.62,420.83 C84.56,421.94 84.18,423.26 83.29,424.15 C82.41,425.03 80.64,425.69 79.32,426.14 C77.99,426.58 76.44,426.47 75.34,426.8 C74.23,427.13 73.24,427.24 72.68,428.13 C72.13,429.01 72.24,431 72.02,432.1 C71.8,433.21 72.24,434.09 71.36,434.76 C70.47,435.42 67.6,437.19 66.72,436.08 Z" fill="none" fill-opacity="1.0" stroke="#7a8185" stroke-width="0.5"/>
<path d="M68.24,433.53 C67.5,432.61 67.68,428.91 67.68,426.88 C67.68,424.84 67.82,422.72 68.24,421.33 C68.65,419.95 69.16,419.25 70.18,418.56 C71.19,417.87 72.81,417.45 74.34,417.17 C75.86,416.9 77.99,416.76 79.33,416.9 C80.67,417.03 81.73,417.36 82.38,418 C83.03,418.65 83.26,419.85 83.21,420.78 C83.16,421.7 82.84,422.81 82.1,423.55 C81.36,424.29 79.88,424.84 78.77,425.21 C77.66,425.58 76.37,425.49 75.45,425.77 C74.52,426.05 73.69,426.14 73.23,426.88 C72.76,427.62 72.86,429.28 72.67,430.21 C72.49,431.13 72.86,431.87 72.12,432.42 C71.38,432.98 68.97,434.46 68.24,433.53 Z" fill="none" fill-opacity="1.0" stroke="#7a8185" stroke-width="0.5"/>
<path d="M69.75,430.98 C69.16,430.24 69.31,427.27 69.31,425.63 C69.31,423.99 69.42,422.28 69.75,421.17 C70.09,420.05 70.5,419.5 71.32,418.94 C72.13,418.38 73.43,418.05 74.66,417.82 C75.89,417.6 77.6,417.49 78.68,417.6 C79.76,417.71 80.61,417.97 81.13,418.49 C81.65,419.01 81.84,419.98 81.8,420.72 C81.76,421.47 81.5,422.36 80.91,422.95 C80.31,423.55 79.12,423.99 78.23,424.29 C77.34,424.59 76.3,424.52 75.55,424.74 C74.81,424.96 74.14,425.04 73.77,425.63 C73.4,426.23 73.47,427.56 73.32,428.31 C73.17,429.05 73.47,429.65 72.88,430.09 C72.28,430.54 70.35,431.73 69.75,430.98 Z" fill="none" fill-opacity="1.0" stroke="#7a8185" stroke-width="0.5"/>
<path d="M71.27,428.44 C70.82,427.87 70.93,425.62 70.93,424.38 C70.93,423.15 71.02,421.85 71.27,421.01 C71.53,420.16 71.84,419.74 72.45,419.32 C73.07,418.9 74.06,418.64 74.99,418.47 C75.92,418.31 77.21,418.22 78.03,418.31 C78.84,418.39 79.49,418.59 79.88,418.98 C80.28,419.37 80.42,420.11 80.39,420.67 C80.36,421.23 80.16,421.91 79.71,422.36 C79.26,422.81 78.36,423.15 77.69,423.37 C77.01,423.6 76.23,423.54 75.66,423.71 C75.1,423.88 74.59,423.93 74.31,424.38 C74.03,424.83 74.09,425.85 73.97,426.41 C73.86,426.97 74.09,427.42 73.64,427.76 C73.19,428.1 71.72,429 71.27,428.44 Z" fill="none" fill-opacity="1.0" stroke="#7a8185" stroke-width="0.5"/>
<path d="M72.79,425.89 C72.49,425.5 72.56,423.98 72.56,423.14 C72.56,422.3 72.62,421.42 72.79,420.84 C72.96,420.27 73.17,419.98 73.59,419.7 C74.01,419.41 74.68,419.24 75.31,419.12 C75.94,419.01 76.82,418.95 77.38,419.01 C77.93,419.07 78.37,419.2 78.64,419.47 C78.9,419.74 79,420.23 78.98,420.61 C78.96,421 78.83,421.46 78.52,421.76 C78.22,422.07 77.6,422.3 77.15,422.45 C76.69,422.6 76.15,422.56 75.77,422.68 C75.39,422.79 75.04,422.83 74.85,423.14 C74.66,423.44 74.7,424.13 74.62,424.51 C74.55,424.89 74.7,425.2 74.4,425.43 C74.09,425.66 73.1,426.27 72.79,425.89 Z" fill="none" fill-opacity="1.0" stroke="#7a8185" stroke-width="0.5"/>
<path d="M74.31,423.34 C74.15,423.14 74.19,422.33 74.19,421.89 C74.19,421.45 74.22,420.98 74.31,420.68 C74.4,420.38 74.51,420.23 74.73,420.08 C74.95,419.93 75.31,419.84 75.64,419.78 C75.97,419.72 76.43,419.68 76.72,419.72 C77.02,419.75 77.25,419.82 77.39,419.96 C77.53,420.1 77.58,420.36 77.57,420.56 C77.56,420.76 77.49,421 77.33,421.16 C77.17,421.33 76.85,421.45 76.6,421.53 C76.36,421.61 76.08,421.59 75.88,421.65 C75.68,421.71 75.5,421.73 75.4,421.89 C75.3,422.05 75.32,422.41 75.28,422.61 C75.24,422.81 75.32,422.98 75.15,423.1 C74.99,423.22 74.47,423.54 74.31,423.34 Z" fill="none" fill-opacity="1.0" stroke="#7a8185" stroke-width="0.5"/>
<path d="M61.9,432 C62,430.5 61.85,425.35 62.5,423 C63.15,420.65 64.13,419.13 65.8,417.9 C67.47,416.67 69.88,416.08 72.5,415.6 C75.12,415.12 79.15,414.83 81.5,415 C83.85,415.17 85.75,416.33 86.6,416.6" fill="none" stroke="#4a5154" stroke-width="1.5" stroke-linecap="round"/>
<path d="M70.82,445.85 C71.37,446.8 71.68,448.07 71.62,449.2 C71.57,450.33 71.16,451.62 70.52,452.62 C69.88,453.63 68.85,454.61 67.8,455.22 C66.75,455.82 65.38,456.22 64.2,456.27 C63.01,456.33 61.68,456.04 60.67,455.52 C59.67,455 58.73,454.1 58.18,453.15 C57.63,452.2 57.32,450.93 57.38,449.8 C57.43,448.67 57.84,447.38 58.48,446.38 C59.12,445.37 60.15,444.39 61.2,443.78 C62.25,443.18 63.62,442.78 64.8,442.73 C65.99,442.67 67.32,442.96 68.32,443.48 C69.33,444 70.27,444.9 70.82,445.85 Z" fill="none" fill-opacity="1.0" stroke="#111" stroke-width="0.6"/>
<path d="M70.44,446.07 C70.96,446.96 71.24,448.15 71.2,449.22 C71.15,450.28 70.76,451.49 70.16,452.44 C69.56,453.38 68.59,454.3 67.6,454.87 C66.61,455.44 65.33,455.82 64.22,455.87 C63.1,455.92 61.85,455.65 60.9,455.16 C59.96,454.67 59.07,453.83 58.56,452.93 C58.04,452.04 57.76,450.85 57.8,449.78 C57.85,448.72 58.24,447.51 58.84,446.56 C59.44,445.62 60.41,444.7 61.4,444.13 C62.39,443.56 63.67,443.18 64.78,443.13 C65.9,443.08 67.15,443.35 68.1,443.84 C69.04,444.33 69.93,445.17 70.44,446.07 Z" fill="none" fill-opacity="1.0" stroke="#111" stroke-width="0.6"/>
<path d="M70.06,446.29 C70.55,447.13 70.81,448.24 70.77,449.23 C70.73,450.23 70.36,451.37 69.8,452.25 C69.24,453.13 68.33,453.99 67.4,454.53 C66.48,455.07 65.28,455.42 64.23,455.46 C63.19,455.51 62.02,455.25 61.13,454.8 C60.25,454.34 59.42,453.55 58.94,452.71 C58.45,451.87 58.19,450.76 58.23,449.77 C58.27,448.77 58.64,447.63 59.2,446.75 C59.76,445.87 60.67,445.01 61.6,444.47 C62.52,443.93 63.72,443.58 64.77,443.54 C65.81,443.49 66.98,443.75 67.87,444.2 C68.75,444.66 69.58,445.45 70.06,446.29 Z" fill="none" fill-opacity="1.0" stroke="#111" stroke-width="0.6"/>
<path d="M69.68,446.51 C70.14,447.29 70.38,448.33 70.34,449.25 C70.3,450.18 69.96,451.24 69.44,452.06 C68.91,452.89 68.07,453.69 67.21,454.19 C66.34,454.69 65.23,455.01 64.25,455.06 C63.28,455.1 62.19,454.86 61.36,454.44 C60.54,454.01 59.77,453.27 59.32,452.49 C58.86,451.71 58.62,450.67 58.66,449.75 C58.7,448.82 59.04,447.76 59.56,446.94 C60.09,446.11 60.93,445.31 61.79,444.81 C62.66,444.31 63.77,443.99 64.75,443.94 C65.72,443.9 66.81,444.14 67.64,444.56 C68.46,444.99 69.23,445.73 69.68,446.51 Z" fill="none" fill-opacity="1.0" stroke="#111" stroke-width="0.6"/>
<path d="M69.3,446.73 C69.72,447.45 69.95,448.41 69.91,449.27 C69.88,450.13 69.56,451.11 69.07,451.88 C68.59,452.64 67.81,453.38 67.01,453.84 C66.21,454.31 65.17,454.61 64.27,454.65 C63.37,454.69 62.36,454.47 61.59,454.07 C60.83,453.68 60.11,453 59.7,452.27 C59.28,451.55 59.05,450.59 59.09,449.73 C59.12,448.87 59.44,447.89 59.93,447.12 C60.41,446.36 61.19,445.62 61.99,445.16 C62.79,444.69 63.83,444.39 64.73,444.35 C65.63,444.31 66.64,444.53 67.41,444.93 C68.17,445.32 68.89,446 69.3,446.73 Z" fill="none" fill-opacity="1.0" stroke="#111" stroke-width="0.6"/>
<path d="M68.93,446.94 C69.31,447.61 69.52,448.5 69.49,449.29 C69.45,450.08 69.16,450.99 68.71,451.69 C68.27,452.39 67.55,453.08 66.81,453.5 C66.07,453.93 65.12,454.21 64.29,454.24 C63.46,454.28 62.52,454.08 61.82,453.71 C61.12,453.35 60.46,452.72 60.07,452.06 C59.69,451.39 59.48,450.5 59.51,449.71 C59.55,448.92 59.84,448.01 60.29,447.31 C60.73,446.61 61.45,445.92 62.19,445.5 C62.93,445.07 63.88,444.79 64.71,444.76 C65.54,444.72 66.48,444.92 67.18,445.29 C67.88,445.65 68.54,446.28 68.93,446.94 Z" fill="none" fill-opacity="1.0" stroke="#111" stroke-width="0.6"/>
<path d="M67.85,447.57 C68.14,448.07 68.3,448.74 68.28,449.34 C68.25,449.94 68.03,450.62 67.69,451.16 C67.35,451.69 66.81,452.21 66.25,452.53 C65.69,452.85 64.97,453.06 64.34,453.09 C63.71,453.12 63,452.97 62.47,452.69 C61.94,452.41 61.44,451.94 61.15,451.43 C60.86,450.93 60.7,450.26 60.72,449.66 C60.75,449.06 60.97,448.38 61.31,447.84 C61.65,447.31 62.19,446.79 62.75,446.47 C63.31,446.15 64.03,445.94 64.66,445.91 C65.29,445.88 66,446.03 66.53,446.31 C67.06,446.59 67.56,447.06 67.85,447.57 Z" fill="none" fill-opacity="1.0" stroke="#555" stroke-width="0.45"/>
<path d="M67.16,447.97 C67.39,448.37 67.52,448.9 67.49,449.37 C67.47,449.85 67.3,450.39 67.03,450.81 C66.76,451.23 66.33,451.65 65.89,451.9 C65.44,452.16 64.87,452.33 64.37,452.35 C63.87,452.37 63.31,452.25 62.89,452.03 C62.47,451.81 62.07,451.43 61.84,451.03 C61.61,450.63 61.48,450.1 61.51,449.63 C61.53,449.15 61.7,448.61 61.97,448.19 C62.24,447.77 62.67,447.35 63.11,447.1 C63.56,446.84 64.13,446.67 64.63,446.65 C65.13,446.63 65.69,446.75 66.11,446.97 C66.53,447.19 66.93,447.57 67.16,447.97 Z" fill="none" fill-opacity="1.0" stroke="#555" stroke-width="0.45"/>
<path d="M66.46,448.37 C66.63,448.66 66.73,449.06 66.71,449.41 C66.7,449.76 66.57,450.16 66.37,450.47 C66.17,450.78 65.85,451.08 65.52,451.27 C65.2,451.46 64.77,451.59 64.41,451.6 C64.04,451.62 63.62,451.53 63.31,451.37 C63,451.21 62.71,450.93 62.54,450.63 C62.37,450.34 62.27,449.94 62.29,449.59 C62.3,449.24 62.43,448.84 62.63,448.53 C62.83,448.22 63.15,447.92 63.48,447.73 C63.8,447.54 64.23,447.41 64.59,447.4 C64.96,447.38 65.38,447.47 65.69,447.63 C66,447.79 66.29,448.07 66.46,448.37 Z" fill="none" fill-opacity="1.0" stroke="#555" stroke-width="0.45"/>
<path d="M65.77,448.77 C65.88,448.96 65.94,449.21 65.93,449.44 C65.92,449.67 65.83,449.93 65.71,450.13 C65.58,450.33 65.37,450.52 65.16,450.65 C64.95,450.77 64.68,450.85 64.44,450.86 C64.2,450.87 63.93,450.81 63.73,450.71 C63.53,450.6 63.34,450.42 63.23,450.23 C63.12,450.04 63.06,449.79 63.07,449.56 C63.08,449.33 63.17,449.07 63.29,448.87 C63.42,448.67 63.63,448.48 63.84,448.35 C64.05,448.23 64.32,448.15 64.56,448.14 C64.8,448.13 65.07,448.19 65.27,448.29 C65.47,448.4 65.66,448.58 65.77,448.77 Z" fill="none" fill-opacity="1.0" stroke="#555" stroke-width="0.45"/>
<path d="M93.14,442.45 C93.45,443.31 93.52,444.39 93.32,445.31 C93.13,446.22 92.61,447.22 91.95,447.95 C91.29,448.68 90.32,449.33 89.38,449.67 C88.44,450.01 87.28,450.14 86.31,450 C85.34,449.87 84.3,449.44 83.56,448.86 C82.82,448.29 82.18,447.41 81.86,446.55 C81.55,445.69 81.48,444.61 81.68,443.69 C81.87,442.78 82.39,441.78 83.05,441.05 C83.71,440.32 84.68,439.67 85.62,439.33 C86.56,438.99 87.72,438.86 88.69,439 C89.66,439.13 90.7,439.56 91.44,440.14 C92.18,440.71 92.82,441.59 93.14,442.45 Z" fill="none" fill-opacity="1.0" stroke="#8a8f92" stroke-width="0.45"/>
<path d="M92.69,442.61 C92.98,443.4 93.04,444.4 92.86,445.24 C92.68,446.09 92.2,447.01 91.59,447.67 C90.99,448.34 90.1,448.94 89.23,449.25 C88.37,449.57 87.3,449.69 86.41,449.56 C85.51,449.44 84.56,449.04 83.87,448.51 C83.19,447.98 82.6,447.18 82.31,446.39 C82.02,445.6 81.96,444.6 82.14,443.76 C82.32,442.91 82.8,441.99 83.41,441.33 C84.01,440.66 84.9,440.06 85.77,439.75 C86.63,439.43 87.7,439.31 88.59,439.44 C89.49,439.56 90.44,439.96 91.13,440.49 C91.81,441.02 92.4,441.82 92.69,442.61 Z" fill="none" fill-opacity="1.0" stroke="#8a8f92" stroke-width="0.45"/>
<path d="M91.48,443.05 C91.7,443.66 91.75,444.42 91.61,445.07 C91.47,445.72 91.1,446.42 90.64,446.93 C90.17,447.45 89.49,447.9 88.83,448.14 C88.16,448.39 87.35,448.47 86.66,448.38 C85.98,448.28 85.24,447.98 84.72,447.58 C84.2,447.17 83.75,446.55 83.52,445.95 C83.3,445.34 83.25,444.58 83.39,443.93 C83.53,443.28 83.9,442.58 84.36,442.07 C84.83,441.55 85.51,441.1 86.17,440.86 C86.84,440.61 87.65,440.53 88.34,440.62 C89.02,440.72 89.76,441.02 90.28,441.42 C90.8,441.83 91.25,442.45 91.48,443.05 Z" fill="none" fill-opacity="1.0" stroke="#9a9ea0" stroke-width="0.45"/>
<path d="M90.72,443.33 C90.89,443.82 90.93,444.44 90.82,444.96 C90.71,445.48 90.41,446.05 90.04,446.47 C89.66,446.88 89.11,447.25 88.57,447.45 C88.04,447.64 87.37,447.71 86.82,447.64 C86.27,447.56 85.67,447.32 85.25,446.99 C84.83,446.66 84.46,446.16 84.28,445.67 C84.11,445.18 84.07,444.56 84.18,444.04 C84.29,443.52 84.59,442.95 84.96,442.53 C85.34,442.12 85.89,441.75 86.43,441.55 C86.96,441.36 87.63,441.29 88.18,441.36 C88.73,441.44 89.33,441.68 89.75,442.01 C90.17,442.34 90.54,442.84 90.72,443.33 Z" fill="none" fill-opacity="1.0" stroke="#9a9ea0" stroke-width="0.45"/>
<path d="M89.95,443.61 C90.09,443.98 90.12,444.45 90.04,444.85 C89.95,445.25 89.72,445.69 89.44,446 C89.15,446.32 88.73,446.6 88.32,446.75 C87.91,446.9 87.4,446.95 86.98,446.9 C86.56,446.84 86.11,446.65 85.78,446.4 C85.46,446.15 85.18,445.77 85.05,445.39 C84.91,445.02 84.88,444.55 84.96,444.15 C85.05,443.75 85.28,443.31 85.56,443 C85.85,442.68 86.27,442.4 86.68,442.25 C87.09,442.1 87.6,442.05 88.02,442.1 C88.44,442.16 88.89,442.35 89.22,442.6 C89.54,442.85 89.82,443.23 89.95,443.61 Z" fill="none" fill-opacity="1.0" stroke="#9a9ea0" stroke-width="0.45"/>
<path d="M89.19,443.88 C89.29,444.14 89.31,444.47 89.25,444.74 C89.19,445.02 89.03,445.32 88.84,445.54 C88.64,445.76 88.35,445.95 88.07,446.05 C87.78,446.16 87.43,446.19 87.14,446.15 C86.85,446.11 86.54,445.98 86.32,445.81 C86.09,445.64 85.9,445.38 85.81,445.12 C85.71,444.86 85.69,444.53 85.75,444.26 C85.81,443.98 85.97,443.68 86.16,443.46 C86.36,443.24 86.65,443.05 86.93,442.95 C87.22,442.84 87.57,442.81 87.86,442.85 C88.15,442.89 88.46,443.02 88.68,443.19 C88.91,443.36 89.1,443.62 89.19,443.88 Z" fill="none" fill-opacity="1.0" stroke="#9a9ea0" stroke-width="0.45"/>
<path d="M157.5,437 C156.5,435.42 156.08,431.5 156,429 C155.92,426.5 156.17,424 157,422 C157.83,420 159.17,418.17 161,417 C162.83,415.83 165.5,415.25 168,415 C170.5,414.75 173.67,415 176,415.5 C178.33,416 180.67,416.75 182,418 C183.33,419.25 183.8,421 184,423 C184.2,425 183.78,428 183.2,430 C182.62,432 182.03,433.87 180.5,435 C178.97,436.13 176.25,436.55 174,436.8 C171.75,437.05 169,436.22 167,436.5 C165,436.78 163.58,438.42 162,438.5 C160.42,438.58 158.5,438.58 157.5,437 Z" fill="none" fill-opacity="1.0" stroke="#6a7074" stroke-width="0.5"/>
<path d="M158.01,436.07 C157.07,434.58 156.68,430.9 156.6,428.55 C156.52,426.2 156.76,423.85 157.54,421.97 C158.32,420.09 159.58,418.37 161.3,417.27 C163.02,416.17 165.53,415.62 167.88,415.39 C170.23,415.15 173.21,415.39 175.4,415.86 C177.59,416.33 179.79,417.03 181.04,418.21 C182.29,419.38 182.73,421.03 182.92,422.91 C183.11,424.79 182.72,427.61 182.17,429.49 C181.62,431.37 181.07,433.12 179.63,434.19 C178.19,435.26 175.63,435.65 173.52,435.88 C171.4,436.12 168.82,435.33 166.94,435.6 C165.06,435.87 163.73,437.4 162.24,437.48 C160.75,437.56 158.95,437.56 158.01,436.07 Z" fill="none" fill-opacity="1.0" stroke="#6a7074" stroke-width="0.5"/>
<path d="M159.44,433.46 C158.67,432.24 158.35,429.22 158.28,427.29 C158.22,425.36 158.41,423.43 159.06,421.89 C159.7,420.34 160.73,418.93 162.14,418.03 C163.56,417.13 165.61,416.68 167.54,416.49 C169.47,416.29 171.92,416.49 173.72,416.87 C175.52,417.26 177.32,417.84 178.34,418.8 C179.37,419.76 179.73,421.11 179.89,422.66 C180.04,424.2 179.72,426.51 179.27,428.06 C178.82,429.6 178.37,431.04 177.19,431.92 C176,432.79 173.91,433.11 172.17,433.3 C170.44,433.5 168.31,432.85 166.77,433.07 C165.23,433.29 164.14,434.55 162.91,434.62 C161.69,434.68 160.21,434.68 159.44,433.46 Z" fill="none" fill-opacity="1.0" stroke="#7a8185" stroke-width="0.5"/>
<path d="M160.36,431.78 C159.7,430.73 159.42,428.13 159.37,426.47 C159.31,424.82 159.48,423.16 160.03,421.83 C160.58,420.51 161.47,419.29 162.68,418.52 C163.9,417.74 165.67,417.36 167.33,417.19 C168.98,417.02 171.08,417.19 172.63,417.52 C174.18,417.85 175.73,418.35 176.61,419.18 C177.49,420.01 177.8,421.17 177.94,422.49 C178.07,423.82 177.79,425.81 177.4,427.14 C177.02,428.46 176.63,429.7 175.61,430.45 C174.6,431.2 172.8,431.48 171.3,431.65 C169.81,431.81 167.99,431.26 166.66,431.45 C165.34,431.63 164.4,432.72 163.35,432.77 C162.3,432.83 161.03,432.83 160.36,431.78 Z" fill="none" fill-opacity="1.0" stroke="#7a8185" stroke-width="0.5"/>
<path d="M161.29,430.1 C160.73,429.22 160.5,427.05 160.45,425.66 C160.41,424.27 160.55,422.89 161.01,421.78 C161.47,420.67 162.21,419.65 163.23,419 C164.24,418.36 165.72,418.03 167.11,417.9 C168.5,417.76 170.25,417.9 171.55,418.17 C172.84,418.45 174.13,418.87 174.87,419.56 C175.61,420.25 175.87,421.22 175.98,422.33 C176.09,423.44 175.86,425.1 175.54,426.21 C175.22,427.32 174.89,428.36 174.04,428.99 C173.19,429.62 171.68,429.85 170.44,429.99 C169.19,430.12 167.66,429.66 166.55,429.82 C165.45,429.98 164.66,430.88 163.78,430.93 C162.9,430.97 161.84,430.97 161.29,430.1 Z" fill="none" fill-opacity="1.0" stroke="#7a8185" stroke-width="0.5"/>
<path d="M162.21,428.42 C161.76,427.71 161.58,425.96 161.54,424.85 C161.5,423.73 161.61,422.62 161.98,421.72 C162.36,420.83 162.95,420.01 163.77,419.49 C164.59,418.97 165.78,418.71 166.89,418.6 C168.01,418.49 169.42,418.6 170.46,418.82 C171.5,419.05 172.54,419.38 173.14,419.94 C173.73,420.5 173.94,421.28 174.03,422.17 C174.12,423.06 173.93,424.4 173.67,425.29 C173.41,426.18 173.15,427.02 172.47,427.52 C171.79,428.03 170.57,428.21 169.57,428.33 C168.57,428.44 167.34,428.07 166.45,428.19 C165.55,428.32 164.92,429.05 164.22,429.08 C163.51,429.12 162.65,429.12 162.21,428.42 Z" fill="none" fill-opacity="1.0" stroke="#7a8185" stroke-width="0.5"/>
<path d="M163.13,426.73 C162.79,426.2 162.65,424.88 162.62,424.03 C162.6,423.19 162.68,422.34 162.96,421.67 C163.24,420.99 163.69,420.37 164.31,419.98 C164.93,419.59 165.83,419.39 166.68,419.31 C167.52,419.22 168.59,419.31 169.38,419.47 C170.16,419.64 170.95,419.9 171.4,420.32 C171.85,420.74 172.01,421.33 172.08,422.01 C172.15,422.68 172.01,423.69 171.81,424.37 C171.61,425.05 171.41,425.68 170.9,426.06 C170.38,426.44 169.46,426.58 168.7,426.67 C167.94,426.75 167.01,426.47 166.34,426.57 C165.66,426.66 165.18,427.21 164.65,427.24 C164.11,427.27 163.47,427.27 163.13,426.73 Z" fill="none" fill-opacity="1.0" stroke="#7a8185" stroke-width="0.5"/>
<path d="M164.05,425.05 C163.82,424.69 163.73,423.79 163.71,423.22 C163.69,422.65 163.75,422.07 163.94,421.61 C164.13,421.16 164.43,420.74 164.85,420.47 C165.27,420.2 165.89,420.07 166.46,420.01 C167.03,419.95 167.76,420.01 168.29,420.12 C168.83,420.24 169.36,420.41 169.67,420.7 C169.97,420.98 170.08,421.39 170.13,421.84 C170.17,422.3 170.08,422.99 169.94,423.45 C169.81,423.91 169.68,424.33 169.32,424.59 C168.97,424.85 168.35,424.95 167.83,425.01 C167.32,425.06 166.69,424.87 166.23,424.94 C165.77,425 165.45,425.38 165.08,425.4 C164.72,425.42 164.28,425.42 164.05,425.05 Z" fill="none" fill-opacity="1.0" stroke="#7a8185" stroke-width="0.5"/>
<path d="M164.97,423.37 C164.85,423.18 164.8,422.71 164.79,422.41 C164.78,422.1 164.81,421.8 164.91,421.56 C165.01,421.32 165.17,421.1 165.4,420.96 C165.62,420.82 165.94,420.75 166.24,420.72 C166.54,420.68 166.93,420.72 167.21,420.78 C167.49,420.84 167.77,420.93 167.93,421.08 C168.09,421.23 168.15,421.44 168.17,421.68 C168.2,421.92 168.15,422.28 168.08,422.53 C168.01,422.77 167.94,422.99 167.75,423.13 C167.57,423.27 167.24,423.32 166.97,423.35 C166.69,423.38 166.36,423.28 166.12,423.31 C165.88,423.35 165.71,423.54 165.52,423.55 C165.33,423.56 165.09,423.56 164.97,423.37 Z" fill="none" fill-opacity="1.0" stroke="#7a8185" stroke-width="0.5"/>
<path d="M156.9,428 C157.03,427 156.95,423.68 157.7,422 C158.45,420.32 159.68,418.9 161.4,417.9 C163.12,416.9 165.57,416.23 168,416 C170.43,415.77 173.9,416.1 176,416.5 C178.1,416.9 179.83,418.08 180.6,418.4" fill="none" stroke="#50575a" stroke-width="1.4" stroke-linecap="round"/>
<path d="M164.39,442.19 C165.18,442.81 165.78,443.88 165.98,445.03 C166.18,446.18 166.03,447.72 165.59,449.1 C165.15,450.47 164.29,452.06 163.33,453.29 C162.36,454.53 161.03,455.74 159.8,456.5 C158.57,457.26 157.12,457.78 155.95,457.86 C154.79,457.95 153.6,457.62 152.81,457.01 C152.02,456.39 151.42,455.32 151.22,454.17 C151.02,453.02 151.17,451.48 151.61,450.1 C152.05,448.73 152.91,447.14 153.87,445.91 C154.84,444.67 156.17,443.46 157.4,442.7 C158.63,441.94 160.08,441.42 161.25,441.34 C162.41,441.25 163.6,441.58 164.39,442.19 Z" fill="none" fill-opacity="1.0" stroke="#111" stroke-width="0.6"/>
<path d="M164.01,442.67 C164.75,443.25 165.31,444.25 165.5,445.33 C165.68,446.4 165.55,447.84 165.13,449.13 C164.72,450.42 163.92,451.9 163.02,453.05 C162.12,454.21 160.87,455.34 159.72,456.05 C158.57,456.77 157.21,457.25 156.12,457.32 C155.04,457.4 153.93,457.1 153.19,456.53 C152.45,455.95 151.89,454.95 151.7,453.87 C151.52,452.8 151.65,451.36 152.07,450.07 C152.48,448.78 153.28,447.3 154.18,446.15 C155.08,444.99 156.33,443.86 157.48,443.15 C158.63,442.43 159.99,441.95 161.08,441.88 C162.16,441.8 163.27,442.1 164.01,442.67 Z" fill="none" fill-opacity="1.0" stroke="#111" stroke-width="0.6"/>
<path d="M163.63,443.16 C164.32,443.69 164.84,444.63 165.02,445.63 C165.19,446.63 165.06,447.96 164.68,449.16 C164.3,450.36 163.55,451.74 162.71,452.81 C161.87,453.89 160.71,454.94 159.64,455.61 C158.58,456.27 157.31,456.71 156.3,456.79 C155.28,456.86 154.25,456.58 153.57,456.04 C152.88,455.51 152.36,454.57 152.18,453.57 C152.01,452.57 152.14,451.24 152.52,450.04 C152.9,448.84 153.65,447.46 154.49,446.39 C155.33,445.31 156.49,444.26 157.56,443.59 C158.62,442.93 159.89,442.49 160.9,442.41 C161.92,442.34 162.95,442.62 163.63,443.16 Z" fill="none" fill-opacity="1.0" stroke="#111" stroke-width="0.6"/>
<path d="M163.26,443.64 C163.89,444.13 164.38,445 164.54,445.92 C164.7,446.85 164.58,448.09 164.23,449.19 C163.87,450.3 163.18,451.58 162.41,452.57 C161.63,453.57 160.56,454.54 159.57,455.16 C158.58,455.77 157.41,456.18 156.47,456.25 C155.53,456.32 154.58,456.06 153.94,455.56 C153.31,455.07 152.82,454.2 152.66,453.28 C152.5,452.35 152.62,451.11 152.97,450.01 C153.33,448.9 154.02,447.62 154.79,446.63 C155.57,445.63 156.64,444.66 157.63,444.04 C158.62,443.43 159.79,443.02 160.73,442.95 C161.67,442.88 162.62,443.14 163.26,443.64 Z" fill="none" fill-opacity="1.0" stroke="#111" stroke-width="0.6"/>
<path d="M162.88,444.12 C163.47,444.57 163.91,445.37 164.06,446.22 C164.21,447.07 164.1,448.21 163.77,449.23 C163.44,450.25 162.81,451.42 162.1,452.33 C161.39,453.25 160.4,454.14 159.49,454.71 C158.58,455.27 157.5,455.65 156.64,455.71 C155.78,455.78 154.9,455.54 154.32,455.08 C153.73,454.63 153.29,453.83 153.14,452.98 C152.99,452.13 153.1,450.99 153.43,449.97 C153.76,448.95 154.39,447.78 155.1,446.87 C155.81,445.95 156.8,445.06 157.71,444.49 C158.62,443.93 159.7,443.55 160.56,443.49 C161.42,443.42 162.3,443.66 162.88,444.12 Z" fill="none" fill-opacity="1.0" stroke="#111" stroke-width="0.6"/>
<path d="M161.93,445.33 C162.39,445.69 162.73,446.31 162.85,446.97 C162.96,447.63 162.88,448.52 162.63,449.31 C162.37,450.1 161.88,451.02 161.32,451.73 C160.77,452.44 160,453.14 159.29,453.58 C158.58,454.02 157.75,454.31 157.07,454.36 C156.4,454.41 155.72,454.22 155.27,453.87 C154.81,453.51 154.47,452.89 154.35,452.23 C154.24,451.57 154.32,450.68 154.57,449.89 C154.83,449.1 155.32,448.18 155.88,447.47 C156.43,446.76 157.2,446.06 157.91,445.62 C158.62,445.18 159.45,444.89 160.13,444.84 C160.8,444.79 161.48,444.98 161.93,445.33 Z" fill="none" fill-opacity="1.0" stroke="#3a3f42" stroke-width="0.45"/>
<path d="M161.36,446.07 C161.74,446.36 162.02,446.87 162.12,447.42 C162.22,447.97 162.15,448.7 161.93,449.36 C161.72,450.02 161.32,450.77 160.86,451.36 C160.4,451.95 159.76,452.53 159.17,452.89 C158.59,453.26 157.89,453.5 157.34,453.54 C156.78,453.58 156.21,453.43 155.84,453.13 C155.46,452.84 155.18,452.33 155.08,451.78 C154.98,451.23 155.05,450.5 155.27,449.84 C155.48,449.18 155.88,448.43 156.34,447.84 C156.8,447.25 157.44,446.67 158.03,446.31 C158.61,445.94 159.31,445.7 159.86,445.66 C160.42,445.62 160.99,445.77 161.36,446.07 Z" fill="none" fill-opacity="1.0" stroke="#3a3f42" stroke-width="0.45"/>
<path d="M160.79,446.8 C161.09,447.03 161.31,447.44 161.39,447.87 C161.47,448.31 161.41,448.89 161.24,449.41 C161.08,449.93 160.75,450.53 160.39,451 C160.02,451.46 159.52,451.92 159.05,452.21 C158.59,452.5 158.04,452.69 157.6,452.73 C157.16,452.76 156.71,452.64 156.41,452.4 C156.11,452.17 155.89,451.76 155.81,451.33 C155.73,450.89 155.79,450.31 155.96,449.79 C156.12,449.27 156.45,448.67 156.81,448.2 C157.18,447.74 157.68,447.28 158.15,446.99 C158.61,446.7 159.16,446.51 159.6,446.47 C160.04,446.44 160.49,446.56 160.79,446.8 Z" fill="none" fill-opacity="1.0" stroke="#3a3f42" stroke-width="0.45"/>
<path d="M160.22,447.53 C160.44,447.7 160.6,448 160.66,448.32 C160.72,448.65 160.68,449.07 160.55,449.46 C160.43,449.84 160.19,450.29 159.92,450.63 C159.65,450.98 159.28,451.32 158.94,451.53 C158.59,451.74 158.19,451.88 157.86,451.91 C157.53,451.93 157.2,451.84 156.98,451.67 C156.76,451.5 156.6,451.2 156.54,450.88 C156.48,450.55 156.52,450.13 156.65,449.74 C156.77,449.36 157.01,448.91 157.28,448.57 C157.55,448.22 157.92,447.88 158.26,447.67 C158.61,447.46 159.01,447.32 159.34,447.29 C159.67,447.27 160,447.36 160.22,447.53 Z" fill="none" fill-opacity="1.0" stroke="#3a3f42" stroke-width="0.45"/>
<path d="M159.64,448.26 C159.79,448.37 159.9,448.57 159.93,448.78 C159.97,448.98 159.94,449.26 159.86,449.51 C159.78,449.76 159.63,450.04 159.45,450.27 C159.28,450.49 159.04,450.71 158.82,450.85 C158.59,450.98 158.33,451.08 158.12,451.09 C157.91,451.11 157.7,451.05 157.56,450.94 C157.41,450.83 157.3,450.63 157.27,450.42 C157.23,450.22 157.26,449.94 157.34,449.69 C157.42,449.44 157.57,449.16 157.75,448.93 C157.92,448.71 158.16,448.49 158.38,448.35 C158.61,448.22 158.87,448.12 159.08,448.11 C159.29,448.09 159.5,448.15 159.64,448.26 Z" fill="none" fill-opacity="1.0" stroke="#3a3f42" stroke-width="0.45"/>
<path d="M186,441.5 C186,442.33 185.75,443.28 185.33,444 C184.91,444.72 184.22,445.41 183.5,445.83 C182.78,446.25 181.83,446.5 181,446.5 C180.17,446.5 179.22,446.25 178.5,445.83 C177.78,445.41 177.09,444.72 176.67,444 C176.25,443.28 176,442.33 176,441.5 C176,440.67 176.25,439.72 176.67,439 C177.09,438.28 177.78,437.59 178.5,437.17 C179.22,436.75 180.17,436.5 181,436.5 C181.83,436.5 182.78,436.75 183.5,437.17 C184.22,437.59 184.91,438.28 185.33,439 C185.75,439.72 186,440.67 186,441.5 Z" fill="none" fill-opacity="1.0" stroke="#999" stroke-width="0.45"/>
<path d="M184.78,441.5 C184.78,442.13 184.58,442.84 184.27,443.39 C183.96,443.93 183.43,444.46 182.89,444.77 C182.34,445.08 181.63,445.28 181,445.28 C180.37,445.28 179.66,445.08 179.11,444.77 C178.57,444.46 178.04,443.93 177.73,443.39 C177.42,442.84 177.22,442.13 177.22,441.5 C177.22,440.87 177.42,440.16 177.73,439.61 C178.04,439.07 178.57,438.54 179.11,438.23 C179.66,437.92 180.37,437.72 181,437.72 C181.63,437.72 182.34,437.92 182.89,438.23 C183.43,438.54 183.96,439.07 184.27,439.61 C184.58,440.16 184.78,440.87 184.78,441.5 Z" fill="none" fill-opacity="1.0" stroke="#a0a0a0" stroke-width="0.45"/>
<path d="M183.85,441.5 C183.85,441.98 183.71,442.51 183.47,442.93 C183.23,443.34 182.84,443.73 182.43,443.97 C182.01,444.21 181.48,444.35 181,444.35 C180.52,444.35 179.99,444.21 179.57,443.97 C179.16,443.73 178.77,443.34 178.53,442.93 C178.29,442.51 178.15,441.98 178.15,441.5 C178.15,441.02 178.29,440.49 178.53,440.07 C178.77,439.66 179.16,439.27 179.57,439.03 C179.99,438.79 180.52,438.65 181,438.65 C181.48,438.65 182.01,438.79 182.43,439.03 C182.84,439.27 183.23,439.66 183.47,440.07 C183.71,440.49 183.85,441.02 183.85,441.5 Z" fill="none" fill-opacity="1.0" stroke="#a0a0a0" stroke-width="0.45"/>
<path d="M182.93,441.5 C182.93,441.82 182.83,442.19 182.67,442.46 C182.51,442.74 182.24,443.01 181.96,443.17 C181.69,443.33 181.32,443.43 181,443.43 C180.68,443.43 180.31,443.33 180.04,443.17 C179.76,443.01 179.49,442.74 179.33,442.46 C179.17,442.19 179.07,441.82 179.07,441.5 C179.07,441.18 179.17,440.81 179.33,440.54 C179.49,440.26 179.76,439.99 180.04,439.83 C180.31,439.67 180.68,439.57 181,439.57 C181.32,439.57 181.69,439.67 181.96,439.83 C182.24,439.99 182.51,440.26 182.67,440.54 C182.83,440.81 182.93,441.18 182.93,441.5 Z" fill="none" fill-opacity="1.0" stroke="#a0a0a0" stroke-width="0.45"/>
<path d="M182,441.5 C182,441.67 181.95,441.86 181.87,442 C181.79,442.15 181.65,442.29 181.5,442.37 C181.36,442.45 181.17,442.5 181,442.5 C180.83,442.5 180.64,442.45 180.5,442.37 C180.35,442.29 180.21,442.15 180.13,442 C180.05,441.86 180,441.67 180,441.5 C180,441.33 180.05,441.14 180.13,441 C180.21,440.85 180.35,440.71 180.5,440.63 C180.64,440.55 180.83,440.5 181,440.5 C181.17,440.5 181.36,440.55 181.5,440.63 C181.65,440.71 181.79,440.85 181.87,441 C181.95,441.14 182,441.33 182,441.5 Z" fill="none" fill-opacity="1.0" stroke="#a0a0a0" stroke-width="0.45"/>
<path d="M177,444 C176,446 176.5,448 178,449" fill="none" stroke="#aaa" stroke-width="0.45"/>
<path d="M270.13,421.65 C270.5,423.04 270.38,424.75 269.81,426.19 C269.25,427.62 268.09,429.17 266.74,430.27 C265.39,431.37 263.5,432.33 261.73,432.81 C259.95,433.28 257.83,433.4 256.12,433.12 C254.4,432.84 252.62,432.08 251.41,431.12 C250.2,430.16 249.25,428.73 248.87,427.35 C248.5,425.96 248.62,424.25 249.19,422.81 C249.75,421.38 250.91,419.83 252.26,418.73 C253.61,417.63 255.5,416.67 257.27,416.19 C259.05,415.72 261.17,415.6 262.88,415.88 C264.6,416.16 266.38,416.92 267.59,417.88 C268.8,418.84 269.75,420.27 270.13,421.65 Z" fill="none" fill-opacity="1.0" stroke="#80878b" stroke-width="0.45"/>
<path d="M266.98,422.22 C267.26,423.27 267.17,424.57 266.74,425.66 C266.31,426.76 265.43,427.93 264.4,428.77 C263.38,429.61 261.94,430.33 260.59,430.69 C259.25,431.06 257.63,431.14 256.33,430.93 C255.02,430.72 253.67,430.14 252.75,429.41 C251.83,428.68 251.11,427.6 250.82,426.54 C250.54,425.49 250.63,424.19 251.06,423.1 C251.49,422.01 252.37,420.83 253.4,419.99 C254.42,419.15 255.86,418.43 257.21,418.07 C258.55,417.7 260.17,417.62 261.47,417.83 C262.78,418.04 264.13,418.62 265.05,419.35 C265.97,420.08 266.7,421.16 266.98,422.22 Z" fill="none" fill-opacity="1.0" stroke="#80878b" stroke-width="0.45"/>
<path d="M264.62,422.64 C264.83,423.44 264.76,424.44 264.44,425.27 C264.11,426.1 263.44,427 262.65,427.64 C261.87,428.28 260.77,428.84 259.74,429.11 C258.71,429.39 257.48,429.45 256.49,429.29 C255.49,429.13 254.46,428.69 253.76,428.13 C253.06,427.57 252.5,426.75 252.28,425.94 C252.07,425.14 252.14,424.14 252.46,423.31 C252.79,422.48 253.47,421.58 254.25,420.94 C255.03,420.3 256.13,419.74 257.16,419.47 C258.19,419.19 259.42,419.13 260.42,419.29 C261.41,419.45 262.44,419.89 263.15,420.45 C263.85,421.01 264.4,421.83 264.62,422.64 Z" fill="none" fill-opacity="1.0" stroke="#80878b" stroke-width="0.45"/>
<path d="M262.26,423.06 C262.41,423.61 262.36,424.3 262.13,424.88 C261.91,425.45 261.44,426.07 260.9,426.51 C260.36,426.95 259.6,427.34 258.89,427.53 C258.18,427.72 257.33,427.76 256.65,427.65 C255.96,427.54 255.24,427.24 254.76,426.85 C254.28,426.47 253.89,425.9 253.75,425.34 C253.6,424.79 253.64,424.1 253.87,423.52 C254.1,422.95 254.56,422.33 255.1,421.89 C255.64,421.45 256.4,421.06 257.11,420.87 C257.82,420.68 258.67,420.64 259.36,420.75 C260.05,420.86 260.76,421.16 261.24,421.55 C261.72,421.93 262.11,422.51 262.26,423.06 Z" fill="none" fill-opacity="1.0" stroke="#80878b" stroke-width="0.45"/>
<path d="M259.9,423.48 C259.98,423.79 259.95,424.17 259.83,424.48 C259.7,424.8 259.45,425.14 259.15,425.38 C258.85,425.63 258.43,425.84 258.04,425.94 C257.65,426.05 257.18,426.07 256.8,426.01 C256.43,425.95 256.03,425.78 255.77,425.57 C255.5,425.36 255.29,425.04 255.21,424.74 C255.12,424.43 255.15,424.05 255.28,423.74 C255.4,423.42 255.66,423.08 255.95,422.84 C256.25,422.59 256.67,422.38 257.06,422.28 C257.45,422.17 257.92,422.15 258.3,422.21 C258.68,422.27 259.07,422.44 259.34,422.65 C259.6,422.86 259.82,423.18 259.9,423.48 Z" fill="none" fill-opacity="1.0" stroke="#80878b" stroke-width="0.45"/>
<path d="M252,430 C252,434 253,436 254,438" fill="none" stroke="#aaa" stroke-width="0.45"/>
<path d="M264.22,445.55 C264.73,446.96 264.69,448.79 264.12,450.38 C263.54,451.97 262.28,453.75 260.77,455.1 C259.27,456.45 257.11,457.72 255.08,458.46 C253.04,459.2 250.58,459.61 248.56,459.55 C246.54,459.48 244.42,458.93 242.96,458.08 C241.5,457.23 240.3,455.86 239.78,454.45 C239.27,453.04 239.31,451.21 239.88,449.62 C240.46,448.03 241.72,446.25 243.23,444.9 C244.73,443.55 246.89,442.28 248.92,441.54 C250.96,440.8 253.42,440.39 255.44,440.45 C257.46,440.52 259.58,441.07 261.04,441.92 C262.5,442.77 263.7,444.14 264.22,445.55 Z" fill="none" fill-opacity="1.0" stroke="#5a6064" stroke-width="0.5"/>
<path d="M263.45,445.88 C263.94,447.21 263.9,448.92 263.36,450.42 C262.82,451.91 261.63,453.59 260.22,454.85 C258.8,456.12 256.78,457.31 254.86,458.01 C252.95,458.71 250.63,459.09 248.73,459.03 C246.84,458.98 244.85,458.45 243.47,457.65 C242.1,456.86 240.97,455.56 240.49,454.24 C240,452.91 240.04,451.2 240.58,449.7 C241.12,448.21 242.31,446.53 243.72,445.27 C245.14,444 247.16,442.81 249.08,442.11 C250.99,441.41 253.31,441.03 255.21,441.09 C257.1,441.14 259.09,441.67 260.47,442.47 C261.84,443.26 262.97,444.56 263.45,445.88 Z" fill="none" fill-opacity="1.0" stroke="#5a6064" stroke-width="0.5"/>
<path d="M262.69,446.21 C263.14,447.45 263.11,449.05 262.6,450.45 C262.1,451.85 260.99,453.42 259.66,454.61 C258.34,455.79 256.44,456.91 254.65,457.56 C252.86,458.21 250.69,458.58 248.91,458.52 C247.13,458.47 245.27,457.98 243.98,457.23 C242.7,456.48 241.64,455.27 241.19,454.03 C240.74,452.79 240.77,451.19 241.28,449.79 C241.78,448.39 242.89,446.82 244.22,445.63 C245.54,444.45 247.44,443.33 249.23,442.68 C251.02,442.03 253.19,441.66 254.97,441.72 C256.75,441.77 258.61,442.26 259.9,443.01 C261.18,443.76 262.24,444.97 262.69,446.21 Z" fill="none" fill-opacity="1.0" stroke="#5a6064" stroke-width="0.5"/>
<path d="M260.99,446.94 C261.37,447.99 261.34,449.35 260.91,450.54 C260.49,451.72 259.54,453.06 258.42,454.06 C257.29,455.06 255.69,456.01 254.17,456.56 C252.65,457.12 250.81,457.42 249.3,457.38 C247.8,457.33 246.22,456.92 245.13,456.28 C244.04,455.65 243.14,454.62 242.76,453.57 C242.38,452.52 242.4,451.16 242.83,449.97 C243.26,448.78 244.2,447.45 245.33,446.45 C246.45,445.44 248.06,444.5 249.58,443.94 C251.1,443.39 252.93,443.08 254.44,443.13 C255.95,443.18 257.53,443.59 258.62,444.23 C259.71,444.86 260.6,445.89 260.99,446.94 Z" fill="none" fill-opacity="1.0" stroke="#3a3f42" stroke-width="0.5"/>
<path d="M260.05,447.34 C260.39,448.29 260.37,449.51 259.98,450.58 C259.6,451.65 258.75,452.85 257.73,453.76 C256.72,454.66 255.27,455.51 253.91,456.01 C252.54,456.51 250.88,456.79 249.52,456.75 C248.16,456.7 246.74,456.33 245.76,455.76 C244.78,455.19 243.97,454.26 243.63,453.32 C243.28,452.37 243.31,451.14 243.69,450.07 C244.08,449 244.93,447.8 245.94,446.9 C246.95,445.99 248.4,445.14 249.77,444.64 C251.14,444.15 252.79,443.87 254.15,443.91 C255.51,443.95 256.93,444.33 257.91,444.9 C258.9,445.47 259.7,446.39 260.05,447.34 Z" fill="none" fill-opacity="1.0" stroke="#3a3f42" stroke-width="0.5"/>
<path d="M259.11,447.74 C259.41,448.59 259.39,449.68 259.05,450.63 C258.71,451.58 257.95,452.65 257.05,453.45 C256.15,454.26 254.86,455.02 253.64,455.46 C252.42,455.9 250.95,456.15 249.74,456.11 C248.53,456.08 247.27,455.74 246.39,455.23 C245.52,454.73 244.8,453.9 244.49,453.06 C244.18,452.22 244.21,451.13 244.55,450.18 C244.89,449.22 245.65,448.16 246.55,447.35 C247.45,446.54 248.74,445.79 249.96,445.34 C251.18,444.9 252.65,444.65 253.86,444.69 C255.07,444.73 256.33,445.06 257.21,445.57 C258.08,446.08 258.8,446.9 259.11,447.74 Z" fill="none" fill-opacity="1.0" stroke="#3a3f42" stroke-width="0.5"/>
<path d="M258.17,448.14 C258.44,448.88 258.42,449.84 258.12,450.67 C257.82,451.51 257.15,452.44 256.36,453.15 C255.57,453.86 254.44,454.52 253.38,454.91 C252.31,455.3 251.02,455.51 249.96,455.48 C248.9,455.45 247.79,455.16 247.02,454.71 C246.26,454.27 245.63,453.55 245.36,452.81 C245.09,452.07 245.11,451.11 245.41,450.28 C245.71,449.44 246.37,448.51 247.16,447.8 C247.95,447.1 249.08,446.43 250.15,446.04 C251.22,445.65 252.51,445.44 253.57,445.47 C254.63,445.5 255.74,445.79 256.5,446.24 C257.27,446.69 257.9,447.41 258.17,448.14 Z" fill="none" fill-opacity="1.0" stroke="#3a3f42" stroke-width="0.5"/>
<path d="M257.23,448.55 C257.46,449.18 257.44,450 257.18,450.72 C256.92,451.44 256.36,452.24 255.68,452.85 C255,453.45 254.03,454.02 253.11,454.36 C252.19,454.69 251.08,454.88 250.17,454.85 C249.27,454.82 248.31,454.57 247.65,454.19 C247,453.81 246.45,453.19 246.22,452.55 C245.99,451.92 246.01,451.1 246.27,450.38 C246.53,449.66 247.1,448.86 247.77,448.25 C248.45,447.65 249.42,447.07 250.34,446.74 C251.26,446.41 252.37,446.22 253.28,446.25 C254.19,446.28 255.14,446.53 255.8,446.91 C256.46,447.29 257,447.91 257.23,448.55 Z" fill="none" fill-opacity="1.0" stroke="#3a3f42" stroke-width="0.5"/>
<path d="M256.29,448.95 C256.48,449.48 256.47,450.17 256.25,450.77 C256.03,451.36 255.56,452.04 254.99,452.54 C254.42,453.05 253.61,453.53 252.85,453.81 C252.08,454.09 251.15,454.24 250.39,454.22 C249.63,454.19 248.84,453.98 248.29,453.66 C247.73,453.34 247.28,452.83 247.09,452.3 C246.9,451.77 246.91,451.08 247.13,450.48 C247.34,449.88 247.82,449.21 248.39,448.7 C248.95,448.2 249.76,447.72 250.53,447.44 C251.3,447.16 252.22,447.01 252.98,447.03 C253.74,447.05 254.54,447.26 255.09,447.58 C255.64,447.9 256.09,448.42 256.29,448.95 Z" fill="none" fill-opacity="1.0" stroke="#3a3f42" stroke-width="0.5"/>
<path d="M255.35,449.35 C255.5,449.78 255.49,450.33 255.32,450.81 C255.14,451.29 254.76,451.83 254.31,452.24 C253.85,452.65 253.2,453.03 252.58,453.26 C251.97,453.48 251.22,453.6 250.61,453.59 C250,453.57 249.36,453.4 248.92,453.14 C248.47,452.88 248.11,452.47 247.96,452.04 C247.8,451.62 247.81,451.06 247.99,450.58 C248.16,450.1 248.54,449.56 249,449.15 C249.45,448.75 250.1,448.36 250.72,448.14 C251.34,447.91 252.08,447.79 252.69,447.81 C253.3,447.83 253.94,448 254.39,448.25 C254.83,448.51 255.19,448.93 255.35,449.35 Z" fill="none" fill-opacity="1.0" stroke="#3a3f42" stroke-width="0.5"/>
<path d="M254.41,449.76 C254.52,450.08 254.52,450.49 254.38,450.86 C254.25,451.22 253.96,451.63 253.62,451.94 C253.28,452.25 252.78,452.54 252.32,452.7 C251.85,452.87 251.29,452.97 250.83,452.95 C250.37,452.94 249.88,452.81 249.55,452.62 C249.21,452.42 248.94,452.11 248.82,451.79 C248.7,451.47 248.71,451.05 248.84,450.68 C248.98,450.32 249.26,449.91 249.61,449.61 C249.95,449.3 250.45,449.01 250.91,448.84 C251.38,448.67 251.94,448.57 252.4,448.59 C252.86,448.6 253.35,448.73 253.68,448.92 C254.02,449.12 254.29,449.43 254.41,449.76 Z" fill="none" fill-opacity="1.0" stroke="#3a3f42" stroke-width="0.5"/>
<path d="M253.47,450.16 C253.55,450.38 253.54,450.66 253.45,450.9 C253.36,451.15 253.17,451.43 252.93,451.63 C252.7,451.84 252.37,452.04 252.05,452.15 C251.74,452.27 251.36,452.33 251.04,452.32 C250.73,452.31 250.41,452.23 250.18,452.09 C249.95,451.96 249.77,451.75 249.69,451.53 C249.61,451.32 249.61,451.03 249.7,450.79 C249.79,450.54 249.99,450.26 250.22,450.06 C250.45,449.85 250.79,449.65 251.1,449.54 C251.42,449.42 251.8,449.36 252.11,449.37 C252.42,449.38 252.75,449.46 252.98,449.6 C253.2,449.73 253.39,449.94 253.47,450.16 Z" fill="none" fill-opacity="1.0" stroke="#3a3f42" stroke-width="0.5"/>
<path d="M252.53,450.56 C252.57,450.67 252.57,450.82 252.52,450.95 C252.47,451.08 252.37,451.22 252.25,451.33 C252.13,451.44 251.95,451.54 251.79,451.6 C251.62,451.66 251.43,451.7 251.26,451.69 C251.1,451.69 250.93,451.64 250.81,451.57 C250.69,451.5 250.6,451.39 250.55,451.28 C250.51,451.16 250.52,451.02 250.56,450.89 C250.61,450.76 250.71,450.62 250.83,450.51 C250.95,450.4 251.13,450.3 251.29,450.24 C251.46,450.18 251.66,450.14 251.82,450.15 C251.98,450.15 252.15,450.2 252.27,450.27 C252.39,450.34 252.49,450.45 252.53,450.56 Z" fill="none" fill-opacity="1.0" stroke="#3a3f42" stroke-width="0.5"/>
<path d="M279.7,442.41 C280.16,443.39 280.29,444.68 280.05,445.83 C279.8,446.98 279.11,448.3 278.23,449.31 C277.35,450.32 276.03,451.29 274.75,451.89 C273.46,452.49 271.87,452.87 270.53,452.9 C269.19,452.93 267.74,452.61 266.7,452.06 C265.66,451.51 264.75,450.57 264.3,449.59 C263.84,448.61 263.71,447.32 263.95,446.17 C264.2,445.02 264.89,443.7 265.77,442.69 C266.65,441.68 267.97,440.71 269.25,440.11 C270.54,439.51 272.13,439.13 273.47,439.1 C274.81,439.07 276.26,439.39 277.3,439.94 C278.34,440.49 279.25,441.43 279.7,442.41 Z" fill="none" fill-opacity="1.0" stroke="#888" stroke-width="0.45"/>
<path d="M279.24,442.62 C279.67,443.55 279.79,444.76 279.56,445.84 C279.33,446.93 278.69,448.16 277.86,449.11 C277.03,450.06 275.79,450.97 274.58,451.54 C273.38,452.1 271.88,452.46 270.62,452.48 C269.36,452.51 268,452.21 267.02,451.69 C266.04,451.18 265.19,450.3 264.76,449.38 C264.33,448.45 264.21,447.24 264.44,446.16 C264.67,445.07 265.31,443.84 266.14,442.89 C266.97,441.94 268.21,441.03 269.42,440.46 C270.62,439.9 272.12,439.54 273.38,439.52 C274.64,439.49 276,439.79 276.98,440.31 C277.96,440.82 278.81,441.7 279.24,442.62 Z" fill="none" fill-opacity="1.0" stroke="#888" stroke-width="0.45"/>
<path d="M277.66,443.36 C277.99,444.08 278.09,445.03 277.91,445.88 C277.73,446.72 277.22,447.69 276.57,448.43 C275.93,449.17 274.96,449.89 274.02,450.32 C273.07,450.76 271.9,451.04 270.92,451.06 C269.93,451.08 268.87,450.85 268.11,450.45 C267.35,450.04 266.68,449.36 266.34,448.64 C266.01,447.92 265.91,446.97 266.09,446.12 C266.27,445.28 266.78,444.31 267.43,443.57 C268.07,442.83 269.04,442.11 269.98,441.68 C270.93,441.24 272.1,440.96 273.08,440.94 C274.07,440.92 275.13,441.15 275.89,441.55 C276.65,441.96 277.32,442.64 277.66,443.36 Z" fill="none" fill-opacity="1.0" stroke="#777" stroke-width="0.45"/>
<path d="M276.53,443.89 C276.8,444.46 276.88,445.23 276.73,445.9 C276.59,446.58 276.18,447.35 275.67,447.94 C275.15,448.54 274.37,449.11 273.62,449.47 C272.86,449.82 271.92,450.04 271.13,450.06 C270.34,450.07 269.49,449.89 268.88,449.56 C268.27,449.24 267.74,448.69 267.47,448.11 C267.2,447.54 267.12,446.77 267.27,446.1 C267.41,445.42 267.82,444.65 268.33,444.06 C268.85,443.46 269.63,442.89 270.38,442.53 C271.14,442.18 272.08,441.96 272.87,441.94 C273.66,441.93 274.51,442.11 275.12,442.44 C275.73,442.76 276.26,443.31 276.53,443.89 Z" fill="none" fill-opacity="1.0" stroke="#777" stroke-width="0.45"/>
<path d="M275.41,444.41 C275.61,444.85 275.67,445.42 275.56,445.93 C275.45,446.44 275.15,447.02 274.76,447.46 C274.37,447.91 273.78,448.34 273.22,448.61 C272.65,448.87 271.94,449.04 271.35,449.05 C270.76,449.06 270.12,448.92 269.66,448.68 C269.2,448.44 268.79,448.02 268.59,447.59 C268.39,447.15 268.33,446.58 268.44,446.07 C268.55,445.56 268.85,444.98 269.24,444.54 C269.63,444.09 270.22,443.66 270.78,443.39 C271.35,443.13 272.06,442.96 272.65,442.95 C273.24,442.94 273.88,443.08 274.34,443.32 C274.8,443.56 275.21,443.98 275.41,444.41 Z" fill="none" fill-opacity="1.0" stroke="#777" stroke-width="0.45"/>
<path d="M274.28,444.93 C274.42,445.23 274.46,445.61 274.39,445.95 C274.31,446.29 274.11,446.68 273.85,446.98 C273.59,447.28 273.2,447.57 272.81,447.75 C272.43,447.92 271.96,448.04 271.56,448.05 C271.17,448.05 270.74,447.96 270.43,447.8 C270.12,447.63 269.85,447.36 269.72,447.07 C269.58,446.77 269.54,446.39 269.61,446.05 C269.69,445.71 269.89,445.32 270.15,445.02 C270.41,444.72 270.8,444.43 271.19,444.25 C271.57,444.08 272.04,443.96 272.44,443.95 C272.83,443.95 273.26,444.04 273.57,444.2 C273.88,444.37 274.15,444.64 274.28,444.93 Z" fill="none" fill-opacity="1.0" stroke="#777" stroke-width="0.45"/>
<path d="M273.16,445.46 C273.23,445.61 273.25,445.8 273.21,445.98 C273.18,446.15 273.07,446.35 272.94,446.5 C272.81,446.65 272.61,446.8 272.41,446.89 C272.22,446.98 271.98,447.04 271.78,447.04 C271.58,447.04 271.36,447 271.2,446.91 C271.04,446.83 270.91,446.69 270.84,446.54 C270.77,446.39 270.75,446.2 270.79,446.02 C270.82,445.85 270.93,445.65 271.06,445.5 C271.19,445.35 271.39,445.2 271.59,445.11 C271.78,445.02 272.02,444.96 272.22,444.96 C272.42,444.96 272.64,445 272.8,445.09 C272.96,445.17 273.09,445.31 273.16,445.46 Z" fill="none" fill-opacity="1.0" stroke="#777" stroke-width="0.45"/>
<path d="M343,428 C342.67,425.5 343.17,423 344,421 C344.83,419 346.17,417.08 348,416 C349.83,414.92 352.67,414.5 355,414.5 C357.33,414.5 360.08,415.08 362,416 C363.92,416.92 365.67,418.33 366.5,420 C367.33,421.67 367.58,424.33 367,426 C366.42,427.67 364.83,429 363,430 C361.17,431 357.5,431.17 356,432 C354.5,432.83 355.67,434.33 354,435 C352.33,435.67 347.83,437.17 346,436 C344.17,434.83 343.33,430.5 343,428 Z" fill="none" fill-opacity="1.0" stroke="#6a7073" stroke-width="0.45"/>
<path d="M343.55,427.68 C343.23,425.3 343.71,422.92 344.5,421.02 C345.29,419.12 346.56,417.3 348.3,416.27 C350.04,415.25 352.73,414.85 354.95,414.85 C357.17,414.85 359.78,415.4 361.6,416.27 C363.42,417.15 365.08,418.49 365.88,420.07 C366.67,421.66 366.9,424.19 366.35,425.77 C365.8,427.36 364.29,428.62 362.55,429.57 C360.81,430.52 357.32,430.68 355.9,431.48 C354.47,432.27 355.58,433.69 354,434.32 C352.42,434.96 348.14,436.38 346.4,435.27 C344.66,434.17 343.87,430.05 343.55,427.68 Z" fill="none" fill-opacity="1.0" stroke="#6a7073" stroke-width="0.45"/>
<path d="M344.1,427.35 C343.8,425.1 344.25,422.85 345,421.05 C345.75,419.25 346.95,417.53 348.6,416.55 C350.25,415.57 352.8,415.2 354.9,415.2 C357,415.2 359.47,415.73 361.2,416.55 C362.93,417.38 364.5,418.65 365.25,420.15 C366,421.65 366.23,424.05 365.7,425.55 C365.17,427.05 363.75,428.25 362.1,429.15 C360.45,430.05 357.15,430.2 355.8,430.95 C354.45,431.7 355.5,433.05 354,433.65 C352.5,434.25 348.45,435.6 346.8,434.55 C345.15,433.5 344.4,429.6 344.1,427.35 Z" fill="none" fill-opacity="1.0" stroke="#6a7073" stroke-width="0.45"/>
<path d="M345.68,426.42 C345.43,424.53 345.81,422.63 346.44,421.12 C347.07,419.61 348.08,418.16 349.46,417.34 C350.85,416.52 352.99,416.21 354.76,416.21 C356.52,416.21 358.6,416.65 360.05,417.34 C361.5,418.03 362.82,419.1 363.45,420.37 C364.08,421.63 364.27,423.64 363.83,424.9 C363.39,426.16 362.19,427.17 360.81,427.93 C359.42,428.69 356.65,428.81 355.51,429.44 C354.38,430.07 355.26,431.21 354,431.71 C352.74,432.21 349.34,433.35 347.95,432.47 C346.56,431.58 345.93,428.31 345.68,426.42 Z" fill="none" fill-opacity="1.0" stroke="#80868a" stroke-width="0.45"/>
<path d="M346.71,425.81 C346.49,424.15 346.82,422.49 347.37,421.17 C347.93,419.84 348.81,418.57 350.02,417.86 C351.24,417.14 353.12,416.86 354.66,416.86 C356.21,416.86 358.03,417.25 359.3,417.86 C360.57,418.46 361.73,419.4 362.28,420.51 C362.84,421.61 363,423.38 362.61,424.48 C362.23,425.59 361.18,426.47 359.96,427.13 C358.75,427.8 356.32,427.91 355.33,428.46 C354.33,429.01 355.1,430 354,430.45 C352.9,430.89 349.91,431.88 348.7,431.11 C347.48,430.34 346.93,427.46 346.71,425.81 Z" fill="none" fill-opacity="1.0" stroke="#80868a" stroke-width="0.45"/>
<path d="M347.74,425.2 C347.55,423.78 347.84,422.35 348.31,421.22 C348.78,420.08 349.54,418.99 350.59,418.37 C351.63,417.75 353.24,417.52 354.57,417.52 C355.9,417.52 357.46,417.85 358.55,418.37 C359.64,418.89 360.64,419.7 361.11,420.65 C361.59,421.59 361.73,423.11 361.4,424.06 C361.07,425.01 360.16,425.77 359.12,426.34 C358.08,426.91 355.99,427 355.14,427.47 C354.28,427.95 354.95,428.8 354,429.18 C353.05,429.56 350.49,430.41 349.45,429.75 C348.4,429.09 347.93,426.62 347.74,425.2 Z" fill="none" fill-opacity="1.0" stroke="#80868a" stroke-width="0.45"/>
<path d="M348.77,424.59 C348.61,423.4 348.85,422.21 349.25,421.26 C349.64,420.31 350.28,419.4 351.15,418.89 C352.02,418.37 353.37,418.17 354.48,418.17 C355.58,418.17 356.89,418.45 357.8,418.89 C358.71,419.32 359.55,419.99 359.94,420.79 C360.34,421.58 360.46,422.85 360.18,423.64 C359.9,424.43 359.15,425.07 358.28,425.54 C357.41,426.02 355.66,426.1 354.95,426.49 C354.24,426.89 354.79,427.6 354,427.92 C353.21,428.23 351.07,428.95 350.2,428.39 C349.33,427.84 348.93,425.78 348.77,424.59 Z" fill="none" fill-opacity="1.0" stroke="#80868a" stroke-width="0.45"/>
<path d="M349.8,423.98 C349.67,423.03 349.86,422.07 350.18,421.31 C350.5,420.55 351.01,419.81 351.71,419.4 C352.41,418.99 353.49,418.83 354.38,418.83 C355.27,418.83 356.32,419.05 357.05,419.4 C357.79,419.75 358.45,420.29 358.77,420.93 C359.09,421.56 359.19,422.58 358.96,423.22 C358.74,423.85 358.14,424.36 357.44,424.74 C356.74,425.13 355.34,425.19 354.76,425.51 C354.19,425.83 354.64,426.4 354,426.65 C353.36,426.91 351.65,427.48 350.95,427.03 C350.25,426.59 349.93,424.94 349.8,423.98 Z" fill="none" fill-opacity="1.0" stroke="#80868a" stroke-width="0.45"/>
<path d="M350.83,423.37 C350.74,422.65 350.88,421.93 351.12,421.36 C351.36,420.78 351.74,420.23 352.27,419.92 C352.8,419.6 353.62,419.48 354.29,419.48 C354.96,419.48 355.75,419.65 356.3,419.92 C356.86,420.18 357.36,420.59 357.6,421.07 C357.84,421.55 357.91,422.32 357.74,422.8 C357.58,423.28 357.12,423.66 356.59,423.95 C356.06,424.24 355.01,424.28 354.58,424.52 C354.14,424.76 354.48,425.2 354,425.39 C353.52,425.58 352.22,426.01 351.7,425.68 C351.17,425.34 350.93,424.09 350.83,423.37 Z" fill="none" fill-opacity="1.0" stroke="#80868a" stroke-width="0.45"/>
<path d="M351.86,422.76 C351.8,422.28 351.89,421.79 352.06,421.4 C352.22,421.01 352.48,420.64 352.83,420.43 C353.19,420.22 353.74,420.14 354.19,420.14 C354.65,420.14 355.18,420.25 355.56,420.43 C355.93,420.61 356.27,420.88 356.43,421.21 C356.59,421.53 356.64,422.05 356.53,422.37 C356.41,422.7 356.11,422.96 355.75,423.15 C355.39,423.35 354.68,423.38 354.39,423.54 C354.1,423.7 354.32,423.99 354,424.12 C353.68,424.25 352.8,424.55 352.44,424.32 C352.09,424.09 351.93,423.25 351.86,422.76 Z" fill="none" fill-opacity="1.0" stroke="#80868a" stroke-width="0.45"/>
<path d="M352.89,422.15 C352.86,421.9 352.91,421.65 352.99,421.45 C353.08,421.25 353.21,421.06 353.4,420.95 C353.58,420.84 353.87,420.79 354.1,420.79 C354.34,420.79 354.61,420.85 354.81,420.95 C355,421.04 355.18,421.18 355.26,421.35 C355.34,421.52 355.37,421.79 355.31,421.95 C355.25,422.12 355.09,422.26 354.91,422.36 C354.72,422.46 354.35,422.47 354.2,422.56 C354.05,422.64 354.17,422.79 354,422.86 C353.83,422.93 353.38,423.08 353.19,422.96 C353.01,422.84 352.93,422.41 352.89,422.15 Z" fill="none" fill-opacity="1.0" stroke="#80868a" stroke-width="0.45"/>
<path d="M332,456 C331.67,454.67 331.67,451.67 333,450 C334.33,448.33 337.83,447.25 340,446 C342.17,444.75 344.33,443.33 346,442.5 C347.67,441.67 348.67,440.42 350,441 C351.33,441.58 353.17,444 354,446 C354.83,448 355.33,450.92 355,453 C354.67,455.08 354,457.5 352,458.5 C350,459.5 345.83,459.08 343,459 C340.17,458.92 336.83,458.5 335,458 C333.17,457.5 332.33,457.33 332,456 Z" fill="none" fill-opacity="1.0" stroke="#111" stroke-width="0.6"/>
<path d="M332.96,455.7 C332.65,454.45 332.65,451.63 333.9,450.06 C335.15,448.49 338.44,447.48 340.48,446.3 C342.52,445.12 344.55,443.79 346.12,443.01 C347.69,442.23 348.63,441.05 349.88,441.6 C351.13,442.15 352.86,444.42 353.64,446.3 C354.42,448.18 354.89,450.92 354.58,452.88 C354.27,454.84 353.64,457.11 351.76,458.05 C349.88,458.99 345.96,458.6 343.3,458.52 C340.64,458.44 337.5,458.05 335.78,457.58 C334.06,457.11 333.27,456.95 332.96,455.7 Z" fill="none" fill-opacity="1.0" stroke="#111" stroke-width="0.6"/>
<path d="M333.92,455.4 C333.63,454.23 333.63,451.59 334.8,450.12 C335.97,448.65 339.05,447.7 340.96,446.6 C342.87,445.5 344.77,444.25 346.24,443.52 C347.71,442.79 348.59,441.69 349.76,442.2 C350.93,442.71 352.55,444.84 353.28,446.6 C354.01,448.36 354.45,450.93 354.16,452.76 C353.87,454.59 353.28,456.72 351.52,457.6 C349.76,458.48 346.09,458.11 343.6,458.04 C341.11,457.97 338.17,457.6 336.56,457.16 C334.95,456.72 334.21,456.57 333.92,455.4 Z" fill="none" fill-opacity="1.0" stroke="#111" stroke-width="0.6"/>
<path d="M334.88,455.1 C334.61,454.01 334.61,451.55 335.7,450.18 C336.79,448.81 339.66,447.92 341.44,446.9 C343.22,445.88 344.99,444.71 346.36,444.03 C347.73,443.35 348.55,442.32 349.64,442.8 C350.73,443.28 352.24,445.26 352.92,446.9 C353.6,448.54 354.01,450.93 353.74,452.64 C353.47,454.35 352.92,456.33 351.28,457.15 C349.64,457.97 346.22,457.63 343.9,457.56 C341.58,457.49 338.84,457.15 337.34,456.74 C335.84,456.33 335.15,456.19 334.88,455.1 Z" fill="none" fill-opacity="1.0" stroke="#111" stroke-width="0.6"/>
<path d="M337.54,454.27 C337.33,453.4 337.33,451.44 338.2,450.35 C339.07,449.26 341.36,448.55 342.77,447.73 C344.19,446.92 345.6,445.99 346.69,445.45 C347.78,444.9 348.44,444.08 349.31,444.47 C350.18,444.85 351.38,446.43 351.92,447.73 C352.47,449.04 352.79,450.95 352.57,452.31 C352.36,453.67 351.92,455.25 350.61,455.9 C349.31,456.55 346.58,456.28 344.73,456.23 C342.88,456.17 340.7,455.9 339.51,455.57 C338.31,455.25 337.76,455.14 337.54,454.27 Z" fill="none" fill-opacity="1.0" stroke="#666" stroke-width="0.45"/>
<path d="M339.25,453.73 C339.07,453.01 339.07,451.36 339.8,450.45 C340.53,449.54 342.44,448.95 343.62,448.27 C344.81,447.58 345.99,446.81 346.91,446.35 C347.82,445.9 348.36,445.21 349.09,445.53 C349.82,445.85 350.83,447.17 351.28,448.27 C351.74,449.36 352.01,450.95 351.83,452.09 C351.65,453.23 351.28,454.55 350.19,455.1 C349.09,455.65 346.82,455.42 345.27,455.38 C343.72,455.33 341.89,455.1 340.89,454.83 C339.89,454.55 339.43,454.46 339.25,453.73 Z" fill="none" fill-opacity="1.0" stroke="#666" stroke-width="0.45"/>
<path d="M340.95,453.2 C340.81,452.61 340.81,451.29 341.4,450.56 C341.98,449.83 343.52,449.35 344.48,448.8 C345.43,448.25 346.39,447.62 347.12,447.26 C347.85,446.89 348.29,446.34 348.88,446.6 C349.47,446.85 350.27,447.92 350.64,448.8 C351.01,449.68 351.23,450.96 351.08,451.88 C350.94,452.8 350.64,453.86 349.76,454.3 C348.88,454.74 347.05,454.56 345.8,454.52 C344.55,454.49 343.08,454.3 342.28,454.08 C341.47,453.86 341.1,453.79 340.95,453.2 Z" fill="none" fill-opacity="1.0" stroke="#666" stroke-width="0.45"/>
<path d="M342.66,452.67 C342.55,452.22 342.55,451.22 342.99,450.67 C343.44,450.11 344.61,449.75 345.33,449.33 C346.05,448.91 346.78,448.44 347.33,448.16 C347.89,447.88 348.22,447.47 348.67,447.66 C349.11,447.86 349.72,448.66 350,449.33 C350.28,450 350.45,450.97 350.34,451.67 C350.23,452.36 350,453.17 349.34,453.5 C348.67,453.84 347.28,453.7 346.33,453.67 C345.39,453.64 344.27,453.5 343.66,453.34 C343.05,453.17 342.77,453.11 342.66,452.67 Z" fill="none" fill-opacity="1.0" stroke="#666" stroke-width="0.45"/>
<path d="M344.36,452.14 C344.29,451.83 344.29,451.15 344.59,450.77 C344.89,450.39 345.69,450.15 346.18,449.86 C346.67,449.58 347.17,449.26 347.55,449.07 C347.92,448.88 348.15,448.6 348.45,448.73 C348.76,448.86 349.17,449.41 349.36,449.86 C349.55,450.32 349.67,450.98 349.59,451.45 C349.51,451.93 349.36,452.48 348.91,452.7 C348.45,452.93 347.51,452.84 346.86,452.82 C346.22,452.8 345.46,452.7 345.05,452.59 C344.63,452.48 344.44,452.44 344.36,452.14 Z" fill="none" fill-opacity="1.0" stroke="#666" stroke-width="0.45"/>
<path d="M346.07,451.6 C346.03,451.44 346.03,451.08 346.19,450.88 C346.35,450.68 346.77,450.55 347.03,450.4 C347.3,450.25 347.56,450.08 347.76,449.97 C347.96,449.87 348.08,449.72 348.24,449.79 C348.4,449.86 348.62,450.16 348.72,450.4 C348.82,450.64 348.88,450.99 348.84,451.24 C348.8,451.49 348.72,451.78 348.48,451.9 C348.24,452.03 347.74,451.98 347.4,451.97 C347.05,451.96 346.65,451.9 346.43,451.84 C346.21,451.78 346.11,451.76 346.07,451.6 Z" fill="none" fill-opacity="1.0" stroke="#666" stroke-width="0.45"/>
<path d="M371.67,438.18 C372.43,438.78 373.04,439.79 373.26,440.85 C373.49,441.92 373.41,443.33 373.04,444.58 C372.68,445.84 371.93,447.27 371.07,448.37 C370.21,449.47 369,450.54 367.87,451.2 C366.75,451.86 365.4,452.28 364.31,452.32 C363.22,452.35 362.09,452.01 361.33,451.42 C360.57,450.82 359.96,449.81 359.74,448.75 C359.51,447.68 359.59,446.27 359.96,445.02 C360.32,443.76 361.07,442.33 361.93,441.23 C362.79,440.13 364,439.06 365.13,438.4 C366.25,437.74 367.6,437.32 368.69,437.28 C369.78,437.25 370.91,437.59 371.67,438.18 Z" fill="none" fill-opacity="1.0" stroke="#5a6064" stroke-width="0.45"/>
<path d="M371.36,438.58 C372.08,439.14 372.64,440.09 372.86,441.09 C373.07,442.09 372.99,443.42 372.65,444.6 C372.31,445.77 371.61,447.12 370.8,448.16 C369.99,449.19 368.85,450.2 367.79,450.82 C366.73,451.44 365.46,451.83 364.44,451.87 C363.41,451.9 362.35,451.58 361.64,451.02 C360.92,450.46 360.36,449.51 360.14,448.51 C359.93,447.51 360.01,446.18 360.35,445 C360.69,443.83 361.39,442.48 362.2,441.44 C363.01,440.41 364.15,439.4 365.21,438.78 C366.27,438.16 367.54,437.77 368.56,437.73 C369.59,437.7 370.65,438.02 371.36,438.58 Z" fill="none" fill-opacity="1.0" stroke="#5a6064" stroke-width="0.45"/>
<path d="M370.42,439.78 C371,440.23 371.46,441 371.63,441.81 C371.8,442.62 371.74,443.68 371.46,444.64 C371.19,445.59 370.62,446.67 369.97,447.51 C369.31,448.35 368.4,449.16 367.54,449.66 C366.69,450.15 365.66,450.47 364.84,450.5 C364.01,450.53 363.16,450.27 362.58,449.82 C362,449.37 361.54,448.6 361.37,447.79 C361.2,446.98 361.26,445.92 361.54,444.96 C361.81,444.01 362.38,442.93 363.03,442.09 C363.69,441.25 364.6,440.44 365.46,439.94 C366.31,439.45 367.34,439.13 368.16,439.1 C368.99,439.07 369.84,439.33 370.42,439.78 Z" fill="none" fill-opacity="1.0" stroke="#6a7073" stroke-width="0.45"/>
<path d="M369.79,440.58 C370.28,440.96 370.66,441.61 370.81,442.29 C370.95,442.97 370.9,443.86 370.67,444.66 C370.44,445.46 369.96,446.37 369.41,447.07 C368.86,447.78 368.09,448.46 367.37,448.88 C366.66,449.3 365.8,449.57 365.1,449.59 C364.41,449.61 363.69,449.39 363.21,449.02 C362.72,448.64 362.34,447.99 362.19,447.31 C362.05,446.63 362.1,445.74 362.33,444.94 C362.56,444.14 363.04,443.23 363.59,442.53 C364.14,441.82 364.91,441.14 365.63,440.72 C366.34,440.3 367.2,440.03 367.9,440.01 C368.59,439.99 369.31,440.21 369.79,440.58 Z" fill="none" fill-opacity="1.0" stroke="#6a7073" stroke-width="0.45"/>
<path d="M369.17,441.39 C369.56,441.7 369.87,442.22 369.99,442.77 C370.1,443.32 370.06,444.04 369.87,444.69 C369.68,445.33 369.3,446.07 368.86,446.64 C368.41,447.21 367.79,447.76 367.21,448.1 C366.63,448.44 365.93,448.66 365.37,448.67 C364.81,448.69 364.23,448.52 363.83,448.21 C363.44,447.9 363.13,447.38 363.01,446.83 C362.9,446.28 362.94,445.56 363.13,444.91 C363.32,444.27 363.7,443.53 364.14,442.96 C364.59,442.39 365.21,441.84 365.79,441.5 C366.37,441.16 367.07,440.94 367.63,440.93 C368.19,440.91 368.77,441.08 369.17,441.39 Z" fill="none" fill-opacity="1.0" stroke="#6a7073" stroke-width="0.45"/>
<path d="M368.54,442.19 C368.84,442.43 369.07,442.83 369.16,443.25 C369.25,443.67 369.22,444.22 369.08,444.71 C368.93,445.21 368.64,445.77 368.3,446.21 C367.96,446.64 367.48,447.06 367.04,447.32 C366.6,447.58 366.07,447.75 365.64,447.76 C365.21,447.77 364.76,447.64 364.46,447.41 C364.16,447.17 363.93,446.77 363.84,446.35 C363.75,445.93 363.78,445.38 363.92,444.89 C364.07,444.39 364.36,443.83 364.7,443.39 C365.04,442.96 365.52,442.54 365.96,442.28 C366.4,442.02 366.93,441.85 367.36,441.84 C367.79,441.83 368.24,441.96 368.54,442.19 Z" fill="none" fill-opacity="1.0" stroke="#6a7073" stroke-width="0.45"/>
<path d="M367.91,443 C368.12,443.16 368.28,443.43 368.34,443.73 C368.4,444.02 368.38,444.4 368.28,444.74 C368.18,445.08 367.98,445.47 367.74,445.77 C367.51,446.07 367.18,446.36 366.87,446.54 C366.57,446.72 366.2,446.84 365.9,446.85 C365.61,446.86 365.3,446.76 365.09,446.6 C364.88,446.44 364.72,446.17 364.66,445.87 C364.6,445.58 364.62,445.2 364.72,444.86 C364.82,444.52 365.02,444.13 365.26,443.83 C365.49,443.53 365.82,443.24 366.13,443.06 C366.43,442.88 366.8,442.76 367.1,442.75 C367.39,442.74 367.7,442.84 367.91,443 Z" fill="none" fill-opacity="1.0" stroke="#6a7073" stroke-width="0.45"/>
<path d="M367.28,443.8 C367.39,443.89 367.49,444.04 367.52,444.21 C367.55,444.37 367.54,444.58 367.49,444.77 C367.43,444.96 367.32,445.17 367.19,445.34 C367.06,445.5 366.88,445.67 366.71,445.76 C366.54,445.86 366.33,445.93 366.17,445.93 C366,445.94 365.84,445.89 365.72,445.8 C365.61,445.71 365.51,445.56 365.48,445.39 C365.45,445.23 365.46,445.02 365.51,444.83 C365.57,444.64 365.68,444.43 365.81,444.26 C365.94,444.1 366.12,443.93 366.29,443.84 C366.46,443.74 366.67,443.67 366.83,443.67 C367,443.66 367.16,443.71 367.28,443.8 Z" fill="none" fill-opacity="1.0" stroke="#6a7073" stroke-width="0.45"/>
<path d="M347,441 C347,438 346,436 346,435 M353,441 C354,438 355,436 355,435" fill="none" stroke="#aaa" stroke-width="0.45"/>
<path d="M437,434.5 C436.32,432.33 435.92,427.48 436.4,425 C436.88,422.52 438.05,420.93 439.9,419.6 C441.75,418.27 444.82,417.23 447.5,417 C450.18,416.77 453.62,417.13 456,418.2 C458.38,419.27 460.7,421.35 461.8,423.4 C462.9,425.45 462.73,428.23 462.6,430.5 C462.47,432.77 463.08,435.67 461,437 C458.92,438.33 453.52,438.33 450.1,438.5 C446.68,438.67 442.68,438.67 440.5,438 C438.32,437.33 437.68,436.67 437,434.5 Z" fill="none" fill-opacity="1.0" stroke="#6a7073" stroke-width="0.45"/>
<path d="M437.4,434.05 C436.75,431.99 436.37,427.38 436.83,425.02 C437.29,422.67 438.4,421.16 440.15,419.9 C441.91,418.63 444.83,417.65 447.38,417.43 C449.92,417.2 453.19,417.55 455.45,418.56 C457.71,419.58 459.92,421.56 460.96,423.5 C462.01,425.45 461.85,428.1 461.72,430.25 C461.59,432.4 462.18,435.16 460.2,436.43 C458.22,437.69 453.09,437.69 449.85,437.85 C446.6,438.01 442.8,438.01 440.73,437.38 C438.65,436.74 438.05,436.11 437.4,434.05 Z" fill="none" fill-opacity="1.0" stroke="#6a7073" stroke-width="0.45"/>
<path d="M438.51,432.8 C437.96,431.04 437.63,427.11 438.02,425.09 C438.42,423.08 439.36,421.8 440.86,420.71 C442.36,419.63 444.85,418.79 447.03,418.6 C449.2,418.42 451.99,418.71 453.92,419.58 C455.86,420.44 457.74,422.13 458.63,423.8 C459.52,425.46 459.39,427.72 459.28,429.56 C459.17,431.39 459.67,433.75 457.98,434.83 C456.29,435.91 451.91,435.91 449.14,436.05 C446.37,436.18 443.12,436.18 441.35,435.64 C439.58,435.1 439.06,434.56 438.51,432.8 Z" fill="none" fill-opacity="1.0" stroke="#80878b" stroke-width="0.45"/>
<path d="M439.22,432 C438.73,430.44 438.44,426.93 438.79,425.14 C439.14,423.34 439.98,422.2 441.32,421.24 C442.65,420.27 444.87,419.53 446.81,419.36 C448.74,419.19 451.22,419.46 452.95,420.23 C454.67,421 456.34,422.5 457.14,423.98 C457.93,425.46 457.81,427.47 457.71,429.11 C457.62,430.75 458.06,432.84 456.56,433.81 C455.05,434.77 451.15,434.77 448.68,434.89 C446.22,435.01 443.33,435.01 441.75,434.53 C440.17,434.05 439.71,433.57 439.22,432 Z" fill="none" fill-opacity="1.0" stroke="#80878b" stroke-width="0.45"/>
<path d="M439.93,431.2 C439.5,429.83 439.24,426.76 439.55,425.18 C439.86,423.61 440.6,422.61 441.77,421.76 C442.94,420.92 444.88,420.26 446.58,420.11 C448.28,419.97 450.46,420.2 451.97,420.87 C453.48,421.55 454.95,422.87 455.64,424.17 C456.34,425.47 456.24,427.23 456.15,428.67 C456.07,430.1 456.46,431.94 455.14,432.79 C453.82,433.63 450.4,433.63 448.23,433.74 C446.07,433.84 443.53,433.84 442.15,433.42 C440.77,433 440.36,432.58 439.93,431.2 Z" fill="none" fill-opacity="1.0" stroke="#80878b" stroke-width="0.45"/>
<path d="M440.64,430.4 C440.27,429.22 440.05,426.58 440.31,425.23 C440.58,423.87 441.21,423.01 442.22,422.29 C443.23,421.56 444.9,421 446.36,420.87 C447.82,420.74 449.69,420.94 450.99,421.52 C452.29,422.1 453.55,423.24 454.15,424.36 C454.75,425.47 454.66,426.99 454.59,428.22 C454.52,429.46 454.85,431.04 453.72,431.77 C452.58,432.49 449.64,432.49 447.78,432.58 C445.92,432.67 443.74,432.67 442.55,432.31 C441.36,431.95 441.01,431.58 440.64,430.4 Z" fill="none" fill-opacity="1.0" stroke="#80878b" stroke-width="0.45"/>
<path d="M441.35,429.6 C441.04,428.62 440.86,426.4 441.08,425.27 C441.3,424.14 441.83,423.42 442.67,422.81 C443.52,422.2 444.92,421.73 446.14,421.62 C447.36,421.52 448.93,421.68 450.02,422.17 C451.1,422.66 452.16,423.61 452.66,424.54 C453.16,425.48 453.09,426.75 453.03,427.78 C452.96,428.81 453.25,430.14 452.3,430.74 C451.35,431.35 448.88,431.35 447.33,431.43 C445.77,431.5 443.94,431.5 442.95,431.2 C441.95,430.9 441.66,430.59 441.35,429.6 Z" fill="none" fill-opacity="1.0" stroke="#80878b" stroke-width="0.45"/>
<path d="M442.06,428.8 C441.81,428.01 441.66,426.23 441.84,425.32 C442.02,424.4 442.45,423.82 443.13,423.33 C443.81,422.84 444.93,422.46 445.92,422.38 C446.9,422.29 448.16,422.43 449.04,422.82 C449.91,423.21 450.77,423.98 451.17,424.73 C451.57,425.48 451.51,426.5 451.46,427.34 C451.41,428.17 451.64,429.23 450.88,429.72 C450.11,430.21 448.13,430.21 446.87,430.27 C445.62,430.33 444.15,430.33 443.35,430.09 C442.55,429.85 442.31,429.6 442.06,428.8 Z" fill="none" fill-opacity="1.0" stroke="#80878b" stroke-width="0.45"/>
<path d="M442.77,428.01 C442.58,427.4 442.47,426.05 442.61,425.36 C442.74,424.67 443.07,424.23 443.58,423.86 C444.1,423.49 444.95,423.2 445.7,423.13 C446.44,423.07 447.4,423.17 448.06,423.47 C448.73,423.76 449.37,424.34 449.68,424.92 C449.98,425.49 449.94,426.26 449.9,426.89 C449.86,427.52 450.03,428.33 449.45,428.7 C448.87,429.07 447.37,429.07 446.42,429.12 C445.47,429.17 444.36,429.17 443.75,428.98 C443.14,428.79 442.96,428.61 442.77,428.01 Z" fill="none" fill-opacity="1.0" stroke="#80878b" stroke-width="0.45"/>
<path d="M443.48,427.21 C443.35,426.8 443.28,425.88 443.37,425.41 C443.46,424.93 443.68,424.63 444.03,424.38 C444.38,424.13 444.97,423.93 445.47,423.89 C445.98,423.84 446.63,423.91 447.09,424.12 C447.54,424.32 447.98,424.71 448.19,425.1 C448.39,425.49 448.36,426.02 448.34,426.45 C448.31,426.88 448.43,427.43 448.03,427.68 C447.64,427.93 446.61,427.93 445.97,427.96 C445.32,428 444.56,428 444.15,427.87 C443.73,427.74 443.61,427.62 443.48,427.21 Z" fill="none" fill-opacity="1.0" stroke="#80878b" stroke-width="0.45"/>
<path d="M444.19,426.41 C444.12,426.19 444.08,425.7 444.13,425.45 C444.18,425.2 444.3,425.04 444.49,424.91 C444.67,424.77 444.98,424.67 445.25,424.64 C445.52,424.62 445.87,424.66 446.11,424.76 C446.35,424.87 446.58,425.08 446.69,425.29 C446.8,425.49 446.79,425.78 446.77,426 C446.76,426.23 446.82,426.52 446.61,426.66 C446.4,426.79 445.86,426.79 445.51,426.81 C445.17,426.83 444.77,426.83 444.55,426.76 C444.33,426.69 444.26,426.63 444.19,426.41 Z" fill="none" fill-opacity="1.0" stroke="#80878b" stroke-width="0.45"/>
<path d="M444.93,444.37 C445.63,445.15 446.02,446.4 445.96,447.68 C445.9,448.96 445.37,450.61 444.56,452.04 C443.76,453.47 442.45,455.08 441.12,456.28 C439.78,457.49 438.05,458.61 436.54,459.27 C435.03,459.92 433.33,460.27 432.06,460.2 C430.78,460.13 429.58,459.61 428.87,458.83 C428.17,458.05 427.78,456.8 427.84,455.52 C427.9,454.24 428.43,452.59 429.24,451.16 C430.04,449.73 431.35,448.12 432.68,446.92 C434.02,445.71 435.75,444.59 437.26,443.93 C438.77,443.28 440.47,442.93 441.74,443 C443.02,443.07 444.22,443.59 444.93,444.37 Z" fill="none" fill-opacity="1.0" stroke="#0a0a0a" stroke-width="0.65"/>
<path d="M444.44,444.81 C445.1,445.54 445.47,446.72 445.41,447.92 C445.36,449.12 444.86,450.67 444.1,452.01 C443.35,453.36 442.12,454.87 440.86,456 C439.61,457.13 437.98,458.19 436.56,458.81 C435.14,459.42 433.55,459.75 432.35,459.68 C431.15,459.61 430.02,459.13 429.36,458.39 C428.7,457.66 428.33,456.48 428.39,455.28 C428.44,454.08 428.94,452.53 429.7,451.19 C430.45,449.84 431.68,448.33 432.94,447.2 C434.19,446.07 435.82,445.01 437.24,444.39 C438.66,443.78 440.25,443.45 441.45,443.52 C442.65,443.59 443.78,444.07 444.44,444.81 Z" fill="none" fill-opacity="1.0" stroke="#0a0a0a" stroke-width="0.65"/>
<path d="M443.96,445.24 C444.58,445.93 444.92,447.03 444.87,448.15 C444.82,449.28 444.35,450.73 443.64,451.99 C442.93,453.25 441.79,454.66 440.61,455.72 C439.43,456.78 437.91,457.77 436.58,458.35 C435.25,458.92 433.76,459.23 432.64,459.17 C431.51,459.1 430.46,458.65 429.84,457.96 C429.22,457.27 428.88,456.17 428.93,455.05 C428.98,453.92 429.45,452.47 430.16,451.21 C430.87,449.95 432.01,448.54 433.19,447.48 C434.37,446.42 435.89,445.43 437.22,444.85 C438.55,444.28 440.04,443.97 441.16,444.03 C442.29,444.1 443.34,444.55 443.96,445.24 Z" fill="none" fill-opacity="1.0" stroke="#0a0a0a" stroke-width="0.65"/>
<path d="M442.49,446.57 C442.98,447.11 443.25,447.98 443.21,448.87 C443.16,449.76 442.8,450.91 442.23,451.91 C441.67,452.9 440.77,454.02 439.83,454.86 C438.9,455.7 437.7,456.48 436.65,456.94 C435.6,457.39 434.42,457.64 433.53,457.59 C432.64,457.54 431.8,457.17 431.31,456.63 C430.82,456.09 430.55,455.22 430.59,454.33 C430.64,453.44 431,452.29 431.57,451.29 C432.13,450.3 433.03,449.18 433.97,448.34 C434.9,447.5 436.1,446.72 437.15,446.26 C438.2,445.81 439.38,445.56 440.27,445.61 C441.16,445.66 442,446.03 442.49,446.57 Z" fill="none" fill-opacity="1.0" stroke="#6a7073" stroke-width="0.45"/>
<path d="M441.49,447.46 C441.89,447.91 442.12,448.63 442.08,449.36 C442.05,450.09 441.75,451.03 441.29,451.85 C440.82,452.67 440.08,453.59 439.31,454.28 C438.55,454.97 437.56,455.61 436.69,455.99 C435.83,456.36 434.86,456.56 434.13,456.52 C433.4,456.48 432.71,456.18 432.31,455.74 C431.91,455.29 431.68,454.57 431.72,453.84 C431.75,453.11 432.05,452.17 432.51,451.35 C432.98,450.53 433.72,449.61 434.49,448.92 C435.25,448.23 436.24,447.59 437.11,447.21 C437.97,446.84 438.94,446.64 439.67,446.68 C440.4,446.72 441.09,447.02 441.49,447.46 Z" fill="none" fill-opacity="1.0" stroke="#6a7073" stroke-width="0.45"/>
<path d="M440.5,448.36 C440.81,448.71 440.99,449.27 440.96,449.84 C440.93,450.42 440.7,451.16 440.34,451.8 C439.97,452.44 439.39,453.16 438.79,453.7 C438.19,454.24 437.41,454.75 436.74,455.04 C436.06,455.33 435.3,455.49 434.73,455.46 C434.16,455.42 433.62,455.19 433.3,454.84 C432.99,454.49 432.81,453.93 432.84,453.36 C432.87,452.78 433.1,452.04 433.46,451.4 C433.83,450.76 434.41,450.04 435.01,449.5 C435.61,448.96 436.39,448.45 437.06,448.16 C437.74,447.87 438.5,447.71 439.07,447.74 C439.64,447.78 440.18,448.01 440.5,448.36 Z" fill="none" fill-opacity="1.0" stroke="#6a7073" stroke-width="0.45"/>
<path d="M439.5,449.25 C439.73,449.51 439.86,449.91 439.84,450.33 C439.82,450.74 439.65,451.28 439.39,451.74 C439.12,452.21 438.7,452.73 438.27,453.12 C437.83,453.51 437.27,453.88 436.78,454.09 C436.29,454.3 435.74,454.41 435.33,454.39 C434.91,454.37 434.52,454.2 434.3,453.95 C434.07,453.69 433.94,453.29 433.96,452.87 C433.98,452.46 434.15,451.92 434.41,451.46 C434.68,450.99 435.1,450.47 435.53,450.08 C435.97,449.69 436.53,449.32 437.02,449.11 C437.51,448.9 438.06,448.79 438.47,448.81 C438.89,448.83 439.28,449 439.5,449.25 Z" fill="none" fill-opacity="1.0" stroke="#6a7073" stroke-width="0.45"/>
<path d="M438.51,450.15 C438.65,450.31 438.73,450.56 438.72,450.81 C438.71,451.07 438.6,451.4 438.44,451.69 C438.28,451.98 438.01,452.3 437.75,452.54 C437.48,452.78 437.13,453.01 436.83,453.14 C436.52,453.27 436.18,453.34 435.93,453.33 C435.67,453.31 435.43,453.21 435.29,453.05 C435.15,452.89 435.07,452.64 435.08,452.39 C435.09,452.13 435.2,451.8 435.36,451.51 C435.52,451.22 435.79,450.9 436.05,450.66 C436.32,450.42 436.67,450.19 436.97,450.06 C437.28,449.93 437.62,449.86 437.87,449.87 C438.13,449.89 438.37,449.99 438.51,450.15 Z" fill="none" fill-opacity="1.0" stroke="#6a7073" stroke-width="0.45"/>
<path d="M472.36,444.03 C472.83,445.31 472.78,446.98 472.23,448.44 C471.68,449.9 470.48,451.54 469.06,452.79 C467.64,454.03 465.62,455.21 463.7,455.91 C461.79,456.6 459.49,457 457.6,456.96 C455.71,456.92 453.73,456.43 452.37,455.67 C451.01,454.9 449.9,453.66 449.44,452.37 C448.97,451.09 449.02,449.42 449.57,447.96 C450.12,446.5 451.32,444.86 452.74,443.61 C454.16,442.37 456.18,441.19 458.1,440.49 C460.01,439.8 462.31,439.4 464.2,439.44 C466.09,439.48 468.07,439.97 469.43,440.73 C470.79,441.5 471.9,442.74 472.36,444.03 Z" fill="none" fill-opacity="1.0" stroke="#5a6064" stroke-width="0.45"/>
<path d="M471.68,444.28 C472.12,445.48 472.07,447.05 471.55,448.42 C471.03,449.8 469.91,451.34 468.57,452.51 C467.24,453.68 465.33,454.79 463.54,455.44 C461.74,456.1 459.57,456.47 457.79,456.43 C456.02,456.4 454.16,455.94 452.89,455.22 C451.61,454.5 450.56,453.33 450.12,452.12 C449.68,450.92 449.73,449.35 450.25,447.98 C450.77,446.6 451.89,445.06 453.23,443.89 C454.56,442.72 456.47,441.61 458.26,440.96 C460.06,440.3 462.23,439.93 464.01,439.97 C465.78,440 467.64,440.46 468.91,441.18 C470.19,441.9 471.24,443.07 471.68,444.28 Z" fill="none" fill-opacity="1.0" stroke="#5a6064" stroke-width="0.45"/>
<path d="M470.99,444.53 C471.4,445.66 471.36,447.13 470.87,448.41 C470.39,449.7 469.33,451.14 468.08,452.24 C466.83,453.33 465.05,454.37 463.37,454.98 C461.69,455.59 459.65,455.94 457.99,455.91 C456.33,455.87 454.59,455.44 453.4,454.77 C452.2,454.1 451.22,453 450.81,451.87 C450.4,450.74 450.44,449.27 450.93,447.99 C451.41,446.7 452.47,445.26 453.72,444.16 C454.97,443.07 456.75,442.03 458.43,441.42 C460.11,440.81 462.15,440.46 463.81,440.49 C465.47,440.53 467.21,440.96 468.4,441.63 C469.6,442.3 470.58,443.4 470.99,444.53 Z" fill="none" fill-opacity="1.0" stroke="#5a6064" stroke-width="0.45"/>
<path d="M469.38,445.11 C469.73,446.06 469.69,447.3 469.29,448.38 C468.88,449.46 467.99,450.67 466.94,451.59 C465.89,452.52 464.39,453.39 462.98,453.9 C461.56,454.42 459.85,454.71 458.46,454.68 C457.06,454.65 455.6,454.29 454.59,453.73 C453.58,453.16 452.76,452.24 452.42,451.29 C452.07,450.34 452.11,449.1 452.51,448.02 C452.92,446.94 453.81,445.73 454.86,444.81 C455.91,443.88 457.41,443.01 458.82,442.5 C460.24,441.98 461.95,441.69 463.34,441.72 C464.74,441.75 466.2,442.11 467.21,442.67 C468.22,443.24 469.04,444.16 469.38,445.11 Z" fill="none" fill-opacity="1.0" stroke="#5a6064" stroke-width="0.45"/>
<path d="M468.47,445.45 C468.78,446.29 468.74,447.39 468.38,448.36 C468.02,449.32 467.23,450.41 466.29,451.23 C465.35,452.05 464.01,452.83 462.75,453.29 C461.49,453.75 459.97,454.01 458.72,453.98 C457.47,453.96 456.17,453.63 455.27,453.13 C454.37,452.62 453.64,451.8 453.33,450.95 C453.02,450.11 453.06,449.01 453.42,448.04 C453.78,447.08 454.57,445.99 455.51,445.17 C456.45,444.35 457.79,443.57 459.05,443.11 C460.31,442.65 461.83,442.39 463.08,442.42 C464.33,442.44 465.63,442.77 466.53,443.27 C467.43,443.78 468.16,444.6 468.47,445.45 Z" fill="none" fill-opacity="1.0" stroke="#5a6064" stroke-width="0.45"/>
<path d="M467.55,445.78 C467.82,446.52 467.79,447.49 467.47,448.34 C467.16,449.19 466.46,450.14 465.64,450.86 C464.81,451.58 463.64,452.27 462.53,452.67 C461.42,453.07 460.08,453.31 458.98,453.28 C457.89,453.26 456.74,452.98 455.95,452.53 C455.16,452.09 454.52,451.37 454.25,450.62 C453.98,449.88 454.01,448.91 454.33,448.06 C454.64,447.21 455.34,446.26 456.16,445.54 C456.99,444.82 458.16,444.13 459.27,443.73 C460.38,443.33 461.72,443.09 462.82,443.12 C463.91,443.14 465.06,443.42 465.85,443.87 C466.64,444.31 467.28,445.03 467.55,445.78 Z" fill="none" fill-opacity="1.0" stroke="#5a6064" stroke-width="0.45"/>
<path d="M466.64,446.11 C466.87,446.75 466.84,447.59 466.57,448.32 C466.29,449.05 465.69,449.87 464.98,450.49 C464.27,451.12 463.26,451.71 462.3,452.06 C461.35,452.4 460.19,452.6 459.25,452.58 C458.3,452.56 457.31,452.32 456.63,451.94 C455.95,451.55 455.4,450.93 455.16,450.29 C454.93,449.65 454.96,448.81 455.23,448.08 C455.51,447.35 456.11,446.53 456.82,445.91 C457.53,445.28 458.54,444.69 459.5,444.34 C460.45,444 461.61,443.8 462.55,443.82 C463.5,443.84 464.49,444.08 465.17,444.46 C465.85,444.85 466.4,445.47 466.64,446.11 Z" fill="none" fill-opacity="1.0" stroke="#5a6064" stroke-width="0.45"/>
<path d="M465.72,446.45 C465.92,446.99 465.89,447.69 465.66,448.3 C465.43,448.91 464.93,449.61 464.33,450.13 C463.73,450.65 462.88,451.15 462.08,451.44 C461.28,451.73 460.31,451.9 459.51,451.88 C458.72,451.87 457.89,451.66 457.32,451.34 C456.74,451.02 456.28,450.49 456.08,449.95 C455.88,449.41 455.91,448.71 456.14,448.1 C456.37,447.49 456.87,446.79 457.47,446.27 C458.07,445.75 458.92,445.25 459.72,444.96 C460.52,444.67 461.49,444.5 462.29,444.52 C463.08,444.53 463.91,444.74 464.48,445.06 C465.06,445.38 465.52,445.91 465.72,446.45 Z" fill="none" fill-opacity="1.0" stroke="#5a6064" stroke-width="0.45"/>
<path d="M464.8,446.78 C464.96,447.22 464.95,447.78 464.76,448.28 C464.57,448.78 464.16,449.34 463.68,449.76 C463.19,450.19 462.51,450.59 461.85,450.82 C461.2,451.06 460.42,451.2 459.78,451.18 C459.13,451.17 458.46,451 458,450.74 C457.53,450.48 457.16,450.06 457,449.62 C456.84,449.18 456.85,448.62 457.04,448.12 C457.23,447.62 457.64,447.06 458.12,446.64 C458.61,446.21 459.29,445.81 459.95,445.58 C460.6,445.34 461.38,445.2 462.02,445.22 C462.67,445.23 463.34,445.4 463.8,445.66 C464.27,445.92 464.64,446.34 464.8,446.78 Z" fill="none" fill-opacity="1.0" stroke="#5a6064" stroke-width="0.45"/>
<path d="M463.89,447.11 C464.01,447.45 464,447.88 463.85,448.26 C463.71,448.64 463.4,449.07 463.03,449.4 C462.66,449.72 462.13,450.03 461.63,450.21 C461.13,450.39 460.53,450.49 460.04,450.48 C459.55,450.47 459.03,450.34 458.68,450.15 C458.32,449.95 458.03,449.62 457.91,449.29 C457.79,448.95 457.8,448.52 457.95,448.14 C458.09,447.76 458.4,447.33 458.77,447 C459.14,446.68 459.67,446.37 460.17,446.19 C460.67,446.01 461.27,445.91 461.76,445.92 C462.25,445.93 462.77,446.06 463.12,446.25 C463.48,446.45 463.77,446.78 463.89,447.11 Z" fill="none" fill-opacity="1.0" stroke="#5a6064" stroke-width="0.45"/>
<path d="M462.97,447.45 C463.06,447.68 463.05,447.98 462.95,448.24 C462.85,448.51 462.63,448.8 462.37,449.03 C462.12,449.25 461.75,449.47 461.41,449.59 C461.06,449.72 460.64,449.79 460.3,449.78 C459.96,449.78 459.61,449.69 459.36,449.55 C459.11,449.41 458.91,449.19 458.83,448.95 C458.74,448.72 458.75,448.42 458.85,448.16 C458.95,447.89 459.17,447.6 459.43,447.37 C459.68,447.15 460.05,446.93 460.39,446.81 C460.74,446.68 461.16,446.61 461.5,446.62 C461.84,446.62 462.19,446.71 462.44,446.85 C462.69,446.99 462.89,447.21 462.97,447.45 Z" fill="none" fill-opacity="1.0" stroke="#5a6064" stroke-width="0.45"/>
<path d="M462.05,447.78 C462.1,447.91 462.1,448.08 462.04,448.22 C461.99,448.37 461.87,448.54 461.72,448.66 C461.58,448.79 461.37,448.91 461.18,448.98 C460.99,449.05 460.76,449.09 460.57,449.08 C460.38,449.08 460.18,449.03 460.04,448.95 C459.9,448.88 459.79,448.75 459.75,448.62 C459.7,448.49 459.7,448.32 459.76,448.18 C459.81,448.03 459.93,447.86 460.08,447.74 C460.22,447.61 460.43,447.49 460.62,447.42 C460.81,447.35 461.04,447.31 461.23,447.32 C461.42,447.32 461.62,447.37 461.76,447.45 C461.9,447.52 462.01,447.65 462.05,447.78 Z" fill="none" fill-opacity="1.0" stroke="#5a6064" stroke-width="0.45"/>
<circle cx="416.4" cy="452" r="2.4" fill="none" stroke="#999" stroke-width="0.5"/>
<rect x="49.4" y="306.5" width="47.1" height="34.7" fill="none" stroke="#6a6a6a" stroke-width="0.9"/>
<rect x="49.4" y="341.7" width="19.4" height="28.7" fill="none" stroke="#4a4a4a" stroke-width="1.0"/>
<rect x="69.8" y="341.7" width="26.7" height="28.7" fill="none" stroke="#4a4a4a" stroke-width="1.0"/>
<rect x="137.7" y="312.2" width="55.9" height="31.8" fill="none" stroke="#6a6a6a" stroke-width="0.9"/>
<rect x="137.7" y="345.9" width="30.2" height="24.6" fill="none" stroke="#4a4a4a" stroke-width="1.0"/>
<rect x="169" y="345.9" width="24.6" height="24.6" fill="none" stroke="#4a4a4a" stroke-width="1.0"/>
<rect x="236.4" y="312.2" width="54.2" height="32.9" fill="none" stroke="#6a6a6a" stroke-width="0.9"/>
<rect x="236.4" y="345.9" width="27.8" height="24.3" fill="none" stroke="#4a4a4a" stroke-width="1.0"/>
<rect x="265.6" y="345.9" width="25" height="24.3" fill="none" stroke="#4a4a4a" stroke-width="1.0"/>
<rect x="330.2" y="310.4" width="53.4" height="37.3" fill="none" stroke="#6a6a6a" stroke-width="0.9"/>
<rect x="330.2" y="349.5" width="26" height="19.7" fill="none" stroke="#4a4a4a" stroke-width="1.0"/>
<rect x="356.7" y="349.5" width="26.9" height="19.7" fill="none" stroke="#4a4a4a" stroke-width="1.0"/>
<rect x="421.2" y="309.9" width="48.6" height="36.5" fill="none" stroke="#6a6a6a" stroke-width="0.9"/>
<rect x="421.2" y="347.3" width="25.2" height="22.5" fill="none" stroke="#4a4a4a" stroke-width="1.0"/>
<rect x="447" y="347.3" width="22.8" height="22.5" fill="none" stroke="#4a4a4a" stroke-width="1.0"/>
<rect x="51.3" y="405.2" width="44.8" height="32.7" fill="none" stroke="#6a6a6a" stroke-width="0.9"/>
<rect x="51.3" y="437.9" width="26.9" height="23" fill="none" stroke="#4a4a4a" stroke-width="1.0"/>
<rect x="78.9" y="437.9" width="17.2" height="23" fill="none" stroke="#4a4a4a" stroke-width="1.0"/>
<rect x="144.3" y="407.4" width="44.6" height="30.5" fill="none" stroke="#6a6a6a" stroke-width="0.9"/>
<rect x="144.3" y="437.9" width="26.9" height="23" fill="none" stroke="#4a4a4a" stroke-width="1.0"/>
<rect x="171.5" y="437.9" width="17.4" height="23" fill="none" stroke="#4a4a4a" stroke-width="1.0"/>
<rect x="237.3" y="407.4" width="44.6" height="30.5" fill="none" stroke="#6a6a6a" stroke-width="0.9"/>
<rect x="237.3" y="437.9" width="26.9" height="23" fill="none" stroke="#4a4a4a" stroke-width="1.0"/>
<rect x="264.5" y="437.9" width="17.4" height="23" fill="none" stroke="#4a4a4a" stroke-width="1.0"/>
<rect x="329.3" y="407.4" width="46.6" height="29.2" fill="none" stroke="#6a6a6a" stroke-width="0.9"/>
<rect x="329.3" y="436.6" width="29" height="24.3" fill="none" stroke="#4a4a4a" stroke-width="1.0"/>
<rect x="358.3" y="436.6" width="17.6" height="24.3" fill="none" stroke="#4a4a4a" stroke-width="1.0"/>
<rect x="421.4" y="403.7" width="53" height="33.4" fill="none" stroke="#6a6a6a" stroke-width="0.9"/>
<rect x="421.4" y="437.9" width="25" height="23" fill="none" stroke="#4a4a4a" stroke-width="1.0"/>
<rect x="447.3" y="437.9" width="27.1" height="23" fill="none" stroke="#4a4a4a" stroke-width="1.0"/>
<text x="109.6" y="307.8" font-size="7.6" text-anchor="middle" fill="#111" stroke="#111" stroke-width="0.06">S</text>
<text x="109.6" y="316.9" font-size="7.6" text-anchor="middle" fill="#111" stroke="#111" stroke-width="0.06" textLength="13" lengthAdjust="spacingAndGlyphs">44.6</text>
<text x="59.1" y="377.7" font-size="7.6" text-anchor="middle" fill="#111" stroke="#111" stroke-width="0.06" textLength="18.4" lengthAdjust="spacingAndGlyphs">G0-G1</text>
<text x="83.15" y="377.7" font-size="7.6" text-anchor="middle" fill="#111" stroke="#111" stroke-width="0.06" textLength="16" lengthAdjust="spacingAndGlyphs">G2-M</text>
<text x="59.1" y="387" font-size="7.6" text-anchor="middle" fill="#111" stroke="#111" stroke-width="0.06" textLength="13" lengthAdjust="spacingAndGlyphs">45.1</text>
<text x="83.15" y="387" font-size="7.6" text-anchor="middle" fill="#111" stroke="#111" stroke-width="0.06" textLength="13" lengthAdjust="spacingAndGlyphs">8.77</text>
<text x="203.8" y="307.8" font-size="7.6" text-anchor="middle" fill="#111" stroke="#111" stroke-width="0.06">S</text>
<text x="203.8" y="316.9" font-size="7.6" text-anchor="middle" fill="#111" stroke="#111" stroke-width="0.06" textLength="13" lengthAdjust="spacingAndGlyphs">55.0</text>
<text x="152.8" y="377.7" font-size="7.6" text-anchor="middle" fill="#111" stroke="#111" stroke-width="0.06" textLength="18.4" lengthAdjust="spacingAndGlyphs">G0-G1</text>
<text x="181.3" y="377.7" font-size="7.6" text-anchor="middle" fill="#111" stroke="#111" stroke-width="0.06" textLength="16" lengthAdjust="spacingAndGlyphs">G2-M</text>
<text x="152.8" y="387" font-size="7.6" text-anchor="middle" fill="#111" stroke="#111" stroke-width="0.06" textLength="13" lengthAdjust="spacingAndGlyphs">36.2</text>
<text x="181.3" y="387" font-size="7.6" text-anchor="middle" fill="#111" stroke="#111" stroke-width="0.06" textLength="13" lengthAdjust="spacingAndGlyphs">6.97</text>
<text x="297.9" y="307.8" font-size="7.6" text-anchor="middle" fill="#111" stroke="#111" stroke-width="0.06">S</text>
<text x="297.9" y="316.9" font-size="7.6" text-anchor="middle" fill="#111" stroke="#111" stroke-width="0.06" textLength="13" lengthAdjust="spacingAndGlyphs">23.4</text>
<text x="250.3" y="377.7" font-size="7.6" text-anchor="middle" fill="#111" stroke="#111" stroke-width="0.06" textLength="18.4" lengthAdjust="spacingAndGlyphs">G0-G1</text>
<text x="278.1" y="377.7" font-size="7.6" text-anchor="middle" fill="#111" stroke="#111" stroke-width="0.06" textLength="16" lengthAdjust="spacingAndGlyphs">G2-M</text>
<text x="250.3" y="387" font-size="7.6" text-anchor="middle" fill="#111" stroke="#111" stroke-width="0.06" textLength="13" lengthAdjust="spacingAndGlyphs">34.7</text>
<text x="278.1" y="387" font-size="7.6" text-anchor="middle" fill="#111" stroke="#111" stroke-width="0.06" textLength="13" lengthAdjust="spacingAndGlyphs">35.2</text>
<text x="390.4" y="307.8" font-size="7.6" text-anchor="middle" fill="#111" stroke="#111" stroke-width="0.06">S</text>
<text x="390.4" y="316.9" font-size="7.6" text-anchor="middle" fill="#111" stroke="#111" stroke-width="0.06" textLength="13" lengthAdjust="spacingAndGlyphs">20.9</text>
<text x="343.2" y="377.7" font-size="7.6" text-anchor="middle" fill="#111" stroke="#111" stroke-width="0.06" textLength="18.4" lengthAdjust="spacingAndGlyphs">G0-G1</text>
<text x="370.15" y="377.7" font-size="7.6" text-anchor="middle" fill="#111" stroke="#111" stroke-width="0.06" textLength="16" lengthAdjust="spacingAndGlyphs">G2-M</text>
<text x="343.2" y="387" font-size="7.6" text-anchor="middle" fill="#111" stroke="#111" stroke-width="0.06" textLength="13" lengthAdjust="spacingAndGlyphs">54.5</text>
<text x="370.15" y="387" font-size="7.6" text-anchor="middle" fill="#111" stroke="#111" stroke-width="0.06" textLength="13" lengthAdjust="spacingAndGlyphs">21.0</text>
<text x="482" y="307.8" font-size="7.6" text-anchor="middle" fill="#111" stroke="#111" stroke-width="0.06">S</text>
<text x="482" y="316.9" font-size="7.6" text-anchor="middle" fill="#111" stroke="#111" stroke-width="0.06" textLength="13" lengthAdjust="spacingAndGlyphs">17.8</text>
<text x="433.8" y="377.7" font-size="7.6" text-anchor="middle" fill="#111" stroke="#111" stroke-width="0.06" textLength="18.4" lengthAdjust="spacingAndGlyphs">G0-G1</text>
<text x="458.4" y="377.7" font-size="7.6" text-anchor="middle" fill="#111" stroke="#111" stroke-width="0.06" textLength="16" lengthAdjust="spacingAndGlyphs">G2-M</text>
<text x="433.8" y="387" font-size="7.6" text-anchor="middle" fill="#111" stroke="#111" stroke-width="0.06" textLength="13" lengthAdjust="spacingAndGlyphs">69.5</text>
<text x="458.4" y="387" font-size="7.6" text-anchor="middle" fill="#111" stroke="#111" stroke-width="0.06" textLength="13" lengthAdjust="spacingAndGlyphs">10.8</text>
<text x="109.5" y="399.4" font-size="7.6" text-anchor="middle" fill="#111" stroke="#111" stroke-width="0.06">S</text>
<text x="109.5" y="408.5" font-size="7.6" text-anchor="middle" fill="#111" stroke="#111" stroke-width="0.06" textLength="13" lengthAdjust="spacingAndGlyphs">44.1</text>
<text x="64.75" y="469.3" font-size="7.6" text-anchor="middle" fill="#111" stroke="#111" stroke-width="0.06" textLength="18.4" lengthAdjust="spacingAndGlyphs">G0-G1</text>
<text x="87.5" y="469.3" font-size="7.6" text-anchor="middle" fill="#111" stroke="#111" stroke-width="0.06" textLength="16" lengthAdjust="spacingAndGlyphs">G2-M</text>
<text x="64.75" y="478.6" font-size="7.6" text-anchor="middle" fill="#111" stroke="#111" stroke-width="0.06" textLength="13" lengthAdjust="spacingAndGlyphs">48.2</text>
<text x="87.5" y="478.6" font-size="7.6" text-anchor="middle" fill="#111" stroke="#111" stroke-width="0.06" textLength="13" lengthAdjust="spacingAndGlyphs">6.25</text>
<text x="203.1" y="399.4" font-size="7.6" text-anchor="middle" fill="#111" stroke="#111" stroke-width="0.06">S</text>
<text x="203.1" y="408.5" font-size="7.6" text-anchor="middle" fill="#111" stroke="#111" stroke-width="0.06" textLength="13" lengthAdjust="spacingAndGlyphs">46.7</text>
<text x="157.75" y="469.3" font-size="7.6" text-anchor="middle" fill="#111" stroke="#111" stroke-width="0.06" textLength="18.4" lengthAdjust="spacingAndGlyphs">G0-G1</text>
<text x="180.2" y="469.3" font-size="7.6" text-anchor="middle" fill="#111" stroke="#111" stroke-width="0.06" textLength="16" lengthAdjust="spacingAndGlyphs">G2-M</text>
<text x="157.75" y="478.6" font-size="7.6" text-anchor="middle" fill="#111" stroke="#111" stroke-width="0.06" textLength="13" lengthAdjust="spacingAndGlyphs">44.8</text>
<text x="180.2" y="478.6" font-size="7.6" text-anchor="middle" fill="#111" stroke="#111" stroke-width="0.06" textLength="13" lengthAdjust="spacingAndGlyphs">5.95</text>
<text x="295.9" y="399.4" font-size="7.6" text-anchor="middle" fill="#111" stroke="#111" stroke-width="0.06">S</text>
<text x="295.9" y="408.5" font-size="7.6" text-anchor="middle" fill="#111" stroke="#111" stroke-width="0.06" textLength="13" lengthAdjust="spacingAndGlyphs">13.6</text>
<text x="250.75" y="469.3" font-size="7.6" text-anchor="middle" fill="#111" stroke="#111" stroke-width="0.06" textLength="18.4" lengthAdjust="spacingAndGlyphs">G0-G1</text>
<text x="273.2" y="469.3" font-size="7.6" text-anchor="middle" fill="#111" stroke="#111" stroke-width="0.06" textLength="16" lengthAdjust="spacingAndGlyphs">G2-M</text>
<text x="250.75" y="478.6" font-size="7.6" text-anchor="middle" fill="#111" stroke="#111" stroke-width="0.06" textLength="13" lengthAdjust="spacingAndGlyphs">74.4</text>
<text x="273.2" y="478.6" font-size="7.6" text-anchor="middle" fill="#111" stroke="#111" stroke-width="0.06" textLength="13" lengthAdjust="spacingAndGlyphs">10.2</text>
<text x="388.75" y="399.4" font-size="7.6" text-anchor="middle" fill="#111" stroke="#111" stroke-width="0.06">S</text>
<text x="388.75" y="408.5" font-size="7.6" text-anchor="middle" fill="#111" stroke="#111" stroke-width="0.06" textLength="13" lengthAdjust="spacingAndGlyphs">24.8</text>
<text x="343.8" y="469.3" font-size="7.6" text-anchor="middle" fill="#111" stroke="#111" stroke-width="0.06" textLength="18.4" lengthAdjust="spacingAndGlyphs">G0-G1</text>
<text x="367.1" y="469.3" font-size="7.6" text-anchor="middle" fill="#111" stroke="#111" stroke-width="0.06" textLength="16" lengthAdjust="spacingAndGlyphs">G2-M</text>
<text x="343.8" y="478.6" font-size="7.6" text-anchor="middle" fill="#111" stroke="#111" stroke-width="0.06" textLength="13" lengthAdjust="spacingAndGlyphs">59.9</text>
<text x="367.1" y="478.6" font-size="7.6" text-anchor="middle" fill="#111" stroke="#111" stroke-width="0.06" textLength="13" lengthAdjust="spacingAndGlyphs">13.8</text>
<text x="483.4" y="399.4" font-size="7.6" text-anchor="middle" fill="#111" stroke="#111" stroke-width="0.06">S</text>
<text x="483.4" y="408.5" font-size="7.6" text-anchor="middle" fill="#111" stroke="#111" stroke-width="0.06" textLength="13" lengthAdjust="spacingAndGlyphs">24.1</text>
<text x="433.9" y="469.3" font-size="7.6" text-anchor="middle" fill="#111" stroke="#111" stroke-width="0.06" textLength="18.4" lengthAdjust="spacingAndGlyphs">G0-G1</text>
<text x="460.85" y="469.3" font-size="7.6" text-anchor="middle" fill="#111" stroke="#111" stroke-width="0.06" textLength="16" lengthAdjust="spacingAndGlyphs">G2-M</text>
<text x="433.9" y="478.6" font-size="7.6" text-anchor="middle" fill="#111" stroke="#111" stroke-width="0.06" textLength="13" lengthAdjust="spacingAndGlyphs">54.8</text>
<text x="460.85" y="478.6" font-size="7.6" text-anchor="middle" fill="#111" stroke="#111" stroke-width="0.06" textLength="13" lengthAdjust="spacingAndGlyphs">17.2</text>
<rect x="27.5" y="299.5" width="464" height="184.5" fill="none" stroke="#111" stroke-width="1.4"/>
<line x1="120.5" y1="299.5" x2="120.5" y2="484" stroke="#111" stroke-width="1.4"/>
<line x1="214" y1="299.5" x2="214" y2="484" stroke="#111" stroke-width="1.4"/>
<line x1="306.5" y1="299.5" x2="306.5" y2="484" stroke="#111" stroke-width="1.4"/>
<line x1="399" y1="299.5" x2="399" y2="484" stroke="#111" stroke-width="1.4"/>
<line x1="27.5" y1="391.9" x2="491.5" y2="391.9" stroke="#111" stroke-width="1.4"/>
<line x1="18.6" y1="432.9" x2="18.6" y2="355" stroke="#222" stroke-width="1"/>
<path d="M16.5,356.5 L18.6,350.2 L20.7,356.5 Z" fill="#111"/>
<text x="0" y="0" font-size="8.2" text-anchor="middle" fill="#333" textLength="46.5" lengthAdjust="spacingAndGlyphs" transform="translate(14.6 395.5) rotate(-90)">EdU intensity</text>
<line x1="37" y1="491.3" x2="203" y2="491.3" stroke="#222" stroke-width="1"/>
<path d="M202,489.2 L208.2,491.3 L202,493.4 Z" fill="#111"/>
<text x="122.5" y="502.8" font-size="8.2" text-anchor="middle" fill="#333" stroke="#333" stroke-width="0.06" textLength="72" lengthAdjust="spacingAndGlyphs">DNA content (DAPI)</text>
<text x="0" y="0" font-size="8.4" text-anchor="middle" fill="#333" textLength="46.5" lengthAdjust="spacingAndGlyphs" transform="translate(505.6 348.0) rotate(-90)">αCD3/CD28</text>
<text x="0" y="0" font-size="8.4" text-anchor="middle" fill="#333" textLength="20" lengthAdjust="spacingAndGlyphs" transform="translate(503.8 436.2) rotate(-90)">PMA/</text>
<text x="0" y="0" font-size="8.4" text-anchor="middle" fill="#333" textLength="36.8" lengthAdjust="spacingAndGlyphs" transform="translate(513.2 436.6) rotate(-90)">Ionomycin</text>
</g>
<g id="C">
<text x="4.3" y="523.8" font-size="11" text-anchor="start" fill="#000" stroke="#000" stroke-width="0.06" font-weight="bold">C</text>
<line x1="61.4" y1="518.1" x2="61.4" y2="645.4" stroke="#111" stroke-width="1.3"/>
<line x1="60.8" y1="644.8" x2="338" y2="644.8" stroke="#111" stroke-width="1.3"/>
<line x1="57.9" y1="644.8" x2="61.4" y2="644.8" stroke="#111" stroke-width="1.1"/>
<text x="55.9" y="647.5" font-size="7.6" text-anchor="end" fill="#333" stroke="#333" stroke-width="0.06">0</text>
<line x1="57.9" y1="613.1" x2="61.4" y2="613.1" stroke="#111" stroke-width="1.1"/>
<text x="55.9" y="615.8" font-size="7.6" text-anchor="end" fill="#333" stroke="#333" stroke-width="0.06">10</text>
<line x1="57.9" y1="581.4" x2="61.4" y2="581.4" stroke="#111" stroke-width="1.1"/>
<text x="55.9" y="584.1" font-size="7.6" text-anchor="end" fill="#333" stroke="#333" stroke-width="0.06">20</text>
<line x1="57.9" y1="549.7" x2="61.4" y2="549.7" stroke="#111" stroke-width="1.1"/>
<text x="55.9" y="552.4" font-size="7.6" text-anchor="end" fill="#333" stroke="#333" stroke-width="0.06">30</text>
<line x1="57.9" y1="518" x2="61.4" y2="518" stroke="#111" stroke-width="1.1"/>
<text x="55.9" y="520.7" font-size="7.6" text-anchor="end" fill="#333" stroke="#333" stroke-width="0.06">40</text>
<text x="0" y="0" font-size="8.2" text-anchor="middle" fill="#333" textLength="90.8" lengthAdjust="spacingAndGlyphs" transform="translate(37.2 581.6) rotate(-90)">Annexin V positive cells (%)</text>
<rect x="65.75" y="642.5" width="9.3" height="2.3" fill="#8a9095" stroke="#222" stroke-width="0.9"/>
<rect x="79.25" y="642.5" width="9.3" height="2.3" fill="#8a9095" stroke="#222" stroke-width="0.9"/>
<rect x="93" y="638" width="9.3" height="6.8" fill="#ccd8e0" stroke="none"/>
<rect x="93" y="640.2" width="9.3" height="4.6" fill="#d0001a" stroke="none"/>
<line x1="93" y1="640.2" x2="102.3" y2="640.2" stroke="#222" stroke-width="0.8"/>
<rect x="93" y="638" width="9.3" height="6.8" fill="none" stroke="#1a1a1a" stroke-width="1"/>
<rect x="106.75" y="620" width="9.3" height="24.8" fill="#ccd8e0" stroke="none"/>
<rect x="106.75" y="642" width="9.3" height="2.8" fill="#d0001a" stroke="none"/>
<line x1="106.75" y1="642" x2="116.05" y2="642" stroke="#222" stroke-width="0.8"/>
<rect x="106.75" y="620" width="9.3" height="24.8" fill="none" stroke="#1a1a1a" stroke-width="1"/>
<rect x="120" y="612" width="9.3" height="32.8" fill="#ccd8e0" stroke="none"/>
<rect x="120" y="612" width="9.3" height="32.8" fill="none" stroke="#1a1a1a" stroke-width="1"/>
<rect x="133.5" y="615.5" width="9.3" height="29.3" fill="#ccd8e0" stroke="none"/>
<rect x="133.5" y="641.2" width="9.3" height="3.6" fill="#d0001a" stroke="none"/>
<line x1="133.5" y1="641.2" x2="142.8" y2="641.2" stroke="#222" stroke-width="0.8"/>
<rect x="133.5" y="615.5" width="9.3" height="29.3" fill="none" stroke="#1a1a1a" stroke-width="1"/>
<rect x="160.5" y="621.75" width="9.3" height="23.05" fill="#ccd8e0" stroke="none"/>
<rect x="160.5" y="625.75" width="9.3" height="19.05" fill="#d0001a" stroke="none"/>
<line x1="160.5" y1="625.75" x2="169.8" y2="625.75" stroke="#222" stroke-width="0.8"/>
<rect x="160.5" y="621.75" width="9.3" height="23.05" fill="none" stroke="#1a1a1a" stroke-width="1"/>
<rect x="174.25" y="631.75" width="9.3" height="13.05" fill="#ccd8e0" stroke="none"/>
<rect x="174.25" y="635.5" width="9.3" height="9.3" fill="#d0001a" stroke="none"/>
<line x1="174.25" y1="635.5" x2="183.55" y2="635.5" stroke="#222" stroke-width="0.8"/>
<rect x="174.25" y="631.75" width="9.3" height="13.05" fill="none" stroke="#1a1a1a" stroke-width="1"/>
<rect x="188" y="635.75" width="9.3" height="9.05" fill="#ccd8e0" stroke="none"/>
<rect x="188" y="637.6" width="9.3" height="7.2" fill="#d0001a" stroke="none"/>
<line x1="188" y1="637.6" x2="197.3" y2="637.6" stroke="#222" stroke-width="0.8"/>
<rect x="188" y="635.75" width="9.3" height="9.05" fill="none" stroke="#1a1a1a" stroke-width="1"/>
<rect x="201.25" y="555.5" width="9.3" height="89.3" fill="#ccd8e0" stroke="none"/>
<rect x="201.25" y="560.5" width="9.3" height="84.3" fill="#d0001a" stroke="none"/>
<line x1="201.25" y1="560.5" x2="210.55" y2="560.5" stroke="#222" stroke-width="0.8"/>
<rect x="201.25" y="555.5" width="9.3" height="89.3" fill="none" stroke="#1a1a1a" stroke-width="1"/>
<rect x="215" y="584.25" width="9.3" height="60.55" fill="#ccd8e0" stroke="none"/>
<rect x="215" y="593.25" width="9.3" height="51.55" fill="#d0001a" stroke="none"/>
<line x1="215" y1="593.25" x2="224.3" y2="593.25" stroke="#222" stroke-width="0.8"/>
<rect x="215" y="584.25" width="9.3" height="60.55" fill="none" stroke="#1a1a1a" stroke-width="1"/>
<rect x="228.25" y="612.5" width="9.3" height="32.3" fill="#ccd8e0" stroke="none"/>
<rect x="228.25" y="624.5" width="9.3" height="20.3" fill="#d0001a" stroke="none"/>
<line x1="228.25" y1="624.5" x2="237.55" y2="624.5" stroke="#222" stroke-width="0.8"/>
<rect x="228.25" y="612.5" width="9.3" height="32.3" fill="none" stroke="#1a1a1a" stroke-width="1"/>
<rect x="255" y="623.6" width="9.3" height="21.2" fill="#ccd8e0" stroke="none"/>
<rect x="255" y="627.8" width="9.3" height="17" fill="#d0001a" stroke="none"/>
<line x1="255" y1="627.8" x2="264.3" y2="627.8" stroke="#222" stroke-width="0.8"/>
<rect x="255" y="623.6" width="9.3" height="21.2" fill="none" stroke="#1a1a1a" stroke-width="1"/>
<rect x="268.7" y="608.5" width="9.3" height="36.3" fill="#ccd8e0" stroke="none"/>
<rect x="268.7" y="611" width="9.3" height="33.8" fill="#d0001a" stroke="none"/>
<line x1="268.7" y1="611" x2="278" y2="611" stroke="#222" stroke-width="0.8"/>
<rect x="268.7" y="608.5" width="9.3" height="36.3" fill="none" stroke="#1a1a1a" stroke-width="1"/>
<rect x="282.1" y="619.7" width="9.3" height="25.1" fill="#ccd8e0" stroke="none"/>
<rect x="282.1" y="619.7" width="9.3" height="25.1" fill="#d0001a" stroke="none"/>
<rect x="282.1" y="619.7" width="9.3" height="25.1" fill="none" stroke="#1a1a1a" stroke-width="1"/>
<rect x="295.6" y="527.4" width="9.3" height="117.4" fill="#ccd8e0" stroke="none"/>
<rect x="295.6" y="572.1" width="9.3" height="72.7" fill="#d0001a" stroke="none"/>
<line x1="295.6" y1="572.1" x2="304.9" y2="572.1" stroke="#222" stroke-width="0.8"/>
<rect x="295.6" y="527.4" width="9.3" height="117.4" fill="none" stroke="#1a1a1a" stroke-width="1"/>
<rect x="309.3" y="537.2" width="9.3" height="107.6" fill="#ccd8e0" stroke="none"/>
<rect x="309.3" y="576" width="9.3" height="68.8" fill="#d0001a" stroke="none"/>
<line x1="309.3" y1="576" x2="318.6" y2="576" stroke="#222" stroke-width="0.8"/>
<rect x="309.3" y="537.2" width="9.3" height="107.6" fill="none" stroke="#1a1a1a" stroke-width="1"/>
<rect x="323.2" y="590.3" width="9.3" height="54.5" fill="#ccd8e0" stroke="none"/>
<rect x="323.2" y="604.3" width="9.3" height="40.5" fill="#d0001a" stroke="none"/>
<line x1="323.2" y1="604.3" x2="332.5" y2="604.3" stroke="#222" stroke-width="0.8"/>
<rect x="323.2" y="590.3" width="9.3" height="54.5" fill="none" stroke="#1a1a1a" stroke-width="1"/>
<line x1="60.8" y1="644.8" x2="338" y2="644.8" stroke="#111" stroke-width="1.3"/>
<line x1="68.7" y1="554" x2="144.6" y2="554" stroke="#111" stroke-width="1.3"/>
<text x="106.9" y="553.6" font-size="9.0" text-anchor="middle" fill="#222" stroke="#222" stroke-width="0.06">**</text>
<line x1="162" y1="537.8" x2="237.5" y2="537.8" stroke="#111" stroke-width="1.3"/>
<text x="199.8" y="534.3" font-size="8.0" text-anchor="middle" fill="#333" stroke="#333" stroke-width="0.06" textLength="34.5" lengthAdjust="spacingAndGlyphs">P = 0.054</text>
<line x1="254.8" y1="519.3" x2="330.8" y2="519.3" stroke="#111" stroke-width="1.3"/>
<text x="292.7" y="516.6" font-size="9.5" text-anchor="middle" fill="#222" stroke="#222" stroke-width="0.06">*</text>
<text x="0" y="0" font-size="10.0" text-anchor="end" fill="#1a1a1a" stroke="#1a1a1a" stroke-width="0.15" textLength="21.5" lengthAdjust="spacingAndGlyphs" transform="translate(75.65 651.4) rotate(-52)">CTRL1</text>
<text x="0" y="0" font-size="10.0" text-anchor="end" fill="#1a1a1a" stroke="#1a1a1a" stroke-width="0.15" textLength="21.5" lengthAdjust="spacingAndGlyphs" transform="translate(89.2 651.4) rotate(-52)">CTRL2</text>
<text x="0" y="0" font-size="10.0" text-anchor="end" fill="#1a1a1a" stroke="#1a1a1a" stroke-width="0.15" textLength="21.5" lengthAdjust="spacingAndGlyphs" transform="translate(102.75 651.4) rotate(-52)">CTRL3</text>
<text x="0" y="0" font-size="10.0" text-anchor="end" fill="#1a1a1a" stroke="#1a1a1a" stroke-width="0.15" textLength="10.4" lengthAdjust="spacingAndGlyphs" transform="translate(116.3 651.4) rotate(-52)">P1</text>
<text x="0" y="0" font-size="10.0" text-anchor="end" fill="#1a1a1a" stroke="#1a1a1a" stroke-width="0.15" textLength="10.4" lengthAdjust="spacingAndGlyphs" transform="translate(129.85 651.4) rotate(-52)">P2</text>
<text x="0" y="0" font-size="10.0" text-anchor="end" fill="#1a1a1a" stroke="#1a1a1a" stroke-width="0.15" textLength="10.4" lengthAdjust="spacingAndGlyphs" transform="translate(143.4 651.4) rotate(-52)">P4</text>
<text x="0" y="0" font-size="10.0" text-anchor="end" fill="#1a1a1a" stroke="#1a1a1a" stroke-width="0.15" textLength="21.5" lengthAdjust="spacingAndGlyphs" transform="translate(170.4 651.4) rotate(-52)">CTRL1</text>
<text x="0" y="0" font-size="10.0" text-anchor="end" fill="#1a1a1a" stroke="#1a1a1a" stroke-width="0.15" textLength="21.5" lengthAdjust="spacingAndGlyphs" transform="translate(183.95 651.4) rotate(-52)">CTRL2</text>
<text x="0" y="0" font-size="10.0" text-anchor="end" fill="#1a1a1a" stroke="#1a1a1a" stroke-width="0.15" textLength="21.5" lengthAdjust="spacingAndGlyphs" transform="translate(197.5 651.4) rotate(-52)">CTRL3</text>
<text x="0" y="0" font-size="10.0" text-anchor="end" fill="#1a1a1a" stroke="#1a1a1a" stroke-width="0.15" textLength="10.4" lengthAdjust="spacingAndGlyphs" transform="translate(211.05 651.4) rotate(-52)">P1</text>
<text x="0" y="0" font-size="10.0" text-anchor="end" fill="#1a1a1a" stroke="#1a1a1a" stroke-width="0.15" textLength="10.4" lengthAdjust="spacingAndGlyphs" transform="translate(224.6 651.4) rotate(-52)">P2</text>
<text x="0" y="0" font-size="10.0" text-anchor="end" fill="#1a1a1a" stroke="#1a1a1a" stroke-width="0.15" textLength="10.4" lengthAdjust="spacingAndGlyphs" transform="translate(238.15 651.4) rotate(-52)">P4</text>
<text x="0" y="0" font-size="10.0" text-anchor="end" fill="#1a1a1a" stroke="#1a1a1a" stroke-width="0.15" textLength="21.5" lengthAdjust="spacingAndGlyphs" transform="translate(264.9 651.4) rotate(-52)">CTRL1</text>
<text x="0" y="0" font-size="10.0" text-anchor="end" fill="#1a1a1a" stroke="#1a1a1a" stroke-width="0.15" textLength="21.5" lengthAdjust="spacingAndGlyphs" transform="translate(278.45 651.4) rotate(-52)">CTRL2</text>
<text x="0" y="0" font-size="10.0" text-anchor="end" fill="#1a1a1a" stroke="#1a1a1a" stroke-width="0.15" textLength="21.5" lengthAdjust="spacingAndGlyphs" transform="translate(292 651.4) rotate(-52)">CTRL3</text>
<text x="0" y="0" font-size="10.0" text-anchor="end" fill="#1a1a1a" stroke="#1a1a1a" stroke-width="0.15" textLength="10.4" lengthAdjust="spacingAndGlyphs" transform="translate(305.55 651.4) rotate(-52)">P1</text>
<text x="0" y="0" font-size="10.0" text-anchor="end" fill="#1a1a1a" stroke="#1a1a1a" stroke-width="0.15" textLength="10.4" lengthAdjust="spacingAndGlyphs" transform="translate(319.1 651.4) rotate(-52)">P2</text>
<text x="0" y="0" font-size="10.0" text-anchor="end" fill="#1a1a1a" stroke="#1a1a1a" stroke-width="0.15" textLength="10.4" lengthAdjust="spacingAndGlyphs" transform="translate(332.65 651.4) rotate(-52)">P4</text>
<line x1="61.9" y1="672.5" x2="145.4" y2="672.5" stroke="#222" stroke-width="1"/>
<text x="103.5" y="683" font-size="9.0" text-anchor="middle" fill="#1a1a1a" stroke="#1a1a1a" stroke-width="0.15" textLength="54.8" lengthAdjust="spacingAndGlyphs">Unstimulated</text>
<line x1="159.5" y1="672.5" x2="243" y2="672.5" stroke="#222" stroke-width="1"/>
<text x="201.3" y="683" font-size="9.0" text-anchor="middle" fill="#1a1a1a" stroke="#1a1a1a" stroke-width="0.15" textLength="65" lengthAdjust="spacingAndGlyphs">+ α–CD3/CD28</text>
<line x1="254" y1="672.5" x2="338" y2="672.5" stroke="#222" stroke-width="1"/>
<text x="296" y="683" font-size="9.0" text-anchor="middle" fill="#1a1a1a" stroke="#1a1a1a" stroke-width="0.15" textLength="75.5" lengthAdjust="spacingAndGlyphs">+ PMA/Ionomycin</text>
<rect x="350.2" y="527.2" width="8" height="7.4" fill="#ccd8e0" stroke="#222" stroke-width="0.9"/>
<rect x="350.2" y="535.3" width="8" height="7.4" fill="#d0001a" stroke="#222" stroke-width="0.9"/>
<text x="363.8" y="533.3" font-size="7.6" text-anchor="start" fill="#111" stroke="#111" stroke-width="0.06" textLength="90.7" lengthAdjust="spacingAndGlyphs">Annexin V+ DAPI+ cells (%)</text>
<text x="363.8" y="542.1" font-size="7.6" text-anchor="start" fill="#111" stroke="#111" stroke-width="0.06" textLength="89.5" lengthAdjust="spacingAndGlyphs">Annexin V+ DAPI– cells (%)</text>
</g>
</svg>
</body></html>
